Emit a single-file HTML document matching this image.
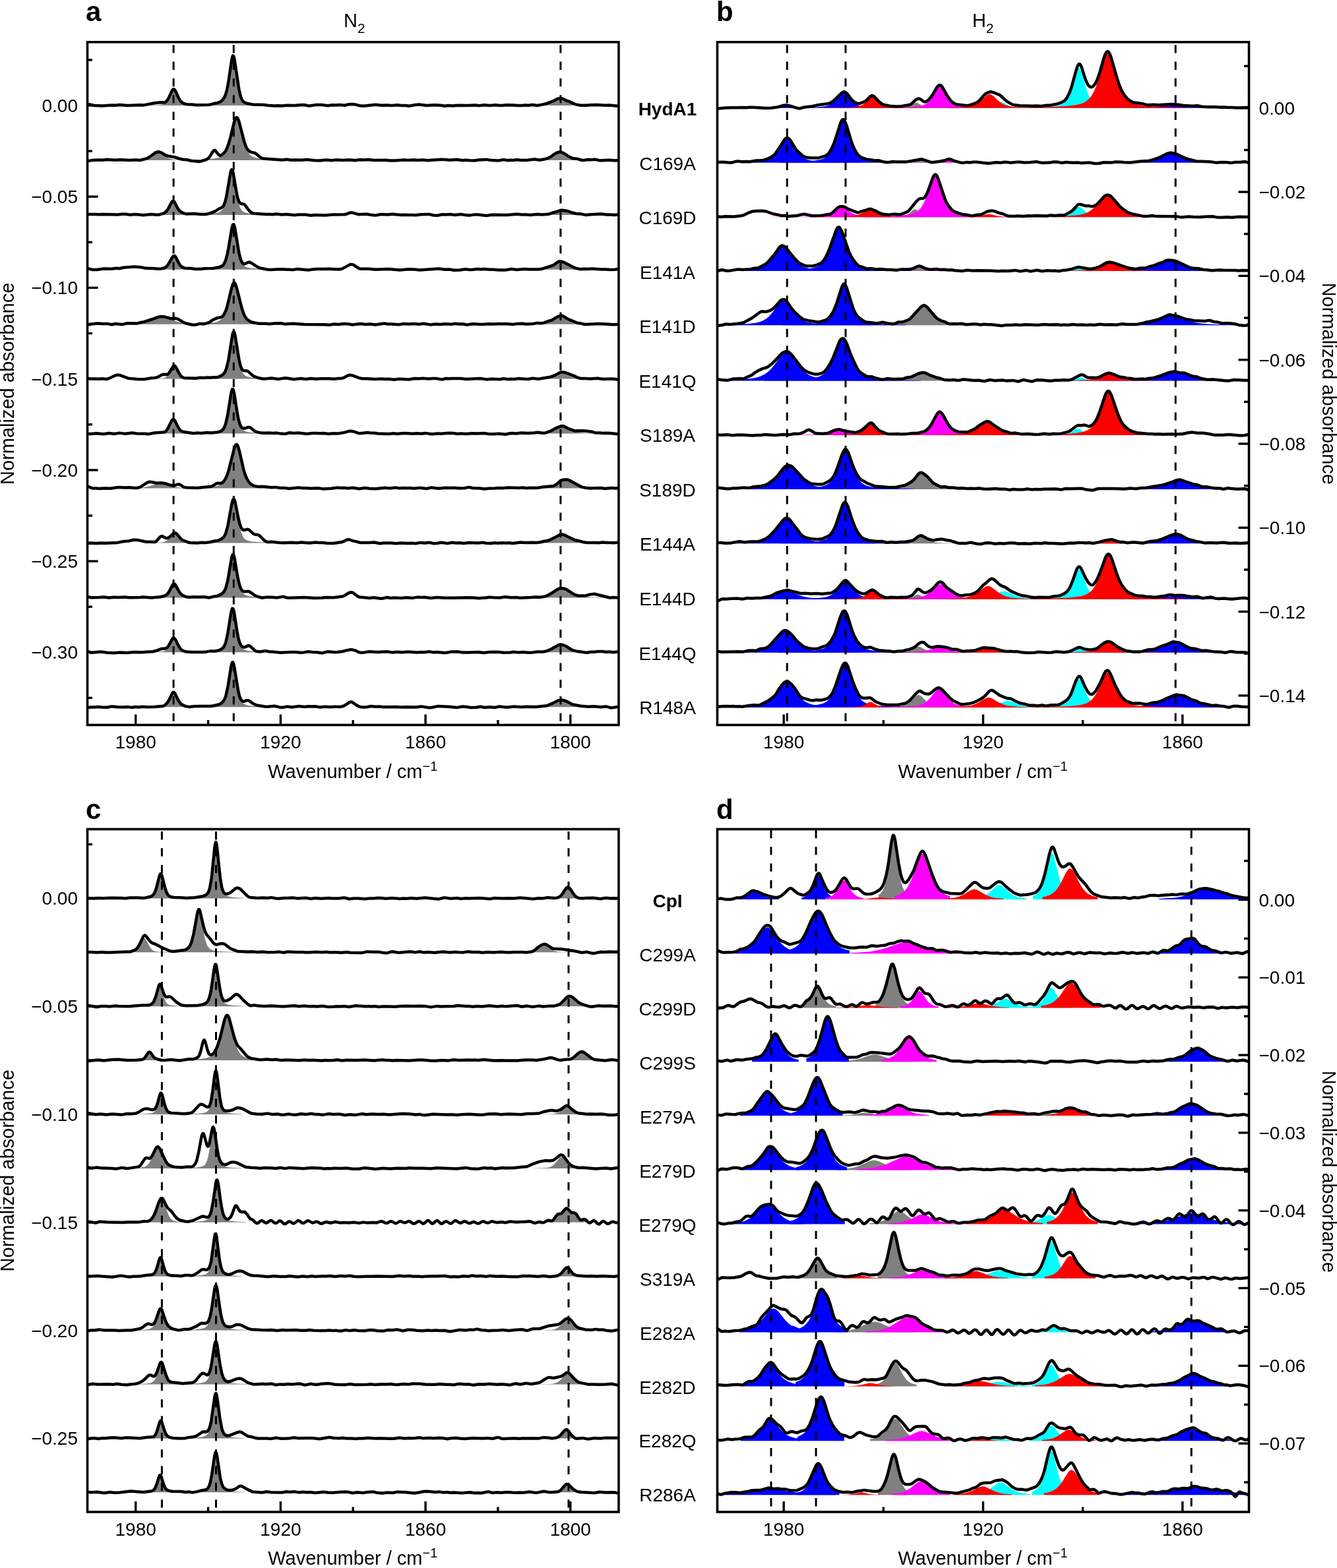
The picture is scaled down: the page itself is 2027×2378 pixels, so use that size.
<!DOCTYPE html>
<html><head><meta charset="utf-8"><title>Figure</title>
<style>html,body{margin:0;padding:0;background:#fff;}svg{display:block;}</style></head>
<body><svg width="2027" height="2378" viewBox="0 0 2027 2378" font-family='"Liberation Sans", Arial, Helvetica, sans-serif'>
<rect width="2027" height="2378" fill="#fff"/>
<rect x="132.5" y="63.8" width="805.5" height="1035.7" fill="none" stroke="#000" stroke-width="3.6" stroke-linejoin="miter"/>
<rect x="1087.5" y="63.8" width="806.0" height="1035.7" fill="none" stroke="#000" stroke-width="3.6" stroke-linejoin="miter"/>
<rect x="132.5" y="1257.5" width="805.5" height="1035.5" fill="none" stroke="#000" stroke-width="3.6" stroke-linejoin="miter"/>
<rect x="1087.5" y="1257.5" width="806.0" height="1035.5" fill="none" stroke="#000" stroke-width="3.6" stroke-linejoin="miter"/>
<line x1="205.7" y1="1099.5" x2="205.7" y2="1083.5" stroke="#000" stroke-width="3.4"/>
<text x="205.7" y="1135.0" font-size="28" text-anchor="middle">1980</text>
<line x1="425.4" y1="1099.5" x2="425.4" y2="1083.5" stroke="#000" stroke-width="3.4"/>
<text x="425.4" y="1135.0" font-size="28" text-anchor="middle">1920</text>
<line x1="645.1" y1="1099.5" x2="645.1" y2="1083.5" stroke="#000" stroke-width="3.4"/>
<text x="645.1" y="1135.0" font-size="28" text-anchor="middle">1860</text>
<line x1="864.8" y1="1099.5" x2="864.8" y2="1083.5" stroke="#000" stroke-width="3.4"/>
<text x="864.8" y="1135.0" font-size="28" text-anchor="middle">1800</text>
<line x1="315.6" y1="1099.5" x2="315.6" y2="1092.0" stroke="#000" stroke-width="3.4"/>
<line x1="535.2" y1="1099.5" x2="535.2" y2="1092.0" stroke="#000" stroke-width="3.4"/>
<line x1="754.9" y1="1099.5" x2="754.9" y2="1092.0" stroke="#000" stroke-width="3.4"/>
<text x="534.8" y="1179.5" font-size="29" text-anchor="middle">Wavenumber / cm<tspan font-size="20" dy="-11">−</tspan><tspan font-size="20">1</tspan></text>
<line x1="1188.2" y1="1099.5" x2="1188.2" y2="1083.5" stroke="#000" stroke-width="3.4"/>
<text x="1188.2" y="1135.0" font-size="28" text-anchor="middle">1980</text>
<line x1="1490.5" y1="1099.5" x2="1490.5" y2="1083.5" stroke="#000" stroke-width="3.4"/>
<text x="1490.5" y="1135.0" font-size="28" text-anchor="middle">1920</text>
<line x1="1792.8" y1="1099.5" x2="1792.8" y2="1083.5" stroke="#000" stroke-width="3.4"/>
<text x="1792.8" y="1135.0" font-size="28" text-anchor="middle">1860</text>
<line x1="1339.4" y1="1099.5" x2="1339.4" y2="1092.0" stroke="#000" stroke-width="3.4"/>
<line x1="1641.6" y1="1099.5" x2="1641.6" y2="1092.0" stroke="#000" stroke-width="3.4"/>
<text x="1490.0" y="1179.5" font-size="29" text-anchor="middle">Wavenumber / cm<tspan font-size="20" dy="-11">−</tspan><tspan font-size="20">1</tspan></text>
<line x1="205.7" y1="2293.0" x2="205.7" y2="2277.0" stroke="#000" stroke-width="3.4"/>
<text x="205.7" y="2328.5" font-size="28" text-anchor="middle">1980</text>
<line x1="425.4" y1="2293.0" x2="425.4" y2="2277.0" stroke="#000" stroke-width="3.4"/>
<text x="425.4" y="2328.5" font-size="28" text-anchor="middle">1920</text>
<line x1="645.1" y1="2293.0" x2="645.1" y2="2277.0" stroke="#000" stroke-width="3.4"/>
<text x="645.1" y="2328.5" font-size="28" text-anchor="middle">1860</text>
<line x1="864.8" y1="2293.0" x2="864.8" y2="2277.0" stroke="#000" stroke-width="3.4"/>
<text x="864.8" y="2328.5" font-size="28" text-anchor="middle">1800</text>
<line x1="315.6" y1="2293.0" x2="315.6" y2="2285.5" stroke="#000" stroke-width="3.4"/>
<line x1="535.2" y1="2293.0" x2="535.2" y2="2285.5" stroke="#000" stroke-width="3.4"/>
<line x1="754.9" y1="2293.0" x2="754.9" y2="2285.5" stroke="#000" stroke-width="3.4"/>
<text x="534.8" y="2373.0" font-size="29" text-anchor="middle">Wavenumber / cm<tspan font-size="20" dy="-11">−</tspan><tspan font-size="20">1</tspan></text>
<line x1="1188.2" y1="2293.0" x2="1188.2" y2="2277.0" stroke="#000" stroke-width="3.4"/>
<text x="1188.2" y="2328.5" font-size="28" text-anchor="middle">1980</text>
<line x1="1490.5" y1="2293.0" x2="1490.5" y2="2277.0" stroke="#000" stroke-width="3.4"/>
<text x="1490.5" y="2328.5" font-size="28" text-anchor="middle">1920</text>
<line x1="1792.8" y1="2293.0" x2="1792.8" y2="2277.0" stroke="#000" stroke-width="3.4"/>
<text x="1792.8" y="2328.5" font-size="28" text-anchor="middle">1860</text>
<line x1="1339.4" y1="2293.0" x2="1339.4" y2="2285.5" stroke="#000" stroke-width="3.4"/>
<line x1="1641.6" y1="2293.0" x2="1641.6" y2="2285.5" stroke="#000" stroke-width="3.4"/>
<text x="1490.0" y="2373.0" font-size="29" text-anchor="middle">Wavenumber / cm<tspan font-size="20" dy="-11">−</tspan><tspan font-size="20">1</tspan></text>
<line x1="132.5" y1="160.0" x2="148.5" y2="160.0" stroke="#000" stroke-width="3.4"/>
<text x="118.0" y="170.0" font-size="28" text-anchor="end">0.00</text>
<line x1="132.5" y1="298.2" x2="148.5" y2="298.2" stroke="#000" stroke-width="3.4"/>
<text x="118.0" y="308.2" font-size="28" text-anchor="end">−0.05</text>
<line x1="132.5" y1="436.4" x2="148.5" y2="436.4" stroke="#000" stroke-width="3.4"/>
<text x="118.0" y="446.4" font-size="28" text-anchor="end">−0.10</text>
<line x1="132.5" y1="574.6" x2="148.5" y2="574.6" stroke="#000" stroke-width="3.4"/>
<text x="118.0" y="584.6" font-size="28" text-anchor="end">−0.15</text>
<line x1="132.5" y1="712.9" x2="148.5" y2="712.9" stroke="#000" stroke-width="3.4"/>
<text x="118.0" y="722.9" font-size="28" text-anchor="end">−0.20</text>
<line x1="132.5" y1="851.1" x2="148.5" y2="851.1" stroke="#000" stroke-width="3.4"/>
<text x="118.0" y="861.1" font-size="28" text-anchor="end">−0.25</text>
<line x1="132.5" y1="989.3" x2="148.5" y2="989.3" stroke="#000" stroke-width="3.4"/>
<text x="118.0" y="999.3" font-size="28" text-anchor="end">−0.30</text>
<line x1="132.5" y1="1058.4" x2="140.0" y2="1058.4" stroke="#000" stroke-width="3.4"/>
<line x1="132.5" y1="920.2" x2="140.0" y2="920.2" stroke="#000" stroke-width="3.4"/>
<line x1="132.5" y1="782.0" x2="140.0" y2="782.0" stroke="#000" stroke-width="3.4"/>
<line x1="132.5" y1="643.8" x2="140.0" y2="643.8" stroke="#000" stroke-width="3.4"/>
<line x1="132.5" y1="505.5" x2="140.0" y2="505.5" stroke="#000" stroke-width="3.4"/>
<line x1="132.5" y1="367.3" x2="140.0" y2="367.3" stroke="#000" stroke-width="3.4"/>
<line x1="132.5" y1="229.1" x2="140.0" y2="229.1" stroke="#000" stroke-width="3.4"/>
<line x1="132.5" y1="90.9" x2="140.0" y2="90.9" stroke="#000" stroke-width="3.4"/>
<line x1="1893.5" y1="163.8" x2="1877.5" y2="163.8" stroke="#000" stroke-width="3.4"/>
<text x="1908.5" y="173.8" font-size="28" text-anchor="start">0.00</text>
<line x1="1893.5" y1="291.1" x2="1877.5" y2="291.1" stroke="#000" stroke-width="3.4"/>
<text x="1908.5" y="301.1" font-size="28" text-anchor="start">−0.02</text>
<line x1="1893.5" y1="418.4" x2="1877.5" y2="418.4" stroke="#000" stroke-width="3.4"/>
<text x="1908.5" y="428.4" font-size="28" text-anchor="start">−0.04</text>
<line x1="1893.5" y1="545.7" x2="1877.5" y2="545.7" stroke="#000" stroke-width="3.4"/>
<text x="1908.5" y="555.7" font-size="28" text-anchor="start">−0.06</text>
<line x1="1893.5" y1="673.0" x2="1877.5" y2="673.0" stroke="#000" stroke-width="3.4"/>
<text x="1908.5" y="683.0" font-size="28" text-anchor="start">−0.08</text>
<line x1="1893.5" y1="800.3" x2="1877.5" y2="800.3" stroke="#000" stroke-width="3.4"/>
<text x="1908.5" y="810.3" font-size="28" text-anchor="start">−0.10</text>
<line x1="1893.5" y1="927.6" x2="1877.5" y2="927.6" stroke="#000" stroke-width="3.4"/>
<text x="1908.5" y="937.6" font-size="28" text-anchor="start">−0.12</text>
<line x1="1893.5" y1="1054.9" x2="1877.5" y2="1054.9" stroke="#000" stroke-width="3.4"/>
<text x="1908.5" y="1064.9" font-size="28" text-anchor="start">−0.14</text>
<line x1="1893.5" y1="991.2" x2="1886.0" y2="991.2" stroke="#000" stroke-width="3.4"/>
<line x1="1893.5" y1="864.0" x2="1886.0" y2="864.0" stroke="#000" stroke-width="3.4"/>
<line x1="1893.5" y1="736.7" x2="1886.0" y2="736.7" stroke="#000" stroke-width="3.4"/>
<line x1="1893.5" y1="609.4" x2="1886.0" y2="609.4" stroke="#000" stroke-width="3.4"/>
<line x1="1893.5" y1="482.1" x2="1886.0" y2="482.1" stroke="#000" stroke-width="3.4"/>
<line x1="1893.5" y1="354.8" x2="1886.0" y2="354.8" stroke="#000" stroke-width="3.4"/>
<line x1="1893.5" y1="227.5" x2="1886.0" y2="227.5" stroke="#000" stroke-width="3.4"/>
<line x1="1893.5" y1="100.2" x2="1886.0" y2="100.2" stroke="#000" stroke-width="3.4"/>
<line x1="132.5" y1="1362.4" x2="148.5" y2="1362.4" stroke="#000" stroke-width="3.4"/>
<text x="118.0" y="1372.4" font-size="28" text-anchor="end">0.00</text>
<line x1="132.5" y1="1526.2" x2="148.5" y2="1526.2" stroke="#000" stroke-width="3.4"/>
<text x="118.0" y="1536.2" font-size="28" text-anchor="end">−0.05</text>
<line x1="132.5" y1="1690.0" x2="148.5" y2="1690.0" stroke="#000" stroke-width="3.4"/>
<text x="118.0" y="1700.0" font-size="28" text-anchor="end">−0.10</text>
<line x1="132.5" y1="1853.8" x2="148.5" y2="1853.8" stroke="#000" stroke-width="3.4"/>
<text x="118.0" y="1863.8" font-size="28" text-anchor="end">−0.15</text>
<line x1="132.5" y1="2017.6" x2="148.5" y2="2017.6" stroke="#000" stroke-width="3.4"/>
<text x="118.0" y="2027.6" font-size="28" text-anchor="end">−0.20</text>
<line x1="132.5" y1="2181.4" x2="148.5" y2="2181.4" stroke="#000" stroke-width="3.4"/>
<text x="118.0" y="2191.4" font-size="28" text-anchor="end">−0.25</text>
<line x1="132.5" y1="2263.3" x2="140.0" y2="2263.3" stroke="#000" stroke-width="3.4"/>
<line x1="132.5" y1="2099.5" x2="140.0" y2="2099.5" stroke="#000" stroke-width="3.4"/>
<line x1="132.5" y1="1935.7" x2="140.0" y2="1935.7" stroke="#000" stroke-width="3.4"/>
<line x1="132.5" y1="1771.9" x2="140.0" y2="1771.9" stroke="#000" stroke-width="3.4"/>
<line x1="132.5" y1="1608.1" x2="140.0" y2="1608.1" stroke="#000" stroke-width="3.4"/>
<line x1="132.5" y1="1444.3" x2="140.0" y2="1444.3" stroke="#000" stroke-width="3.4"/>
<line x1="132.5" y1="1280.5" x2="140.0" y2="1280.5" stroke="#000" stroke-width="3.4"/>
<line x1="1893.5" y1="1364.5" x2="1877.5" y2="1364.5" stroke="#000" stroke-width="3.4"/>
<text x="1908.5" y="1374.5" font-size="28" text-anchor="start">0.00</text>
<line x1="1893.5" y1="1482.3" x2="1877.5" y2="1482.3" stroke="#000" stroke-width="3.4"/>
<text x="1908.5" y="1492.3" font-size="28" text-anchor="start">−0.01</text>
<line x1="1893.5" y1="1600.1" x2="1877.5" y2="1600.1" stroke="#000" stroke-width="3.4"/>
<text x="1908.5" y="1610.1" font-size="28" text-anchor="start">−0.02</text>
<line x1="1893.5" y1="1717.9" x2="1877.5" y2="1717.9" stroke="#000" stroke-width="3.4"/>
<text x="1908.5" y="1727.9" font-size="28" text-anchor="start">−0.03</text>
<line x1="1893.5" y1="1835.7" x2="1877.5" y2="1835.7" stroke="#000" stroke-width="3.4"/>
<text x="1908.5" y="1845.7" font-size="28" text-anchor="start">−0.04</text>
<line x1="1893.5" y1="1953.5" x2="1877.5" y2="1953.5" stroke="#000" stroke-width="3.4"/>
<text x="1908.5" y="1963.5" font-size="28" text-anchor="start">−0.05</text>
<line x1="1893.5" y1="2071.3" x2="1877.5" y2="2071.3" stroke="#000" stroke-width="3.4"/>
<text x="1908.5" y="2081.3" font-size="28" text-anchor="start">−0.06</text>
<line x1="1893.5" y1="2189.1" x2="1877.5" y2="2189.1" stroke="#000" stroke-width="3.4"/>
<text x="1908.5" y="2199.1" font-size="28" text-anchor="start">−0.07</text>
<line x1="1893.5" y1="2248.0" x2="1886.0" y2="2248.0" stroke="#000" stroke-width="3.4"/>
<line x1="1893.5" y1="2130.2" x2="1886.0" y2="2130.2" stroke="#000" stroke-width="3.4"/>
<line x1="1893.5" y1="2012.4" x2="1886.0" y2="2012.4" stroke="#000" stroke-width="3.4"/>
<line x1="1893.5" y1="1894.6" x2="1886.0" y2="1894.6" stroke="#000" stroke-width="3.4"/>
<line x1="1893.5" y1="1776.8" x2="1886.0" y2="1776.8" stroke="#000" stroke-width="3.4"/>
<line x1="1893.5" y1="1659.0" x2="1886.0" y2="1659.0" stroke="#000" stroke-width="3.4"/>
<line x1="1893.5" y1="1541.2" x2="1886.0" y2="1541.2" stroke="#000" stroke-width="3.4"/>
<line x1="1893.5" y1="1423.4" x2="1886.0" y2="1423.4" stroke="#000" stroke-width="3.4"/>
<line x1="1893.5" y1="1305.6" x2="1886.0" y2="1305.6" stroke="#000" stroke-width="3.4"/>
<text x="130" y="31.5" font-size="42" font-weight="bold">a</text>
<text x="1086" y="31.5" font-size="42" font-weight="bold">b</text>
<text x="130" y="1242" font-size="42" font-weight="bold">c</text>
<text x="1086" y="1242" font-size="42" font-weight="bold">d</text>
<text x="521" y="40.8" font-size="29">N<tspan font-size="20.5" dy="8.8">2</tspan></text>
<text x="1474" y="40.8" font-size="29">H<tspan font-size="20.5" dy="8.8">2</tspan></text>
<text transform="translate(20.8,581.8) rotate(-90)" font-size="29" text-anchor="middle">Normalized absorbance</text>
<text transform="translate(20.8,1775.3) rotate(-90)" font-size="29" text-anchor="middle">Normalized absorbance</text>
<text transform="translate(2005.4,581.8) rotate(90)" font-size="29" text-anchor="middle">Normalized absorbance</text>
<text transform="translate(2005.4,1776.9) rotate(90)" font-size="29" text-anchor="middle">Normalized absorbance</text>
<text x="1012" y="175.0" font-size="28" text-anchor="middle" font-weight="bold">HydA1</text>
<text x="1012" y="257.6" font-size="28" text-anchor="middle">C169A</text>
<text x="1012" y="340.1" font-size="28" text-anchor="middle">C169D</text>
<text x="1012" y="422.6" font-size="28" text-anchor="middle">E141A</text>
<text x="1012" y="505.2" font-size="28" text-anchor="middle">E141D</text>
<text x="1012" y="587.8" font-size="28" text-anchor="middle">E141Q</text>
<text x="1012" y="670.3" font-size="28" text-anchor="middle">S189A</text>
<text x="1012" y="752.9" font-size="28" text-anchor="middle">S189D</text>
<text x="1012" y="835.4" font-size="28" text-anchor="middle">E144A</text>
<text x="1012" y="917.9" font-size="28" text-anchor="middle">E144D</text>
<text x="1012" y="1000.5" font-size="28" text-anchor="middle">E144Q</text>
<text x="1012" y="1083.0" font-size="28" text-anchor="middle">R148A</text>
<text x="1012" y="1376.4" font-size="28" text-anchor="middle" font-weight="bold">CpI</text>
<text x="1012" y="1458.3" font-size="28" text-anchor="middle">C299A</text>
<text x="1012" y="1540.2" font-size="28" text-anchor="middle">C299D</text>
<text x="1012" y="1622.1" font-size="28" text-anchor="middle">C299S</text>
<text x="1012" y="1704.0" font-size="28" text-anchor="middle">E279A</text>
<text x="1012" y="1785.9" font-size="28" text-anchor="middle">E279D</text>
<text x="1012" y="1867.8" font-size="28" text-anchor="middle">E279Q</text>
<text x="1012" y="1949.7" font-size="28" text-anchor="middle">S319A</text>
<text x="1012" y="2031.6" font-size="28" text-anchor="middle">E282A</text>
<text x="1012" y="2113.5" font-size="28" text-anchor="middle">E282D</text>
<text x="1012" y="2195.4" font-size="28" text-anchor="middle">E282Q</text>
<text x="1012" y="2277.3" font-size="28" text-anchor="middle">R286A</text>
<g><path d="M208.6 160l0-0.1l30.5-0.6l6-0.5l3.5-1.1l2.5-1.7l2.5-3.2l2-3.8l5-11.8l1.5-2.2l1-0.5l1 0.4l1.5 1.9l5 11.8l2.5 4.7l2.5 2.9l2.5 1.6l3.5 1l6 0.6l30.2 0.5l0 0.1z" fill="#808080"/><path d="M301 160l0-0.6l17.5-0.7l6-0.5l5-0.8l3.5-0.9l2.5-1.1l2-1.4l2-2.3l1.5-2.8l1-2.5l1.5-5.1l1-4.3l2-11.4l4.5-31.8l1.5-6.9l0.5-1l0.5-0.4l0.5 0.4l0.5 1l1.5 6.9l4.5 31.8l2 11.4l1 4.3l1.5 5.1l1 2.5l1.5 2.8l2 2.3l2 1.4l2.5 1.1l3.5 0.9l5 0.8l6 0.5l17.5 0.7l0 0.6z" fill="#808080"/><path d="M740.8 160l0-0.1l59-0.2l13-0.3l7.5-0.4l5.5-0.8l5-1.3l5-1.9l9-4.3l2.5-0.9l2.5-0.3l2.5 0.2l2.5 0.8l9.5 4.5l4.5 1.8l4.5 1.2l4.5 0.8l6.5 0.5l9 0.3l42.9 0.3l0 0.1z" fill="#808080"/><path d="M184.1 242.9l0-0.1l24-0.2l5.5-0.3l4-0.6l3.5-1l3.5-1.5l11-6.8l2-0.7l2-0.3l2 0.3l2 0.7l11 6.8l3.5 1.6l3.5 0.9l4 0.6l5 0.3l24.3 0.2l0 0.1z" fill="#808080"/><path d="M279.1 242.9l0-0.5l26-0.5l16.5-1.1l5.5-0.8l4-0.9l3.5-1.3l2.5-1.6l2.5-2.5l2-2.8l2-3.9l1.5-3.7l3.5-11.4l5-20.6l2-7.3l1-2.8l1-1.9l1-0.8l0.5 0l0.5 0.2l1 1.3l2 5.3l6.5 26.2l3.5 11.5l1.5 3.8l2 3.9l2 2.9l2.5 2.5l2.5 1.6l3.5 1.4l4 0.9l5.5 0.8l16.5 1.1l26.1 0.5l0 0.5z" fill="#808080"/><path d="M748.2 242.9l0-0.1l54.5-0.3l12-0.3l7-0.5l5-0.9l4.5-1.5l4.5-2.2l9-5.6l2.5-0.9l2-0.2l2 0.3l2.5 1l8.5 5.3l4 2.1l4.5 1.5l4.5 0.9l6.5 0.6l9.5 0.4l45 0.3l0 0.1z" fill="#808080"/><path d="M207.9 325.9l0-0.2l30.5-0.4l6-0.4l3.5-0.9l2.5-1.4l2.5-2.5l2-3.1l5-9.5l1.5-1.7l1-0.4l1 0.2l1.5 1.6l5 9.5l2.5 3.7l2.5 2.4l2.5 1.3l3.5 0.8l6 0.4l30.2 0.4l0 0.2z" fill="#808080"/><path d="M296.9 325.9l0-0.6l18.5-0.6l11-1.2l3.5-0.8l3-1.1l2-1.3l2-2l1.5-2.4l1-2.2l2.5-8l2.5-12.5l4.5-28.2l1.5-6.2l0.5-1l0.5-0.4l0.5 0.2l0.5 0.8l1.5 5.5l4.5 28.2l2.5 12.7l2.5 8.4l1.5 3.2l1.5 2.3l2 1.9l2 1.1l3 1.1l3.5 0.7l11 1.2l18.2 0.6l0 0.6z" fill="#808080"/><path d="M753 325.9l0-0.1l54.5-0.2l19-0.5l5-0.5l4.5-0.9l4.5-1.3l9-3.4l2.5-0.5l2-0.1l2 0.1l2.5 0.6l8.5 3.2l4 1.2l4 0.9l4.5 0.6l15 0.6l41.7 0.2l0 0.1z" fill="#808080"/><path d="M209.3 408.8l0-0.1l30.5-0.4l6-0.5l3.5-0.9l2.5-1.4l2.5-2.5l2-3.1l5-9.4l1.5-1.8l1-0.4l1 0.3l1.5 1.6l5 9.4l2.5 3.8l2.5 2.4l2.5 1.3l3.5 0.7l6 0.5l30.2 0.4l0 0.1z" fill="#808080"/><path d="M299.2 408.8l0-0.5l18.5-0.7l11-1.2l3.5-0.8l3-1.1l2-1.2l2-2.1l1.5-2.4l1-2.2l2.5-8l2.5-12.4l4.5-28.3l1.5-6.1l0.5-1.1l0.5-0.4l0.5 0.2l0.5 0.8l1.5 5.6l4.5 28.1l2.5 12.8l2.5 8.3l1.5 3.3l1.5 2.2l2 1.9l2 1.2l3 1l3.5 0.8l11 1.1l18.2 0.7l0 0.5z" fill="#808080"/><path d="M740.8 408.8l0-0.1l59-0.3l13-0.3l7.5-0.6l5.5-0.8l5-1.5l5-2.4l9-5.1l2.5-1l2.5-0.4l2.5 0.3l2.5 0.9l9.5 5.4l4.5 2.1l4.5 1.4l4.5 0.9l6.5 0.6l9 0.4l42.9 0.3l0 0.2z" fill="#808080"/><path d="M150.8 491.7l0-0.1l41-0.2l8.5-0.3l7-0.7l6-1l5.5-1.4l5-1.7l9.5-3.8l4-1.3l3.5-0.7l3-0.3l3.5 0.3l3.5 0.7l18.5 6.8l6 1.5l6 1l6.5 0.6l9 0.3l40.4 0.2l0 0.1z" fill="#808080"/><path d="M279.4 491.7l0-0.5l25-0.5l15.5-1.1l5-0.7l4-1l3-1.2l2.5-1.6l2-1.9l2-2.8l2-3.9l1.5-3.7l3.5-11.7l6-24.9l2-5.5l1-1.3l0.5-0.2l0.5 0.1l1 1.1l1 2.1l1 3l6.5 26.7l2 7l1.5 4.4l1.5 3.6l2 3.7l1.5 2l2 2.1l2.5 1.6l3 1.3l4 0.9l5 0.8l15.5 1.1l25.2 0.5l0 0.5z" fill="#808080"/><path d="M741.8 491.7l0-0.1l59-0.3l13-0.3l7.5-0.5l5.5-0.9l5-1.5l5-2.3l9-5.2l2.5-1l2.5-0.4l2.5 0.3l2.5 0.9l9.5 5.4l4.5 2.1l4.5 1.5l4.5 0.8l6.5 0.7l9 0.3l41.9 0.4l0 0.1z" fill="#808080"/><path d="M209.6 574.6l0-0.1l30.5-0.4l6-0.4l3.5-0.8l2.5-1.3l2.5-2.5l2-2.9l5-9l1.5-1.7l1-0.4l1 0.3l1.5 1.5l5 9l2.5 3.6l2.5 2.3l2.5 1.2l3.5 0.7l6 0.4l30.2 0.4l0 0.1z" fill="#808080"/><path d="M299.7 574.6l0-0.5l18.5-0.7l6-0.5l5-0.7l3.5-0.8l3-1.1l2-1.3l2-2.2l1.5-2.4l1-2.3l2.5-8.2l2.5-12.8l4.5-29.1l1.5-6.3l0.5-1.1l0.5-0.4l0.5 0.1l0.5 0.9l1.5 5.7l4.5 29l2.5 13.1l2.5 8.6l1.5 3.3l1.5 2.3l2 2l2 1.2l3 1.1l3.5 0.8l11 1.1l18.2 0.7l0 0.5z" fill="#808080"/><path d="M744.6 574.6l0 0l59-0.3l13-0.2l7.5-0.5l5.5-0.7l5-1.3l5-2l9-4.3l2.5-0.8l2.5-0.4l2.5 0.3l2.5 0.7l9.5 4.6l4.5 1.8l4 1.1l4.5 0.7l6 0.6l9 0.3l40.1 0.3l0 0.1z" fill="#808080"/><path d="M208.4 657.6l0-0.1l30.5-0.5l6-0.5l3.5-0.9l2.5-1.4l2.5-2.7l2-3.2l5-9.9l1.5-1.9l1-0.4l1 0.3l1.5 1.7l5 9.8l2.5 4l2.5 2.5l2.5 1.4l3.5 0.8l6 0.4l30.2 0.5l0 0.1z" fill="#808080"/><path d="M300.2 657.6l0-0.5l17.5-0.7l6-0.4l5-0.7l3.5-0.9l2.5-0.9l2-1.3l2-2l1.5-2.5l1-2.3l1.5-4.5l1-3.9l2-10.1l4.5-28.4l1.5-6.1l0.5-1l0.5-0.3l0.5 0.3l0.5 1l1.5 6.1l4.5 28.4l2 10.1l1 3.9l1.5 4.5l1 2.3l1.5 2.5l2 2l2 1.3l2.5 0.9l3.5 0.9l5 0.7l6 0.4l17.5 0.7l0 0.5z" fill="#808080"/><path d="M742 657.6l0-0.1l59-0.3l13-0.3l7.5-0.5l5.5-0.8l5-1.4l5-2.1l9-4.8l2.5-0.9l2.5-0.3l2.5 0.2l2.5 0.9l9.5 5l4.5 1.9l4.5 1.3l4.5 0.8l6.5 0.6l9 0.3l41.7 0.3l0 0.2z" fill="#808080"/><path d="M168.4 740.5l0-0.1l33-0.1l12.5-0.6l5-0.7l4.5-0.9l15-4.4l3-0.5l2.5-0.2l2.5 0.1l3 0.5l15 4.5l4.5 0.9l5 0.7l12.5 0.6l33.2 0.1l0 0.1z" fill="#808080"/><path d="M278.6 740.5l0-0.5l26-0.6l16.5-1.1l5.5-0.8l4-0.9l3.5-1.4l2.5-1.7l2.5-2.5l2-2.9l2-4l1.5-3.8l3.5-11.8l5-21.3l2-7.5l1-2.8l1-2l1-0.8l0.5-0.1l0.5 0.3l1 1.3l2 5.4l6.5 27.1l3.5 11.9l1.5 3.8l2 4.1l2 3l2.5 2.6l2.5 1.6l3.5 1.4l4 1l5.5 0.8l16.5 1.1l26.1 0.6l0 0.5z" fill="#808080"/><path d="M748.3 740.5l0-0.1l59-0.3l13-0.4l7.5-0.5l5.5-1l5-1.6l5-2.5l9-5.6l2.5-1.1l2.5-0.4l2.5 0.3l2.5 1l9.5 5.8l4.5 2.3l4 1.4l4.5 1l6 0.7l8.5 0.4l36.9 0.4l0 0.2z" fill="#808080"/><path d="M224.6 823.4l0-0.1l17.5-0.4l4-0.4l3-0.8l2.5-1.1l2.5-1.7l8-7.8l1.5-0.9l1.5-0.3l1.5 0.4l1.5 1l5.5 5.7l2.5 2.2l2 1.3l2.5 1.2l3 0.7l4 0.5l17.6 0.4l0 0.1z" fill="#808080"/><path d="M295.5 823.4l0-0.5l19.5-0.6l12-1.1l4-0.8l3-0.9l2.5-1.4l2-1.8l1.5-2.1l1.5-2.9l2.5-7.3l2.5-11l5.5-30l1.5-4.4l0.5-0.6l0.5 0l1 1.4l1.5 5.4l5 27.7l2.5 11.1l2.5 7.5l1.5 2.9l1.5 2.2l2 1.8l2.5 1.4l3 1l4 0.8l12 1.1l19.6 0.6l0 0.5z" fill="#808080"/><path d="M734.9 823.4l0-0.1l64-0.3l13.5-0.3l8.5-0.5l6-1l5-1.4l5-2.2l10.5-5.5l2.5-0.8l2.5-0.4l2.5 0.3l3 1l10 5.3l4.5 2l4.5 1.4l4.5 0.9l6.5 0.7l9 0.4l39.3 0.4l0 0.1z" fill="#808080"/><path d="M209.1 906.4l0-0.1l30.5-0.5l6-0.4l3.5-0.9l2.5-1.4l2.5-2.5l2-3.1l5-9.5l1.5-1.7l1-0.4l1 0.2l1.5 1.6l5 9.5l2.5 3.8l2.5 2.3l2.5 1.3l3.5 0.8l6 0.4l30.2 0.5l0 0.1z" fill="#808080"/><path d="M298.7 906.4l0-0.5l18.5-0.7l11-1.1l3.5-0.7l3-1.1l2-1.1l2-2l1.5-2.2l1-2.1l2.5-7.6l2.5-11.7l4.5-26.6l1.5-5.7l0.5-1l0.5-0.4l0.5 0.1l0.5 0.8l1.5 5.3l4.5 26.4l2.5 12.1l2.5 7.9l1.5 3l1.5 2.1l2 1.8l2 1.1l3 1l3.5 0.7l11 1.1l18.2 0.6l0 0.5z" fill="#808080"/><path d="M734.9 906.4l0-0.1l64-0.4l13.5-0.3l8.5-0.7l6-1l5-1.6l5-2.4l10.5-6.2l2.5-1l2.5-0.3l2.5 0.3l3 1.1l10 6l4.5 2.2l4.5 1.5l4.5 1l6.5 0.8l9 0.4l39.3 0.5l0 0.2z" fill="#808080"/><path d="M208.6 989.3l0-0.1l30.5-0.5l6-0.5l3.5-0.8l2.5-1.5l2.5-2.7l2-3.2l5-9.9l1.5-1.9l1-0.4l1 0.3l1.5 1.7l5 9.8l2.5 4l2.5 2.5l2.5 1.4l3.5 0.8l6 0.4l30.2 0.5l0 0.1z" fill="#808080"/><path d="M300.2 989.3l0-0.5l17.5-0.6l6-0.5l5-0.7l3.5-0.8l2.5-1l2-1.2l2-2.1l1.5-2.5l1-2.2l1.5-4.6l1-3.9l2-10.1l4.5-28.4l1.5-6.1l0.5-1l0.5-0.3l0.5 0.3l0.5 1l1.5 6.1l4.5 28.4l2 10.1l1 3.9l1.5 4.6l1 2.2l1.5 2.5l2 2.1l2 1.2l2.5 1l3.5 0.8l5 0.7l6 0.5l17.5 0.6l0 0.5z" fill="#808080"/><path d="M741.5 989.3l0-0.1l59-0.3l13-0.3l7.5-0.5l5.5-0.8l5-1.4l5-2.1l9-4.7l2.5-0.9l2.5-0.4l2.5 0.3l2.5 0.8l9.5 5l4.5 1.9l4.5 1.3l4.5 0.8l6.5 0.6l9 0.3l42.2 0.4l0 0.1z" fill="#808080"/><path d="M208.6 1072.2l0-0.1l30.5-0.4l6-0.5l3.5-0.9l2.5-1.5l2.5-2.7l2-3.2l5-9.9l1.5-1.8l1-0.5l1 0.3l1.5 1.7l5 9.9l2.5 3.9l2.5 2.6l2.5 1.3l3.5 0.8l6 0.5l30.2 0.4l0 0.1z" fill="#808080"/><path d="M300.2 1072.2l0-0.5l17.5-0.6l6-0.5l5-0.7l3.5-0.9l2.5-0.9l2-1.3l2-2.1l1.5-2.5l1-2.3l1.5-4.6l1-4l2-10.2l4.5-28.9l1.5-6.2l0.5-1l0.5-0.3l0.5 0.3l0.5 1l1.5 6.2l4.5 28.9l2 10.2l1 4l1.5 4.6l1 2.3l1.5 2.5l2 2.1l2 1.3l2.5 0.9l3.5 0.9l5 0.7l6 0.5l17.5 0.6l0 0.5z" fill="#808080"/><path d="M742 1072.2l0-0.1l59-0.2l13-0.3l7.5-0.5l5.5-0.8l5-1.3l5-2l9-4.6l2.5-0.8l2.5-0.4l2.5 0.3l2.5 0.8l9.5 4.7l4.5 1.9l4.5 1.3l4.5 0.7l6.5 0.6l9 0.3l41.7 0.3l0 0.1z" fill="#808080"/></g>
<line x1="263.1" y1="68.2" x2="263.1" y2="1096.5" stroke="#000" stroke-width="3" stroke-dasharray="12.4 12.93"/>
<line x1="354.3" y1="68.2" x2="354.3" y2="1096.5" stroke="#000" stroke-width="3" stroke-dasharray="12.4 12.93"/>
<line x1="849.9" y1="68.2" x2="849.9" y2="1096.5" stroke="#000" stroke-width="3" stroke-dasharray="12.4 12.93"/>
<g fill="none" stroke="#000" stroke-width="4.5" stroke-linejoin="round" stroke-linecap="round"><path d="M134.3 158.3l9 1.7l12 0.5l14-0.9l6 0.2l6-0.7l12 0.9l19-0.8l6 0.2l16-3.2l9-0.9l6 0.3l2-0.9l2-2l2-3.3l6-12.6l1-1.2l1-0.4l1 0.4l2 2.9l4 9l3 5.4l3 2.9l4 1.8l4 0.7l7 0.2l6 0.7l19-0.3l3-0.4l4-1.2l7-1.4l4-1.7l3-2.4l3-4.5l2-4.9l2-7.4l2-10.5l5-34l1-4.3l1-1.8l1 1.1l1 3.7l7 46.2l2 8.9l2 5.9l2 3.3l3 2.2l5 1.6l7 1.2l17 0.6l5 0.7l10 0.8l6-0.4l6 0.3l8-0.8l11 0.2l12-0.8l4 0.2l5 1.1l2 0.1l9-1.4l9 0l10 1.1l6-0.9l6 0.2l5-0.4l8 0.7l7-1.5l5-0.3l4 0.4l7 1.8l6 0.6l18-2l9 1l8-0.4l8 0.5l8-0.7l6 0.7l6 0l6 0.9l6-1.2l9-1l12 1.4l11-0.8l10 0.5l6 1l5-0.7l7 0.6l4-0.6l9-0.3l7 0.4l15-0.5l5 0.7l8-1l8 0.7l9-0.8l7 0.9l10-0.8l10 0.2l6 0.5l7-0.1l5-0.4l5 0.2l6-0.7l7 0.9l3-0.3l11-2.4l10-3.8l7-3.6l4-0.7l2 0.1l2 0.6l5 2.6l5 1.7l8 3.7l3 0.8l6 1.1l10 0.1l4-0.5l10-0.4l14 0.9l5-0.4l12.9 1.4"/><path d="M134.3 244.1l6-1.2l10-0.5l6 0.3l5-0.7l14 0.7l7-0.4l14 0.8l10-0.7l5 0.5l2-0.2l7-1.7l4-1.5l2-1.2l9-6.6l3-1.2l2-0.2l2 0.4l3 1.1l6 3.7l2 0.8l12 2.2l9 2.8l4 0.7l5 0.2l7 1.8l5 0.2l5 0.8l2 0l3-0.6l7-2.2l2-1l2-1.6l2-2.3l4-6.8l2-2.4l1-0.3l1 0.5l5 6.2l2 1.2l1 0l2-1l3-2.5l2-2.3l2-3.4l3-7.6l3-10.4l6-24.4l2-4.8l1-1.1l1 0l1 1.1l2 4.7l8 30.9l3 8.3l2 3.5l3 2.9l3 1.3l5 1.1l2 1.2l6 5.2l3 1.5l2 0.5l27 2.1l3 0l5-0.8l7 1l5-0.3l11 0.3l8-0.6l11 1.1l9 0.4l9-1.2l8 0.8l8-0.8l10 0.6l8-0.5l5 0.2l5 0.6l7-1l7 0.1l6-0.4l8 1l12 0.1l6-0.3l6 0.8l9-0.1l13-1l6 0.4l9-0.5l7 0.5l6-0.5l8 0.8l22-1.4l12 1l10-0.7l9 1.1l5-0.5l5 0.6l8 0.1l7-0.8l10-0.6l3 0.1l5 1l10 0.4l3-0.2l6-1.2l6 1.2l4-0.5l5 0.2l6-0.8l5 0.7l9 0l12-1.4l8 1.2l8-1.4l5-1.7l4-2l5-3.8l3-1.7l3-1.2l3-0.4l2 0.4l3 1.3l7 4.5l6 3l2 0.5l5 0.5l8 2.3l3 0.1l6-1.1l5 0.3l5-0.5l2 0.2l6 1.4l14-0.7l9 0.7l3.9-0.2"/><path d="M134.3 325.1l9-0.2l6 0.4l6-0.3l23 0.4l7-0.6l5 0l7 0.9l8-0.6l12 1.1l12-1.1l8 0.7l3-0.1l7-1.8l2-0.9l2-1.5l3-3.8l6-11.2l1-1.2l1-0.5l1 0.3l1 0.9l5 9.7l3 4.2l2 1.5l5 2.3l3 0.7l12-0.3l9 1l9-0.2l3-0.6l11-3.8l5-3.5l5-2.3l2-1.9l1-1.7l2-5.1l2-8.2l6-35.2l1-3.7l1-1.6l1 0.7l1 3.1l6 34.5l1 4.4l2 5.8l2 2.6l1 0.5l4 0.6l1 0.5l2 2.1l4 5.6l3 3.4l3 2l3 0.7l18 1.3l5-0.2l5 0.3l6-0.6l8 1l7-0.6l12 1.3l6-0.7l11 0l8 1.2l6-0.7l16 0.4l11-1l18-0.2l3-0.6l5-2l3-0.3l10 2.8l13-0.4l7 1.3l5 0.4l3-0.3l6-1.2l11 0.5l6-0.8l14 1.2l5-0.1l5 0.3l6-0.2l6 0.4l8-1l12-0.4l7 1.6l6 0.2l7-1.5l6 0.3l6-0.4l7 0.9l10-1l6 1.1l5 0.4l3-0.1l5-0.8l6 0l13 1.5l8-1.4l24 0.3l14-1.2l8 0.7l6-0.1l7 0.6l10-1l8 0.6l10-0.9l6-2.2l5-1.2l6-2.2l3-0.4l8 1.3l7 2.5l6 1.5l8 0.6l7 1.4l8-0.8l15-0.6l8 0.9l6-0.1l6 0.5l4.9-0.5"/><path d="M134.3 407.4l5 1.5l8 0l10-1.4l12 0.2l7-1l5 0.5l6-1.4l16-1.2l10 0.7l6 1.1l6 0.7l6-0.2l9 0.9l4-0.3l5-1.2l3-1.9l3-3.8l6-10.4l2-2.1l1-0.1l1 0.5l1 1.2l5 9.8l2 3.1l3 2.6l4 1.4l3 0.5l6-0.1l6 0.9l9 0.2l6-0.9l13-0.2l9-1.9l4-1.6l2-1.6l2-3l2-4.9l2-7.3l2-9.8l5-29.8l1-4.3l1-2.4l1-0.1l1 2.4l1 4.3l6 36.3l2 8.2l1 3l2 4l1 1.1l2 0.8l2-0.6l4-2l1-0.2l2 0.3l2 1l7 4.7l4 2.2l3 1l10 1.9l5 0.2l16-0.6l8 0.5l5 0l4 0.4l7-1.1l17 1.4l7-1l8-0.6l10 0.2l6-0.4l15 0.9l3-0.3l3-0.9l10-5.5l2-0.8l2-0.2l3 0.9l7 4.8l2 0.9l3 0.3l11-0.1l10 1l19-0.7l18 1.4l13-1.1l11 0.5l6 0.8l29-2l9 1.2l8-0.2l5 1.1l2 0.1l8-0.4l8-1.2l6 0.7l4 0.1l8-0.9l6 0.4l5-0.6l7 0.9l6 0l9 0.8l10-0.2l9-1.3l8 0.9l13-0.9l5 0.3l15 0.1l6-0.8l16-5.3l2-1.1l6-4.4l3-0.6l3 0.6l3 1.1l16 8.2l3 0.9l6 1.1l6-0.5l5 0.4l6-0.5l14 0.8l6 0l8 0.6l7-0.3l3.9-0.5"/><path d="M134.3 492.3l4-0.8l9-0.9l8 0.5l7-0.2l7 1.4l6-1.3l9 1.1l2-0.2l6-1.6l15 0.3l6-1.6l5-0.9l13-4.1l8-3.1l5-0.9l6 0.6l9 2.6l6-0.4l3 0.4l2 0.9l8 4.8l3 1.4l11 2.4l4-0.1l7-1.7l6 0.3l4-0.8l4-1.6l5-3.4l5-2.4l3-1l5-0.9l2-1.4l2-2.3l3-6.1l2-6.1l6-25.1l2-7.2l1-2.5l1-1.5l1-0.2l1 0.9l2 4.9l8 31.8l3 9.1l2 4.3l2 3l2 2.2l4 2.8l3 1.1l10 1.9l10 0l6 0.5l8-0.6l10-0.3l6 1.3l6-0.7l7-0.1l16 1.3l31 0.2l6 0.4l3-0.2l4-0.9l8 0.4l8-1.1l6 0.4l7 1.2l12-1.4l8 0.8l7-0.4l8 1l13-1.9l6 0.9l5-0.1l11 0.8l8-1.2l7 0.6l8-0.7l8 0.8l7-0.9l10 1.6l8-0.8l7 0.5l7-0.9l10 0.6l6-1l5 0.7l6-0.2l7 1.3l6-1.1l3-0.2l14 0.8l10-0.8l8 0.2l7-0.6l5 0.4l6-0.2l10 0.9l7-1.1l7-0.2l6 0.8l3 0l8-0.5l6-1.1l6 0.3l4-0.5l7-2.7l5-1.3l8-4.8l4-1.7l3-0.6l3 1l6 3.9l14 5.9l2 0.6l5 0.6l5 1.4l22-0.9l15 0.7l5 0.5l7.9-0.2"/><path d="M134.3 574l4 0.5l6-0.1l6 0.3l5-0.4l6 0.6l3-0.7l11-4.9l3-0.8l3 0.4l13 4.8l14 1.4l10 0.1l12-2l5-0.3l4-1.1l7-3.7l2-0.4l4 0.4l2-0.6l1-0.8l2-2.6l5-8.2l1-0.9l1-0.2l1 0.4l2 2.6l4 7.8l2 3.3l2 2.3l3 1.7l2 0.3l17 0.6l6-1l6 0.3l5-0.5l4 0.1l5-0.5l5 0.1l3-0.7l5-2.3l3-2.6l2-3.1l2-5l3-12.4l6-37.8l1-3.8l1-1.5l1 1.2l1 3.5l6 37.1l2 8.8l2 5.5l1 1.6l2 1.5l4 0l1 0.1l2 1l6 5.4l3 2.1l7 2.4l6 1.2l4-0.1l9-1l11 1.5l10-1.6l4 0.4l9 1.5l11-1.1l7 0.8l8-1l9 0.9l5-0.5l14-0.1l7 0.6l6-0.8l5-0.1l2-0.4l3-1.2l5-2.8l3-0.7l4 0.6l10 3.7l5 1.2l6-0.1l14 0.9l9-0.6l6 0.5l5-0.3l8 1.1l8-1.1l15 0.8l8-1.5l8 0.2l5-0.5l8 0.8l6-0.5l6 0l8 1.4l2-0.2l5-1.2l5 0.3l5-0.4l12 0.2l8 1l22-1.1l9 1.4l8-0.7l13 0.5l5-1l7 1l4-0.4l6 0.1l6-0.9l5 0.6l9 0.4l7-1.2l9 0.9l18-3l6-2.1l8-4.4l2-0.6l3-0.2l2 0.2l3 0.8l12 4.6l6 2.9l4 1.1l7 0l7 0.6l12-0.9l8 1.2l14-0.5l7.9 1"/><path d="M134.3 658l4 0.1l8-0.9l11 1.1l8-1.3l8 1l8-1.4l6 1l3 0.2l10-1.2l7 1l12 0.1l5 0.5l4-0.4l6-1.4l14-0.8l2-0.7l2-1.9l2-3.1l6-11.8l1-1.3l1-0.7l1 0l1 0.7l1 1.4l4 8.2l3 4.9l2 2l3 1.4l16 2.5l6-0.8l6 0.6l8-0.9l7 0.3l9-0.9l3-0.6l3-1.2l3-2.7l2-3.4l2-5.7l3-13.5l5-31.4l1-4.4l1-2.4l1 0.2l1 2.7l1 4.7l4 26l2 10.9l2 7.6l2 4.6l2 2.1l2 0.7l2-0.1l5-1.7l2 0.1l2 0.9l5 4.3l2 1.2l3 1l6 1.2l5 0.2l7-0.3l6 0.4l5-0.3l6 1l5 0.4l3-0.3l6-1.4l6 0.7l7-0.5l13 1.4l8-0.8l6-0.2l6 0.3l5-0.3l8 1.2l7-0.8l5 0.2l4-0.3l8-1.3l6-1.8l3-0.4l4 0.5l8 2.7l3 0.4l11-1.2l4 0.5l6 0.1l6 0.7l13 0.7l4-0.1l6-0.8l6 0.8l6-0.8l6-0.1l11 0.6l7-0.5l6 0.6l7-0.9l7 1.2l4 0.2l6-0.7l6 0.2l12-1l7 0.3l6 0.8l5-0.3l9 0.5l8-0.8l10 0.1l8-0.5l7 1l8 0.4l8-0.6l10 1l7-1.5l3-0.3l6 0.6l8-0.9l10 0.5l9-0.5l6-0.8l7 1l3 0l2-0.4l8-3l7-3.8l4-1.8l4-1.5l2-0.3l3 0.5l7 3.9l10 3.2l7-0.4l8 0.4l10 1.1l6 1.9l6-0.2l5 0.5l5-0.2l6 0.3l10.9 1.2"/><path d="M134.3 738l4 1.9l2 0.6l5 0l5 0.5l8-0.6l9 0.3l12-1.6l10 0.4l7-0.2l7 0.7l4 0l3-0.5l2-0.7l11-6.9l2-0.9l2-0.2l4 0.5l6 1.5l6-0.5l3 0.2l5 1l7 2.3l3 0.5l3 0l5-1.8l2-0.1l2 0.8l5 3.4l2 0.6l5 0.4l14 0.4l21-2.3l3-1.3l5-3.2l2-0.5l4 0.3l2-0.5l2-1.4l3-4.1l3-6.4l2-5.9l9-35.5l2-4.5l1-0.8l1 0.4l1 1.5l1 2.5l2 7.4l6 26.4l2 6.8l3 7.3l3 4.7l2 2.3l2 1.8l4 1.9l6 1.2l9-0.1l11 1.2l6-0.3l7 1.1l7 0l7 0.9l14-1.3l7 0.7l6 0l5 0.5l12-0.6l7 1.2l13-0.7l9-1.1l5 0.3l5-0.2l6 0.7l8-0.6l9 1.5l9-1.2l3 0.2l5 0.8l8 0.1l15-1.5l6 0.9l10-1l6 0.9l5-0.4l5 0.2l4-0.2l7 0.6l7-0.7l4-0.1l8 1.1l2-0.2l4-1l2-0.2l10 1.1l4-0.1l6-0.9l6 0.4l8-0.4l8 0.9l8-0.4l5-1.1l2-0.1l6 1.3l10 0.1l7 1l7-0.7l9-0.1l6-0.5l6 0.2l7-0.7l12 0.1l5 0.4l6-0.6l6 0.8l6-0.6l9 0.3l4-0.4l6-1.1l16-1.5l3-1.6l8-6.6l3-1.1l5-0.5l2 0.2l3 1.2l17 9.2l3 1.1l4 0.8l7 0.9l16-0.6l7 0.9l9-0.9l7 0.5l2.9-0.2"/><path d="M134.3 823.7l3-0.3l8 0.6l8-0.6l7 0.4l18-0.9l8-1.7l9-0.7l5-1.4l3-0.3l5 0.1l13 2.9l6-0.1l7 0.4l2-0.9l1-0.8l5-5.7l2-1.4l2 0l5 2.6l2 0.3l1-0.2l3-1.8l6-5.5l2-0.6l1 0.3l2 1.6l5 6.1l3 2.6l9 3.8l2 0.5l12 0.5l6-0.8l7 0.2l7-0.9l5-1.3l7-1.1l4-2l3-2.3l2-2.4l2-4.2l3-11l6-33l1-4.3l1-2.7l1-0.9l1 1l1 2.7l5 25.1l2 8.3l2 5.7l2 3.2l2 1.2l2-0.3l3-0.9l2 0.1l1 0.4l7 6.3l2 0.8l4 0.5l2 0.7l2 1.5l7 7l3 1.6l2 0.4l6-0.3l11 1.3l8 0.2l11-0.6l8 0.6l6-0.8l13 1.1l9-1.2l5 0.7l6 0l6 0.6l10 0.3l13-1.9l3-1.2l4-2.1l3-0.7l2 0.4l5 1.9l4 0.7l7 1.9l13-0.1l8-0.4l9 1.7l5-0.7l12-0.1l7 0.9l8-0.9l8 0.5l8-0.1l6 0.4l7-1.3l7 0.6l6-0.8l2 0.2l4 1.1l2 0.2l5-0.4l6-1.1l9 1.4l7-1.3l6 0.8l6-0.4l6 0.8l7-0.9l15 0.3l6-0.7l6 1.1l7 0.2l6-0.7l5 0.5l5-0.6l6 0.3l6-0.3l5 0.7l12-1.5l6 0.7l12-0.4l6 0.4l6-0.8l5-1.3l7-1.2l10-4.7l6-3.5l3-0.9l2-0.3l3 0.7l5 2.7l12 5.5l6 1.1l6 1.8l6 0.8l13-0.1l4 0.4l6-0.7l7 0.5l5-0.1l5 0.3l5.9-0.5"/><path d="M134.3 905.6l4 0.6l12-0.3l7-0.5l8 1.1l7-0.8l8 0.3l9-0.6l6 0.8l3 0l14-0.2l5-0.6l12 1.2l14-1.3l6-1.5l2-1l2-1.5l3-4l5-9.5l1-1.5l1-0.8l1 0l1 0.7l1 1.4l5 9.3l3 3.9l3 2.4l5 2l5 0.5l6-0.4l6 0.3l10-0.3l8 1.1l6-1.6l6-0.9l6-2.8l3-2.3l2-2.7l2-4.5l3-11.6l6-34.7l1-3.3l1-1.2l1 1.3l1 3.4l5 29.2l2 9.4l2 6.6l2 4l2 1.9l2 0.7l6-0.5l2 0.5l9 6.3l9 2.9l2 0l5-0.7l9-0.1l8 0.7l8-1.5l2 0.2l5 1.4l3 0.3l23-0.9l15 1.1l11-0.3l7-0.7l11 0.3l14-1.8l3-1.3l7-4.2l3-0.8l3 0.7l7 5.5l3 1.2l15 1.3l6-0.7l11 1.6l3-0.2l6-1.6l6 0.9l5-0.3l11 0.3l8-0.7l9 0.7l8-1.3l5 0.3l5-0.2l10 1.3l9-0.9l12 0.6l17 0l15-0.5l11 0.4l9 0.7l5-0.6l4 0l6-1l8 0.6l9 0.1l8-1.2l8 1l8-0.1l6 0.6l17-0.7l6-0.5l8 0.3l6-1.1l4-1.3l7-3.8l9-6l2-0.9l3-0.6l4 0.4l4 1.2l12 7.7l3 1.1l4 1.1l11-0.4l7-1.8l6-0.7l22 5.6l2 0.1l5-0.4l5.9 0.4"/><path d="M134.3 988.5l3 1l2 0.3l13-1.3l3 0.2l7 1.1l10 0.4l10-0.8l11 0.7l9-1.2l14 0.4l8-0.9l7-0.1l6-1.5l7-2.7l6-0.6l2-0.6l2-1.7l1-1.4l6-10.9l1-1l1-0.4l1 0.3l2 2.7l4 8.2l3 4.9l3 2.8l4 1.6l3 0.6l8 0.3l17 0l5-0.5l6-1l7 0.1l5-1.1l4-1.7l3-2.4l2-3.1l2-5.2l3-13.6l5-31.2l1-4.3l1-2.1l1 0.3l1 2.9l1 4.8l4 26l2 10.7l2 7.1l2 4.1l2 2.1l2 0.7l2-0.1l5-2.3l2 0.3l2 1.4l6 5.7l2 1.1l3 0.6l4 0.1l7-1.2l6 1.2l5 0.2l12 1.3l14-0.8l10-0.1l6 0.9l5-0.4l7-1.1l6 0.7l7 0.3l7 1l3-0.4l7-1.6l11 0.9l3-0.2l8-1l5-1.4l7-1.4l2 0.1l5 1.1l6 2.8l3 0.5l5-0.3l7-1.1l14 0.8l7-0.7l7-0.1l8 1.3l6-0.8l9 0.4l8-0.6l14 1l5-0.5l6 0.2l7-1l6 0.9l7-0.2l10 1l4-0.3l6-1.1l10-0.3l8 1.2l10 0l14-0.5l8 1l8-0.9l8-0.3l8 0.3l6 0.7l10-0.4l5-0.6l8 0.6l7-0.5l8 0.9l6-0.3l7-0.9l9-0.1l4-0.7l3-1l6-2.8l10-5.6l2-0.7l2-0.3l3 0.6l5 2l7 4.7l3 1.4l6 1.6l13 1.9l3 0.2l5-1l6-0.1l5-0.6l7 0l5 0.6l6-0.1l5 0.6l6.9-0.7"/><path d="M134.3 1072.9l4-0.4l5 0l6-0.6l5 0.6l8 0.3l6-1.2l3-0.2l7 0.8l9 0.3l7-0.4l5 0.8l6-0.8l5 0.3l6-0.7l6 0.5l11-0.1l13-1l2-0.7l2-1.2l3-3l3-4.7l5-10.3l1-1.1l1-0.3l1 0.6l1 1.2l5 10.5l3 4.5l3 2.3l5 2.2l6 1l7-0.8l9-0.4l16 0.1l5-0.7l6-1.5l4-1.5l3-2.2l3-4.4l2-5.1l3-13.1l5-31.3l1-4.4l1-2.3l1 0.1l1 2.7l1 4.6l6 36.7l2 7.9l2 4.7l1 1.3l2 1.2l2 0l4-1.5l2 0l2 1l5 3.6l5 2.4l2 0.6l11 1.7l5 0.2l9-0.9l2 0.2l6 1.4l5 0.5l7-1.3l7 1l11-1.5l9 0.9l5-0.8l5 0.4l5-0.3l8 1.2l7-0.7l8 0.5l8-0.5l8 0.1l4-0.9l4-2.2l5-3.5l2-0.8l1-0.1l2 0.7l6 4.2l4 2.2l3 0.7l5 0.3l4-0.2l5-1.1l2-0.1l6 0.6l6-0.1l6 0.7l19-0.2l7 0.5l10-0.4l13 0.2l8-1l12 1.9l4-0.3l9-1.9l17 0.6l12 1.4l9-1.6l6 0.5l5 0.9l3 0.1l7-0.2l6-1l7 1.2l7-0.7l8 0.6l7-1.4l8 0.9l6 0.1l8-0.9l11 0.7l7-0.5l16 0.1l16-1.6l9-3.9l6-3.3l4-1.2l3-0.3l3 0.4l4 1.3l9 4.8l13 2.7l12 1l7-0.6l12 1l7-0.6l2 0.2l5 1.4l2 0.2l8.9-1.4"/></g>
<g><path d="M1325.8 163.8l0-0.1l32.5-0.2l13.5-0.7l4-0.7l3-1l2.5-1.2l5.5-3.4l2.5-0.7l2.5 0.6l5.5 3.4l3 1.4l3 1l3.5 0.6l5 0.4l8.5 0.3l32.7 0.2l0 0.1z" fill="#808080"/><path d="M1127.2 163.8l0 0l32.5-0.2l13.5-0.3l7-1l8-2.6l2.5-0.4l2.5 0.3l8.5 2.8l6.5 0.8l13.5 0.4l32.7 0.2l0 0z" fill="#0000ff"/><path d="M1181.2 163.8l0-0.2l31-0.3l19.5-0.4l12.5-0.8l8-1.2l3-0.9l2.5-1l4.5-2.7l4.5-4.2l8-9.2l2-1.5l2-0.6l2 0.5l2 1.5l8 9.3l4.5 4.1l4.5 2.8l2.5 1l3 0.9l8 1.2l12.5 0.8l19.5 0.4l31 0.3l0 0.2z" fill="#0000ff"/><path d="M1527.6 163.8l0 0l131.5-0.2l53.5-0.3l26-0.8l33-2.3l10.5-0.4l9.5 0.3l26 2l17 0.8l22 0.5l35.1 0.2l0 0.2z" fill="#0000ff"/><path d="M1331.4 163.8l0-0.3l29.5-0.4l19-0.7l12-1.1l4-0.7l3.5-1.1l2.5-1.1l2.5-1.5l2.5-2l2-2.1l4-5.6l8-14l2-2.2l1-0.6l1-0.1l1.5 0.6l2 2.2l8 14l4 5.6l2 2.2l2.5 2l2.5 1.5l3 1.3l3.5 1l4 0.7l12 1l18.5 0.7l29.6 0.4l0 0.3z" fill="#ff00ff"/><path d="M1432.2 163.8l0-0.1l43.5-0.3l11-0.2l7-0.5l5-0.8l4-1.1l3.5-1.4l7.5-3.9l2-0.6l1.5-0.1l1.5 0.2l2 0.7l7 3.6l3.5 1.5l4 1.1l5 0.8l7 0.4l11 0.3l43.6 0.3l0 0.1z" fill="#00ffff"/><path d="M1551.2 163.8l0-0.6l26.5-0.7l17-1.2l6-0.8l5-1.1l4-1.4l3-1.7l2.5-2.2l2.5-3l2-3.2l2-4.2l3.5-9.8l6-21.5l1.5-4.7l1-2.4l1-1.7l1-0.8l0.5 0l0.5 0.2l1 1.2l2 4.6l7 24.8l3.5 9.9l2 4.2l2 3.3l2.5 3l2.5 2.2l3 1.7l4 1.5l5 1.1l6 0.8l17 1.2l26.6 0.7l0 0.6z" fill="#00ffff"/><path d="M1245.7 163.8l0-0.2l39.5-0.5l10-0.6l6-0.9l4.5-1.5l3.5-2.1l3.5-3.2l6-6.8l2-1.4l1.5-0.3l1.5 0.5l1.5 1.1l6 6.8l3.5 3.2l3.5 2.1l4.5 1.6l6 0.9l10 0.6l39.6 0.5l0 0.2z" fill="#ff0000"/><path d="M1390.1 163.8l0-0.2l35-0.2l22-0.5l14-0.6l9-1.1l6-1.6l3-1.3l2.5-1.3l5-3.7l9-8.5l2.5-1.5l2-0.5l2 0.3l2.5 1.4l2.5 2.1l7 6.7l5 3.7l2.5 1.4l3 1.2l6 1.6l9 1.1l14 0.6l22 0.5l34.9 0.2l0 0.2z" fill="#ff0000"/><path d="M1560.7 163.8l0-0.8l37.5-0.9l13.5-0.8l10.5-0.9l8.5-1.2l7-1.5l5-1.8l4.5-2.6l3.5-3l3-3.5l3-4.7l2.5-5l2.5-6.2l3-8.7l7.5-26.3l2.5-7.7l1.5-3.6l1-1.7l1-1.1l1-0.5l1 0.2l1.5 1.5l1 1.8l1.5 3.5l2.5 7.8l7.5 26.3l3 8.7l2.5 6.1l2.5 5l3 4.7l3 3.5l3.5 3l4.5 2.5l5 1.8l7 1.5l8.5 1.2l10.5 0.9l13.5 0.8l37.4 0.9l0 0.8z" fill="#ff0000"/><path d="M1310.2 246.7l0 0l43.5-0.2l18-0.3l9-0.8l11-2.4l3.5-0.3l3.5 0.4l10.5 2.3l9 0.8l18 0.3l43.6 0.2l0 0z" fill="#808080"/><path d="M1089.3 246.7l0-0.4l31.5-0.5l20.5-0.8l13-1.2l4.5-0.9l4-1.1l3-1.2l3-1.7l2.5-1.9l2.5-2.3l2.5-2.9l2.5-3.4l9.5-14.8l2.5-2.6l1.5-0.7l1-0.1l2 0.8l2.5 2.4l2 2.9l7.5 12l2.5 3.4l2.5 2.9l2.5 2.3l3 2.2l3 1.7l3.5 1.3l4.5 1.1l5 0.8l14.5 1.2l23 0.7l36.3 0.4l0 0.4z" fill="#0000ff"/><path d="M1180.7 246.7l0-0.7l31-0.7l11-0.5l8.5-0.8l7-0.9l5.5-1.2l4.5-1.5l3.5-1.9l3-2.5l2.5-2.8l2.5-3.9l2-3.9l2-4.7l2.5-7l6-20.2l2-6l2-4.2l1-1.2l1-0.4l1 0.4l1 1.1l2 4.2l2 6l6 20.2l2.5 7l2 4.7l2 4l2.5 3.8l2.5 2.9l3 2.4l3.5 2l4.5 1.5l5.5 1.2l7 0.9l8.5 0.8l11 0.5l31 0.7l0 0.7z" fill="#0000ff"/><path d="M1622.7 246.7l0-0.2l79-0.4l19.5-0.5l12.5-0.8l8.5-1.2l7-1.7l7-2.7l13-6.2l3-0.9l3-0.4l3 0.3l3.5 1.1l12.5 6l6.5 2.5l6 1.7l7 1.1l9.5 0.9l14 0.5l54.5 0.6l0 0.3z" fill="#0000ff"/><path d="M1370.6 246.7l0-0.1l35.5-0.1l14-0.4l7-1.1l8.5-2.8l3-0.5l2.5 0.4l9 3l7 1l14.5 0.4l34.6 0.1l0 0.1z" fill="#ff00ff"/><path d="M1319.2 329.3l0-0.1l35.5-0.4l8.5-0.4l5.5-0.6l3.5-0.9l3.5-1.6l3-2.1l5.5-4.8l1.5-0.8l1.5-0.3l1 0.2l1.5 0.8l6 5.1l3 2.1l3 1.3l4 1l5.5 0.6l9 0.4l34.6 0.4l0 0.1z" fill="#808080"/><path d="M1170 329.3l0-0.2l54.5-0.4l14-0.5l8.5-0.8l6-1.3l5-1.9l5-2.8l8.5-6.1l2.5-1.2l2-0.3l2 0.3l2.5 1.2l8.5 6.1l5 2.8l5 1.9l6 1.3l8.5 0.8l14 0.5l54.5 0.4l0 0.2z" fill="#ff00ff"/><path d="M1312 329.3l0-0.6l33.5-0.7l21-1.2l8-1l6-1.1l4.5-1.4l4-1.9l3-2.1l3-2.9l2.5-3.4l2.5-4.2l2.5-5.3l2.5-6.4l8.5-24.9l1.5-3.1l1-1.5l1-1l1-0.3l1 0.3l1 1l1 1.5l1.5 3.1l8.5 24.9l2.5 6.4l2.5 5.3l2.5 4.2l2.5 3.4l3 2.9l3 2.1l4 1.9l4.5 1.4l6 1.1l8 1l21 1.2l33.5 0.7l0 0.6z" fill="#ff00ff"/><path d="M1551.2 329.3l0-0.2l43.5-0.4l11-0.5l7-0.8l5-1.3l4-1.9l3.5-2.5l7.5-6.7l2-1l1.5-0.2l1.5 0.3l2 1.2l7 6.3l3.5 2.5l4 1.9l5 1.4l7 0.8l11 0.5l43.6 0.4l0 0.2z" fill="#00ffff"/><path d="M1212.6 329.3l0-0.1l54.5-0.3l14-0.4l8.5-0.6l6-0.9l5-1.3l5-2l8.5-4.4l2.5-0.8l2-0.2l2 0.2l2.5 0.8l8.5 4.4l5 2l5 1.3l6 0.9l8.5 0.6l14 0.4l54.5 0.3l0 0.1z" fill="#ff0000"/><path d="M1414.2 329.3l0 0l43.5-0.2l18-0.4l9-0.9l11-2.6l3.5-0.4l3.5 0.4l10.5 2.6l9 0.9l18 0.4l43.6 0.2l0 0z" fill="#ff0000"/><path d="M1535.2 329.3l0-0.3l46-0.4l29-0.7l18.5-1.1l6.5-0.8l5-0.9l4-1.2l4-1.5l3.5-1.9l3.5-2.4l3-2.5l3.5-3.4l9-10.6l2.5-2.6l3-2.3l1.5-0.6l1.5-0.3l1.5 0.2l1.5 0.5l3 2.2l3 3.1l9 10.6l3.5 3.4l3 2.5l3.5 2.3l3.5 1.8l4 1.6l4 1.1l5.5 1l6.5 0.8l18.5 1l29 0.7l45.4 0.4l0 0.3z" fill="#ff0000"/><path d="M1315.4 411l0-0.1l39.5-0.1l16-0.6l4.5-0.5l3.5-0.7l3.5-1.1l6-2.3l2-0.5l1.5-0.1l3 0.5l9.5 3.5l3.5 0.7l4.5 0.5l16 0.6l39.6 0.1l0 0.1z" fill="#808080"/><path d="M1089.3 411l0-0.7l26-0.6l18-0.9l11.5-1.4l4.5-1.1l3.5-1.1l3-1.3l3-1.6l3-2.1l2.5-2.2l5.5-6.1l8.5-11.7l2.5-3l3-2.5l1.5-0.6l1-0.1l1 0.1l1.5 0.6l3 2.5l2.5 3l9 12.3l3 3.5l3 2.9l3 2.4l3.5 2.1l3.5 1.6l4 1.3l5 1.1l6 0.9l17.5 1.2l27 0.7l43.2 0.4l0 0.4z" fill="#0000ff"/><path d="M1161.6 411l0-0.7l35-0.7l12-0.5l10-0.8l8-0.9l6-1.2l5-1.5l4-1.8l3-2.1l3-2.9l3-3.9l2.5-4.3l2.5-5.3l2.5-6.3l9-26.3l1.5-3.2l1-1.6l1-1l1-0.5l1 0.2l1 0.7l1 1.4l1.5 2.9l2.5 6.6l7 20.9l2.5 6.3l2.5 5.2l2.5 4.3l3 3.9l3 2.9l3 2.1l4 1.9l5 1.4l6 1.2l8 0.9l10 0.8l12 0.5l34.9 0.7l0 0.7z" fill="#0000ff"/><path d="M1587.4 411l0-0.2l96.5-0.5l24-0.5l15-0.8l10.5-1.3l9-1.9l8.5-2.9l15.5-6.5l4-1.1l3.5-0.3l4 0.4l4 1.1l14.5 6.2l7.5 2.6l7 1.8l7.5 1.2l10 1l13.5 0.6l49.8 0.7l0 0.4z" fill="#0000ff"/><path d="M1358.9 411l0 0l46-0.2l7-0.5l10.5-1.3l2.5 0.2l8.5 1.2l6.5 0.4l46.2 0.2l0 0z" fill="#ff00ff"/><path d="M1568.2 411l0 0l35.5-0.2l14-0.3l7-0.8l8.5-2.3l3-0.4l2.5 0.3l9 2.4l7 0.8l14.5 0.3l34.6 0.2l0 0z" fill="#00ffff"/><path d="M1556.3 411l0-0.1l66-0.4l16-0.4l10.5-0.7l7-1l6-1.6l6-2.4l10.5-5.3l2.5-0.8l2.5-0.3l2.5 0.2l3 1l10.5 5.3l6 2.3l6 1.6l7 1l10.5 0.7l16 0.4l65.9 0.4l0 0.1z" fill="#ff0000"/><path d="M1282.1 493.2l0-0.3l37.5-0.3l24-0.6l15.5-1l5-0.7l4.5-0.9l3.5-1.1l3-1.3l3-1.7l2.5-1.8l2.5-2.2l3-3.2l7.5-9.6l2.5-2.8l2.5-1.9l2-0.6l1 0.1l1.5 0.5l2.5 2l2.5 2.8l7.5 9.5l3 3.2l2.5 2.2l2.5 1.8l3 1.8l3 1.2l3.5 1.1l4.5 0.9l5 0.7l15.5 1l24 0.6l37.4 0.3l0 0.3z" fill="#808080"/><path d="M1089.3 493.2l0-0.7l26.5-0.6l18-0.9l11.5-1.3l4.5-1l4-1.2l3-1.3l3-1.7l3-2.1l2.5-2.1l2.5-2.5l3-3.5l8.5-11.7l2.5-3.1l3-2.5l1.5-0.7l1-0.1l1 0.1l1.5 0.6l1.5 1l1.5 1.4l3 3.7l8.5 11.6l3 3.5l3 2.9l3 2.4l3.5 2.2l3.5 1.6l4 1.3l5 1.1l6 0.9l17.5 1.2l27 0.7l43.3 0.4l0 0.4z" fill="#0000ff"/><path d="M1186.5 493.2l0-0.6l29.5-0.7l10.5-0.5l8.5-0.7l6.5-0.9l5.5-1.1l4-1.4l3.5-1.9l2.5-1.9l2.5-2.8l2.5-3.7l2-3.8l2-4.7l2-5.4l8-25.6l2-4.1l1-1l1-0.2l0.5 0.2l1 1l2 3.9l2 5.9l6 19.7l2 5.5l2 4.7l2 3.8l2.5 3.7l2.5 2.8l3 2.3l3.5 1.8l4 1.3l5.5 1.1l6.5 0.8l18.5 1.2l29.6 0.7l0 0.6z" fill="#0000ff"/><path d="M1581 493.2l0-0.1l100.5-0.5l25-0.5l16-0.8l11-1.1l9.5-1.9l9-2.7l16-6.1l4-0.9l4-0.4l4 0.3l4 1l15.5 5.9l7.5 2.4l7 1.6l7.5 1.2l10 0.9l13 0.6l47.2 0.7l0 0.4z" fill="#0000ff"/><path d="M1271.3 577.6l0-0.1l66-0.4l16-0.4l10.5-0.6l7-0.9l6-1.5l6-2.2l10.5-4.8l2.5-0.8l2.5-0.3l2.5 0.2l3 0.9l10.5 4.9l6 2.2l6 1.4l7 0.9l10.5 0.6l16 0.4l65.9 0.4l0 0.1z" fill="#808080"/><path d="M1089.3 577.6l0-1l26-0.8l18-1.2l6-0.7l5.5-0.9l5-1.3l4-1.4l3.5-1.7l3-1.7l3-2.2l3-2.6l3-3l3.5-4.2l9.5-12.8l3-3.6l2-1.9l1.5-1.1l1.5-0.6l1.5-0.3l1.5 0.2l2 0.8l1.5 1.1l2 1.9l3 3.6l10 13.5l4 4.5l3.5 3.3l3.5 2.8l4 2.4l4.5 2l4.5 1.5l6 1.3l7 0.9l9 0.8l12 0.6l32.5 0.9l50.8 0.5l0 0.4z" fill="#0000ff"/><path d="M1158.8 577.6l0-0.6l37.5-0.7l13.5-0.6l10.5-0.7l8.5-0.9l7-1.3l5-1.4l4.5-1.9l3.5-2.3l3-2.8l3-3.7l2.5-3.8l2.5-4.8l3-6.8l7.5-20.3l2.5-6.1l1.5-2.7l1-1.3l1-0.9l1-0.4l1 0.2l1.5 1.1l1 1.4l1.5 2.8l2.5 6l7.5 20.4l3 6.7l2.5 4.8l2.5 3.8l3 3.7l3 2.7l3.5 2.3l4.5 2l5 1.3l7 1.3l8.5 0.9l10.5 0.7l13.5 0.6l37.4 0.7l0 0.6z" fill="#0000ff"/><path d="M1578.5 577.6l0-0.1l105.5-0.5l26-0.4l16.5-0.8l11.5-1.1l9.5-1.7l9-2.4l17-5.7l4.5-1l4-0.3l4 0.3l4.5 1l16 5.4l7.5 2.1l6.5 1.4l7 1.1l9.5 0.9l12.5 0.6l42.2 0.7l0 0.5z" fill="#0000ff"/><path d="M1574.4 577.6l0 0l32.5-0.2l13.5-0.4l4-0.5l3-0.6l8-2.9l2.5-0.4l2.5 0.4l8.5 3l6.5 1l13.5 0.4l32.7 0.2l0 0z" fill="#00ffff"/><path d="M1546 577.6l0-0.1l70-0.3l17.5-0.4l11-0.6l7.5-0.8l6.5-1.3l6-1.9l11.5-4.6l3-0.8l2.5-0.2l2.5 0.2l3 0.7l12 4.7l6 1.9l6.5 1.3l7.5 0.8l11 0.6l17.5 0.4l69.9 0.3l0 0.1z" fill="#ff0000"/><path d="M1153.3 659.9l0-0.1l61.5-0.2l25-0.6l6.5-0.5l5.5-0.9l5.5-1.2l10-2.9l4.5-0.6l2.5 0.1l2.5 0.5l10 2.9l5.5 1.2l5.5 0.9l6.5 0.5l25 0.6l61.4 0.2l0 0.1z" fill="#ff00ff"/><path d="M1331.4 659.9l0-0.3l29.5-0.4l19-0.7l12-1.1l4-0.8l3.5-1l2.5-1.1l2.5-1.6l2.5-2l2-2.1l4-5.7l8-14.3l2-2.2l1-0.6l1-0.1l1.5 0.6l2 2.3l8 14.2l4 5.7l2 2.1l2.5 2.1l2.5 1.5l3 1.3l3.5 1l4 0.7l12 1.1l18.5 0.7l29.6 0.4l0 0.3z" fill="#ff00ff"/><path d="M1566 659.9l0-0.1l35.5-0.3l8.5-0.3l5.5-0.6l3.5-0.7l3.5-1.3l3-1.8l5.5-4l1.5-0.7l1.5-0.2l1 0.2l1.5 0.6l6 4.3l3 1.7l3 1.1l4 0.9l5.5 0.5l9 0.3l34.6 0.3l0 0.1z" fill="#00ffff"/><path d="M1239.2 659.9l0-0.2l41.5-0.5l10.5-0.6l6.5-0.9l4.5-1.5l4-2.3l3.5-3l6.5-7.2l2-1.4l1.5-0.4l1.5 0.3l2 1.4l6.5 7.2l4 3.4l3.5 2l4.5 1.4l6.5 1l10.5 0.6l41.7 0.5l0 0.2z" fill="#ff0000"/><path d="M1369.6 659.9l0-0.2l40.5-0.2l25.5-0.4l16-0.7l10.5-1l7-1.6l6-2.4l6-3.6l10.5-8.1l2.5-1.3l2.5-0.5l2.5 0.4l3 1.4l10.5 8.1l6 3.7l6 2.4l7 1.5l10.5 1l16 0.7l25.5 0.4l40.4 0.2l0 0.2z" fill="#ff0000"/><path d="M1570.3 659.9l0-0.7l35-0.7l12-0.6l10-0.7l8-1l6-1.1l5-1.5l4-2l3-2.1l3-2.9l3-4l2.5-4.3l2.5-5.4l2.5-6.4l9-26.7l1.5-3.3l1-1.6l1-1l1-0.5l1 0.2l1 0.8l1 1.3l1.5 3l2.5 6.7l7 21.2l2.5 6.4l2.5 5.3l2.5 4.3l3 4l3 3l3 2.1l4 1.9l5 1.5l6 1.1l8 1l10 0.7l12 0.6l34.9 0.7l0 0.7z" fill="#ff0000"/><path d="M1282.9 742l0-0.2l36-0.3l23-0.5l14.5-0.7l9.5-1.3l3.5-0.8l3-1.1l3-1.4l2.5-1.5l5-4l7.5-7.9l2.5-2.4l2.5-1.5l2-0.4l2 0.4l2.5 1.6l2.5 2.3l7.5 7.9l5 4l2.5 1.5l3 1.4l3 1.1l3.5 0.8l9.5 1.3l14.5 0.7l23 0.5l36 0.3l0 0.2z" fill="#808080"/><path d="M1089.3 742l0-0.7l28.5-0.6l19-1l12.5-1.3l5-1.1l4-1.1l3.5-1.4l3-1.5l3-1.8l3-2.3l6-5.7l9-10.7l3-3.3l2-1.7l1.5-1l1.5-0.6l1.5-0.2l1.5 0.2l1.5 0.5l1.5 0.9l2 1.7l3 3.2l9.5 11.3l3.5 3.5l3.5 3l3.5 2.3l4 2.1l4 1.6l4.5 1.2l5.5 1.1l7 0.8l19.5 1.1l30.5 0.7l48.2 0.4l0 0.4z" fill="#0000ff"/><path d="M1180.2 742l0-0.6l32-0.6l20.5-1.2l7.5-0.9l5.5-1l4.5-1.3l4-1.8l3-2.1l2.5-2.4l2.5-3.2l2.5-4.2l2-4l2.5-6.1l8.5-24.2l1.5-3l1-1.4l1-0.8l1-0.2l1 0.5l1 1.1l2 3.8l8.5 24.2l2.5 6l2 4.1l2.5 4.2l2.5 3.2l2.5 2.4l3 2.1l4 1.8l4.5 1.3l5.5 1l7.5 0.9l20.5 1.2l32.1 0.6l0 0.6z" fill="#0000ff"/><path d="M1598.2 742l0-0.1l98.5-0.5l24.5-0.4l15.5-0.7l10.5-1.1l9-1.7l9-2.5l16-5.8l4-0.9l4-0.3l4 0.4l4 0.9l14.5 5.3l7 2.2l6.5 1.5l6.5 1l9 0.9l11.5 0.6l39.5 0.7l0 0.5z" fill="#0000ff"/><path d="M1311.4 824.2l0-0.1l43.5-0.3l11-0.4l7-0.6l5-0.9l4-1.3l3.5-1.8l7.5-4.7l2-0.8l1.5-0.1l1.5 0.2l2 0.9l7 4.5l3.5 1.7l4 1.4l5 0.9l7 0.6l11 0.4l43.6 0.3l0 0.1z" fill="#808080"/><path d="M1089.3 824.2l0-0.7l28.5-0.5l19-0.9l12.5-1.4l4.5-1l4-1.2l3.5-1.4l3-1.7l3-2.2l2.5-2.2l2.5-2.5l3-3.6l8.5-12l2.5-3.2l3-2.7l1.5-0.6l1-0.2l1 0.1l1.5 0.5l1.5 1l1.5 1.5l3 3.7l9 12.6l3 3.5l3 3l3 2.3l3.5 2.2l3.5 1.6l4 1.3l5 1.1l6 0.8l17.5 1.3l27 0.7l42.9 0.4l0 0.4z" fill="#0000ff"/><path d="M1183.5 824.2l0-0.6l31-0.7l19.5-1.2l7-0.9l5.5-1.2l4.5-1.4l3.5-1.8l3-2.4l2.5-2.7l2.5-3.7l2-3.7l2-4.5l2.5-6.7l6-19.2l2-5.8l2-4l1-1.1l1-0.4l1 0.4l1 1l2 4l2 5.8l6 19.2l2.5 6.7l2 4.5l2 3.8l2.5 3.6l2.5 2.8l3 2.3l3.5 1.9l4.5 1.4l5.5 1.2l7 0.9l19.5 1.2l31 0.7l0 0.6z" fill="#0000ff"/><path d="M1629.4 824.2l0-0.1l79-0.5l19.5-0.4l12.5-0.8l8.5-1.1l7-1.6l7-2.5l13-5.8l3-0.9l3-0.3l3 0.3l3.5 1l12 5.4l6.5 2.4l6 1.6l7 1.1l9 0.8l13 0.6l49.8 0.5l0 0.3z" fill="#0000ff"/><path d="M1565.3 824.2l0 0l61.5-0.2l25-0.3l12-0.8l15.5-2.4l4.5-0.3l5 0.3l15.5 2.4l12 0.8l25 0.3l61.4 0.2l0 0z" fill="#ff0000"/><path d="M1328.1 908.7l0-0.1l32.5-0.2l13.5-0.6l4-0.6l3-0.9l2.5-1l5.5-3l2.5-0.6l2.5 0.5l5.5 3l3 1.3l3 0.8l3.5 0.5l13.5 0.6l32.7 0.2l0 0.1z" fill="#808080"/><path d="M1089.3 908.7l0-0.3l46-0.5l12-0.5l8.5-0.8l6.5-1l5.5-1.4l6-2.1l12-5.2l3-0.9l3-0.3l3 0.3l3 0.8l13 5.5l6.5 2.2l7 1.5l8.5 1.1l12 0.7l19 0.4l76.6 0.4l0 0.1z" fill="#0000ff"/><path d="M1171.8 908.7l0-0.3l35-0.2l22-0.5l14-0.9l9-1.3l3-0.8l3-1.1l3-1.5l2.5-1.7l5-4.5l9-10.2l2.5-1.9l2-0.6l2 0.4l2.5 1.6l2.5 2.6l7 8.1l5 4.5l2.5 1.7l3 1.5l3 1.1l3 0.8l9 1.3l14 0.9l22 0.5l34.9 0.2l0 0.3z" fill="#0000ff"/><path d="M1532.3 908.7l0 0l131.5-0.2l53.5-0.4l26-0.9l33-2.6l10.5-0.4l9.5 0.3l25.5 2.2l16.5 0.9l21 0.6l32.4 0.3l0 0.2z" fill="#0000ff"/><path d="M1307.3 908.7l0-0.2l37.5-0.3l24-0.4l15.5-0.8l9.5-1.2l6.5-1.8l5.5-2.8l5.5-4.1l7.5-7.3l2.5-2.2l2.5-1.4l2-0.5l2.5 0.5l2.5 1.5l10 9.4l5.5 4.2l5.5 2.7l6.5 1.8l9.5 1.2l15.5 0.8l24 0.4l37.4 0.3l0 0.2z" fill="#ff00ff"/><path d="M1386.3 908.7l0-0.1l70-0.4l17.5-0.4l11-0.6l7.5-0.9l6.5-1.5l6-2l11.5-5l3-0.8l2.5-0.3l2.5 0.2l3 0.8l12 5.1l6 2.1l6.5 1.4l7.5 0.9l11 0.6l17.5 0.4l69.9 0.4l0 0.1z" fill="#00ffff"/><path d="M1551.2 908.7l0-0.5l26.5-0.4l17-0.9l6-0.6l5-0.8l4-1.1l3-1.3l2.5-1.5l2.5-2.2l2-2.5l2-3l3.5-7.2l6-15.9l1.5-3.5l1-1.8l1-1.2l1-0.6l0.5 0l1.5 1l2 3.5l7 18.2l3.5 7.3l2 3.1l2 2.5l2.5 2.2l2.5 1.6l3 1.3l4 1l5 0.9l6 0.6l17 0.9l26.6 0.4l0 0.5z" fill="#00ffff"/><path d="M1245.7 908.7l0-0.1l39.5-0.4l10-0.4l6-0.6l4.5-1l3.5-1.5l3.5-2.2l6-4.6l2-1l1.5-0.2l1.5 0.3l1.5 0.8l6 4.6l3.5 2.2l3.5 1.5l4.5 1.1l6 0.6l10 0.4l39.6 0.4l0 0.1z" fill="#ff0000"/><path d="M1370.8 908.7l0-0.2l40.5-0.2l25.5-0.4l16-0.7l10.5-1l7-1.6l6-2.4l6-3.6l10.5-8.1l2.5-1.3l2.5-0.5l2.5 0.4l3 1.4l10.5 8.1l6 3.7l6 2.4l7 1.5l10.5 1l16 0.7l25.5 0.4l40.4 0.2l0 0.2z" fill="#ff0000"/><path d="M1566 908.7l0-0.7l36-0.7l12.5-0.5l10.5-0.8l8-0.9l6.5-1.2l5-1.4l4.5-2l3.5-2.4l3-2.9l3-3.9l2.5-4.2l2.5-5.1l2.5-6.1l7.5-21.9l2.5-6.4l1.5-2.9l1-1.4l1-0.8l1-0.3l1 0.3l1 0.9l1 1.4l1.5 2.9l2.5 6.5l7.5 21.8l2.5 6.1l2.5 5.1l2.5 4.2l3 3.8l3 2.9l3.5 2.4l4.5 2l5 1.4l6.5 1.2l8 0.9l10.5 0.8l12.5 0.5l36 0.7l0 0.7z" fill="#ff0000"/><path d="M1316.5 989.7l0-0.1l39.5-0.3l10-0.3l6-0.4l4.5-0.8l3.5-1.1l3.5-1.6l6-3.5l2-0.7l1.5-0.2l1.5 0.2l1.5 0.6l6 3.5l3.5 1.7l3.5 1.1l4.5 0.8l6 0.4l10 0.3l39.6 0.3l0 0.1z" fill="#808080"/><path d="M1089.3 989.7l0-0.6l28-0.5l19-0.8l12-1.2l4.5-0.9l4-1.1l3.5-1.3l3-1.5l3-1.9l2.5-2l5.5-5.5l8.5-10.6l2.5-2.7l3-2.3l2.5-0.6l2.5 0.6l3 2.3l2.5 2.7l9 11.2l3 3.1l3 2.7l3 2.1l3.5 2l3.5 1.4l4 1.2l5 1l6 0.7l17.5 1.1l27 0.7l43.2 0.4l0 0.3z" fill="#0000ff"/><path d="M1178 989.7l0-0.6l32-0.7l11.5-0.6l9-0.7l7.5-0.9l5.5-1.1l4.5-1.4l4-1.9l3-2.2l2.5-2.6l2.5-3.4l2.5-4.5l2-4.3l2.5-6.5l8.5-25.8l1.5-3.3l1-1.4l1-0.9l1-0.2l1 0.5l1 1.2l2 4l8.5 25.9l2.5 6.4l2 4.4l2.5 4.4l2.5 3.5l2.5 2.5l3 2.3l4 1.9l4.5 1.4l5.5 1.1l7.5 0.9l9 0.7l11.5 0.6l32.1 0.7l0 0.6z" fill="#0000ff"/><path d="M1611.4 989.7l0-0.2l88-0.4l22-0.6l13.5-0.8l9.5-1.2l8-1.9l7.5-2.7l14-6.3l3.5-1l3.5-0.4l3.5 0.3l3.5 1l13.5 6.1l7 2.6l6 1.6l7 1.3l9.5 0.9l13 0.7l47.8 0.6l0 0.4z" fill="#0000ff"/><path d="M1297.5 989.7l0-0.1l66-0.2l16-0.3l10.5-0.4l7-0.6l6-1l6-1.5l10.5-3.2l5-0.7l2.5 0.1l3 0.6l10.5 3.3l6 1.4l6 1l7 0.6l10.5 0.4l16 0.3l65.9 0.2l0 0.1z" fill="#ff00ff"/><path d="M1572.4 989.7l0-0.1l32.5-0.2l13.5-0.6l4-0.6l3-0.9l2.5-1l5.5-3l2.5-0.6l2.5 0.5l5.5 3l3 1.3l3 0.8l3.5 0.5l13.5 0.6l32.7 0.2l0 0.1z" fill="#00ffff"/><path d="M1363.3 989.7l0-0.1l70-0.2l28.5-0.6l7.5-0.5l6.5-0.9l6-1.1l11.5-3l5.5-0.6l5.5 0.6l12 3l6 1.2l6.5 0.8l7.5 0.5l28.5 0.6l69.9 0.2l0 0.1z" fill="#ff0000"/><path d="M1574.5 989.7l0-0.2l54.5-0.5l14-0.5l8.5-0.9l6-1.4l5-2l5-3.2l8.5-6.7l2.5-1.3l2-0.3l2 0.3l2.5 1.3l8.5 6.7l5 3.2l5 2l6 1.4l8.5 0.9l14 0.5l54.5 0.5l0 0.2z" fill="#ff0000"/><path d="M1299.5 1073l0-0.2l29.5-0.2l19-0.4l12-0.6l7.5-1l5-1.5l4.5-2.3l4-3.2l8-8l2-1.2l2-0.4l1.5 0.4l2 1.2l8 8l4 3.1l4.5 2.4l5.5 1.6l7.5 0.9l12 0.6l48.1 0.6l0 0.2z" fill="#808080"/><path d="M1089.3 1073l0-0.7l29-0.5l19.5-1l7-0.6l5.5-0.8l4.5-1l4-1.2l3.5-1.5l3-1.8l3-2.2l2.5-2.2l2.5-2.6l3-3.7l8.5-12.4l2.5-3.2l3-2.7l1.5-0.7l1-0.2l1 0.1l1.5 0.5l1.5 1.1l1.5 1.4l3 3.9l9 12.9l3 3.6l3 3l3 2.5l3.5 2.2l3.5 1.6l4 1.4l5 1.1l6 0.9l17.5 1.2l27 0.8l42.9 0.4l0 0.4z" fill="#0000ff"/><path d="M1175 1073l0-0.7l33.5-0.7l11.5-0.5l9.5-0.8l8-1l6-1.2l4.5-1.4l4-2l3-2.2l3-3.2l2.5-3.5l2.5-4.5l2.5-5.6l2.5-6.7l8.5-26.2l1.5-3.4l1-1.6l1-1l1-0.3l1 0.3l1 1l1 1.6l1.5 3.4l8.5 26.2l2.5 6.7l2.5 5.6l2.5 4.5l2.5 3.5l3 3.2l3 2.2l4 2l4.5 1.4l6 1.2l8 1l9.5 0.8l11.5 0.5l33.5 0.7l0 0.7z" fill="#0000ff"/><path d="M1574.7 1073l0-0.2l109.5-0.5l27.5-0.6l17-0.9l12-1.5l10-2.2l9.5-3.1l18-7.5l4.5-1.1l4-0.4l4 0.4l4 1l4.5 1.6l12 5.2l6 2.3l7.5 2.2l8 1.6l9.5 1.2l11.5 0.8l15.5 0.6l22.5 0.4l0 0.7z" fill="#0000ff"/><path d="M1313.4 1073l0-0.3l35-0.3l22-0.5l14-0.9l5-0.7l4-0.8l3-0.9l3-1.2l3-1.7l2.5-1.8l2.5-2.3l2.5-2.6l9-11.3l2.5-2.1l2-0.6l2 0.4l2.5 1.8l2.5 2.8l7 9l2.5 2.7l2.5 2.2l2.5 1.8l3 1.7l3 1.2l3 0.9l4 0.8l5 0.7l14 0.9l22 0.5l34.9 0.3l0 0.3z" fill="#ff00ff"/><path d="M1392.3 1073l0-0.1l70-0.3l17.5-0.3l11-0.5l7.5-0.8l6.5-1.2l6-1.7l11.5-4.2l3-0.7l2.5-0.2l2.5 0.2l3 0.6l12 4.3l6 1.7l6.5 1.2l7.5 0.8l11 0.5l17.5 0.3l69.9 0.3l0 0.1z" fill="#00ffff"/><path d="M1551.2 1073l0-0.4l26.5-0.5l17-0.8l6-0.6l5-0.8l4-1l3-1.2l2.5-1.5l2.5-2.1l2-2.3l2-3l3.5-6.8l7.5-18.6l1-1.7l1-1.1l1-0.6l0.5 0l1.5 1l2 3.3l7 17.4l3.5 7l2 2.9l2 2.4l2.5 2.1l2.5 1.5l3 1.3l4 1l5 0.8l6 0.6l17 0.8l26.6 0.5l0 0.4z" fill="#00ffff"/><path d="M1252 1073l0-0.1l35.5-0.3l8.5-0.2l5.5-0.5l3.5-0.6l3.5-1.1l3-1.5l5.5-3.4l1.5-0.6l1.5-0.2l2.5 0.7l6 3.7l3 1.4l3 0.9l4 0.8l5.5 0.4l9 0.3l34.6 0.2l0 0.1z" fill="#ff0000"/><path d="M1371.8 1073l0-0.2l66-0.4l16-0.5l10.5-0.8l7-1.2l6-1.7l6-2.8l10.5-6.1l2.5-0.9l2.5-0.4l2.5 0.3l3 1.1l10.5 6l6 2.8l6 1.8l7 1.1l10.5 0.8l16 0.5l65.9 0.4l0 0.2z" fill="#ff0000"/><path d="M1564.5 1073l0-0.5l36-0.6l23-1l8-0.8l6.5-0.9l5-1.1l4.5-1.6l3.5-2l3-2.3l3-3.1l2.5-3.3l2.5-4.1l2.5-4.8l7.5-17.5l2.5-5.1l1.5-2.3l1-1.1l1-0.7l1-0.2l1 0.2l1 0.7l1 1.1l1.5 2.4l2.5 5.1l7.5 17.4l2.5 4.9l2.5 4.1l2.5 3.3l3 3.1l3 2.3l3.5 1.9l4.5 1.6l5 1.1l6.5 0.9l8 0.8l23 1l36 0.6l0 0.5z" fill="#ff0000"/></g>
<line x1="1193.3" y1="68.2" x2="1193.3" y2="1096.5" stroke="#000" stroke-width="3" stroke-dasharray="12.4 12.93"/>
<line x1="1282.0" y1="68.2" x2="1282.0" y2="1096.5" stroke="#000" stroke-width="3" stroke-dasharray="12.4 12.93"/>
<line x1="1782.2" y1="68.2" x2="1782.2" y2="1096.5" stroke="#000" stroke-width="3" stroke-dasharray="12.4 12.93"/>
<g fill="none" stroke="#000" stroke-width="4.5" stroke-linejoin="round" stroke-linecap="round"><path d="M1089.3 164.5l12-1l10-0.3l6 0.1l7-0.4l7 0.4l5-0.5l4 0l13 0.6l7 0.7l9-0.4l9-1.1l9-2.6l4-0.5l6 1l12 3.6l2 0.3l2-0.2l7-1.8l11-1.1l7-1.7l15-2l4-0.9l3-1.4l3-2.2l4-3.5l8-8.1l2-1.5l2-0.7l2 0.3l2 1.4l2 2.2l5 6.9l3 3.1l4 2.6l3 1.2l2 0.1l2-0.4l6-2.3l3-2.1l6-6l2-1.1l1-0.1l1 0.1l2 1.2l8 8.4l3 2.3l3 1.6l12 2.4l9 0.4l7-0.5l10-1.7l3-1l2-1.3l6-5.5l2-1.3l2-0.6l2 0.2l1 0.5l4 3l2 1l1 0.2l2-0.5l3-2.2l4-4.4l3-4.3l6-10.5l2-2.5l2-1.1l2 0.5l2 1.9l8 14.3l5 6.8l2 1.9l3 2.3l2 1l3 0.9l11 1.2l5 0.1l3-0.5l9-3.1l3-1.7l3-2.5l7-8l2-1.9l4-2.2l4-0.7l3 0.6l10 4l3 2.2l5 5l3 2.5l7 4.1l3 1.3l10 1.2l19 0.6l7-0.2l6 0.4l8-1.3l7-0.3l10-1.9l6-2.2l3-1.6l2-1.4l3-3.5l4-7.8l3-8.1l7-25.5l2-6.3l2-3.6l1-0.6l1 0.4l2 3.3l6 18.7l2 5.2l2 3.8l2 2.5l2 1.2l2 0l2-1.1l3-3.7l3-6l4-11.3l6-21.1l2-5.8l2-3.8l1-0.9l1-0.3l1 0.5l1 1.1l1 1.8l2 5l10 34.6l3 8.9l3 7.1l4 6.7l4 5l4 3.5l4 2.4l3 0.9l13 1.8l5 1.4l3 0.5l8-0.4l8 0.4l20-1.1l10 0.6l8 1.3l9 0.5l5 0.2l7-0.5l7 1.6l10 0.5l7-0.3l11 0.7l5-0.1l6 0.5l7-0.2l7 0.6l16.4-0.6"/><path d="M1089.3 246.1l7-0.3l11 0.9l3-0.4l5-1.4l3-0.3l7 0.6l6-0.2l6 0.3l8-1.7l6 0l6-0.7l7-2.3l5-2.4l5-3.9l3-3.9l12-18.5l2-2.1l2-0.8l2 0.6l3 3l7 11.9l3 4l7 6.5l4 2.6l3 1.1l7 0.7l10 0.2l3-0.5l9-2.8l3-1.7l2-2.1l3-4.4l2-3.8l3-6.9l2-5.6l8-25.2l2-4.1l1-1l1-0.2l1 0.4l1 1.2l3 6.8l7 23.5l3 8.3l4 7.9l3 4.5l2 2.3l2 1.6l2 1l9 3.2l6 0.4l5 1.2l6-0.3l6 1.9l6 1l3-0.1l5-0.9l7 0.4l14 0l23-4.1l3 0.3l11 4l3 0.5l12-1.5l7-1.5l5-2l2-0.1l2 0.4l5 2.2l11 3l3 0.1l5-0.8l5 0.4l6-0.8l4 0l18 2l3-0.1l9-1.3l7 0.5l6-1.1l9 1.1l10-1.1l4 0.1l6 0.6l9-0.2l10-0.9l6 1.3l4 0.3l10-0.3l5-0.8l4-0.2l3 0.2l6 1.1l7-0.9l10 0.8l7-0.2l6 0.7l13-0.7l6 1.2l3 0.1l5-0.2l7-1.5l9 0.4l4-0.2l5-0.9l8 0.3l5 0.5l10 0.1l16-1.9l11-0.6l2-0.4l6-1.7l9-3.2l11-5.6l3-0.9l3-0.3l3 0.5l5 1.3l15 6.8l15 4.1l8 0.2l16 0.9l7 1.1l7-0.6l9 0.2l6 0.8l6-1.1l8 0l6-0.7l3 0.3l2.4 0.8"/><path d="M1089.3 328.4l4 0.6l6-0.7l14 0.2l10-1.2l5-1.2l7-3.5l5-1.9l3-0.5l11-0.4l7 0.7l11 4l7 1.2l5 1.4l6-0.1l6 1.1l12-1.1l9-2.1l2-0.1l12 2.4l12-0.2l5-0.6l6-1.3l3-0.1l2-0.5l2-1.3l9-8.4l3-1.5l3-0.3l4 0.8l6 3.3l13 5.1l3-0.2l4-1.6l5-1.2l6-2.1l2-0.2l2 0.4l7 2.9l6 3.3l3 1l10 1.2l8-0.9l7 0.4l3-0.2l4-1.1l7-3.1l3-2.9l9-11.3l4-4.1l2-1.1l1-0.3l4-0.1l2-1.1l1-1l2-3.2l2-4.3l8-22.1l2-3.6l1-0.9l1-0.2l1 0.6l1 1.3l2 4.4l10 29.8l2 5.1l3 5.3l4 5l3 3.1l2 1.4l7 2.8l7 1.8l7 0.9l5 1.2l3 0l6-1.5l6-0.4l9-4.4l4-1.1l4-0.3l3 0.5l7 2.8l6 1.3l6 2.8l3 0.8l8 0.1l5-0.4l10 0.4l6-0.7l5 0.3l7-0.6l15 0.7l2-0.1l5-1.1l8 0.5l7-0.6l5 0.2l3-0.9l9-5l4-3.6l5-5.9l2-1.1l3 0l7 2.2l5-0.1l5 1l2-0.2l2-0.7l3-1.9l3-2.7l9-10l2-1.3l3-0.7l3 0.8l2 1.3l8 8.8l6 7.1l5 4.1l5 3.5l3 1.5l4 1.4l18 3.8l6 0.1l8-0.9l6 1l27 0.2l5 0.3l5 0.8l12-0.9l7 0.6l9 0.2l11-0.8l9-0.3l6 1.2l9 0.3l6-0.4l8 0.5l5-0.6l7-0.4l7 0.3l5.4-0.2"/><path d="M1089.3 410.5l5-1.2l2 0.2l4 1.1l2 0.2l5-0.4l12-2l7 0.5l6-0.5l5-0.1l7-1.5l4-0.2l2-0.5l10-5.3l3-2.4l11-12.7l7-10.3l2-1.9l2-0.9l1-0.1l2 0.6l3 2.4l11 13.7l8 8.5l3 2.1l5 2.3l5 1.4l9-0.2l5-1l6-2.7l2-1.2l3-2.9l3-4.4l3-6l3-7.2l10-28l2-3.8l1-1.2l1-0.5l1 0.2l1 0.9l3 5.4l11 31.3l3 6.4l3 4.7l5 6.7l3 2.9l2 1l4 1l6 2.2l2 0.4l5-0.2l8 1.2l6-0.4l10 1l6-0.1l9 0.8l6-1.2l12-0.2l4-0.5l3-0.7l6-3l3-0.8l3 0.6l7 3.3l6 1.3l3 0.1l7-0.8l6 1.1l6-0.2l6 0.8l5-0.4l6 1l10 0.9l8-1.4l8 0.7l7-0.2l20 0.2l12 0.9l7-0.5l9 0.3l10-1.2l7 1.5l3-0.3l6-1.1l2 0.2l4 1.1l2 0.1l9-1.6l7 1.4l3-0.1l6-0.8l6 0.4l5-0.1l6 0.6l7-1.3l5-0.4l8-1.6l9-2.8l2 0.1l14 2.6l4 0l6-1.2l5-1.4l3-1.4l8-4.8l3-1l4-0.4l4 0.8l24 8.2l10 1.4l2-0.2l6-1.4l6 0.1l2-0.4l4-1.3l9-2.3l5-2.5l6-1.6l6-3.1l2-0.5l3-0.2l6 0.4l5 1.1l21 9.9l5 0.7l8 0.6l7 1.7l5 0.2l8 1.1l11-0.9l6 0.4l18 0.2l6 0.4l5-0.3l8.4 0.1"/><path d="M1089.3 493.7l6-0.7l5-1.5l6 0.4l3-0.1l7-0.7l11-1.9l13-6.9l10-7.6l3-1.8l2-0.6l4 0.4l3-0.2l4-1.1l3-1.4l3-2.2l3-2.8l8-9l2-1.3l2-0.7l2 0.3l2 1.3l2 2.1l7 10.2l4 4.9l8 7.4l4 3.1l2 1.1l9 2.2l13 1.8l2-0.3l9-2.4l3-1.7l3-2.9l3-3.8l3-5l3-6.9l3-8.2l7-22l2-3.9l1-0.8l1 0l1 1l2 4l10 31.7l3 6.9l3 4.8l3 2.9l7 5l2 1.1l2 0.6l16 1.7l2 0l5-1.2l2-0.2l8 1.7l8 0.8l2-0.4l6-2.5l6-0.2l3-0.8l6-2.4l3-1.9l16-17.9l3-1.8l2-0.3l2 0.8l2 1.6l13 15.2l3 2.7l6 3.2l5 1.3l5 2.7l3 0.7l5-0.4l6 0.3l6-0.4l8 1.4l10-0.8l5 0.1l6 0.9l6-0.6l5 0.5l6-0.1l15 1.9l8-1.1l7 0.1l7-0.5l6 0.3l9-0.7l18 0.8l10-0.9l7 0.4l13-0.2l5 0.6l5-0.5l5 0.7l9-1l6 0.7l8-0.3l6 0.5l6-0.5l6 0.5l8-1.3l8 0.9l11-0.4l6 0.5l9-1.5l8 0.9l13 0l10-1.9l6-1.7l7-1.3l10-2.5l5-1.9l10-4.8l3-0.8l12 2.3l14 5.1l6 0.5l5 1.1l17 0.7l5-0.9l2 0l6 1.9l5 0.5l6 1.5l13 0.3l8 1l6 1.7l7 0.8l4-0.2l2-0.5l0.4-0.4"/><path d="M1089.3 575.5l6 0.8l7 0.4l2-0.2l7-1.9l5 0l5-0.6l5 0.5l2-0.4l5-2.6l4-1.4l2-1l6-4.5l5-2.8l5-2.4l6-1.7l3-1.5l7-5.3l14-14.9l3-1.9l4-1.1l3 0.7l3 2.3l3 3.4l13 16.9l4 4l3 2.3l4 2l10 3l4 0l6-1.3l3-1.5l2-1.7l3-3.5l3-4.3l3-5.3l4-8.1l9-23.2l2-3.4l1-1.1l2-1l2 0.6l1 1l2 3.2l2 4.5l5 13.7l3 7.3l7 14.7l3 4.7l3 2.6l6 3.7l3 1.5l2 0.3l5 0.2l4 1.5l10 2.7l4 0l6-1.3l8 0.9l16-0.6l6-2l6-0.6l10-4.8l5-1.5l3-0.4l4 0.6l6 3.1l6 2l4 1.7l6 1.3l6 2.1l8 0.7l7-0.5l6 0.8l2-0.2l5-1.1l3-0.1l14 1.6l8-0.4l7 1.4l2-0.1l6-1.7l2-0.2l7 1.1l11-0.7l7 1.1l9-0.7l8 1.6l2-0.3l5-1.9l2-0.2l9 2l3 0.4l2-0.4l4-1.6l2-0.2l8 0.2l12 1.3l8-1.1l6 0.1l6-0.5l8 0.2l3-0.6l3-1.1l9-4.9l3-1.3l2-0.2l2 0.4l5 3l2 0.8l13 0.3l4-1l10-4.9l4-1.2l3 0.3l4 1.2l10 4.2l6 0.7l5 1.2l5 0.4l5 1l8 0.3l5-0.5l5 0.3l6-1.2l5-0.5l3-0.6l9-2.8l12-4.5l9-1.9l2 0.2l6 1.6l6 0.2l2 0.4l10 4.2l3 0.7l5 0.6l6 2.5l10 2l9-0.4l20 2.2l4-0.2l8-1.4l20.4 0.9"/><path d="M1089.3 659.6l5 0.2l8-0.5l8 1l6-0.5l7-0.2l18 0.9l6-0.6l6 0l6-0.8l14 0.9l6-0.2l6-0.7l12 0.1l7-1.4l6 0.1l3-0.5l5-1.7l5-3.1l3-0.9l3 1.1l6 3.8l3 0.7l10 0.4l6-0.8l3-0.8l5-2.4l4-1.5l5-0.9l3 0.3l8 2.4l14 2.1l5-1.3l4-1.8l6-4.6l6-5.8l2-1.2l1-0.2l1 0.2l2 1.3l5 6.1l4 3.6l3 1.7l10 3.9l9 0.2l6-0.2l7 0.6l9-0.6l8-1l7-0.1l10-2.5l2-1.2l3-2.5l3-3.2l3-4.3l7-13.2l2-3.1l2-2l1-0.3l1 0.1l1 0.5l2 2.1l2 3.1l7 12.8l4 5.4l2 1.8l2 1.3l5 2.3l3 0.9l11 0.5l4-0.6l10-4.7l6-4.7l8-4.9l3-1.3l2-0.1l2 0.4l2 1.1l6 4.6l11 7l3 1.3l5 1.3l6 2.2l2 0.1l5-0.5l9 1.8l10-0.3l11 0.9l6-0.3l8-0.9l8 0.7l6-0.8l5 0.3l4-0.2l3-0.4l11-2.8l4-2.6l7-5.5l3-1.4l5 0.1l5-0.6l5 1.6l2 0.3l2-0.5l3-1.9l2-1.9l2-2.6l3-5.4l4-10.1l8-24.1l2-4.3l1-1.5l1-0.9l1-0.2l1 0.3l1 1l3 5.7l9 26.6l3 7.4l3 5.9l3 4.4l4 4l5 3.8l4 1.9l7 2l3 0.5l14 1.4l6 0l5 0.5l6-0.3l6 0.5l12-0.5l7 0.6l5-0.5l5 0l9-2l7-0.7l7 1.2l9 0l10 1.5l5 1.1l4 0.4l11-0.1l9-0.8l16 1.6l7-0.3l3-0.4l2.4-0.8"/><path d="M1089.3 739.7l13 1.5l4 0l5-0.8l5 0.1l11-0.9l8 0.5l2-0.3l5-1.6l11-1l7-1.6l4-1.9l10-7.4l5-5.1l6-8.2l3-3.5l2-1.8l2-1.3l3-0.8l3 0.5l3 1.9l10 10.5l7 7.9l9 6.1l4 1.3l9 0.7l5 0.1l3-0.6l7-3.4l3-1.9l3-2.9l2-2.8l2-3.5l3-6.8l8-22.6l2-4.8l2-3.2l1-0.7l1-0.1l1 0.6l2 3l2 4.8l5 14.6l3 7.5l4 8l3 4.6l2 2.2l2 1.5l9 4.9l10 3.9l3 0.7l13 0.8l7 0.9l11-0.5l7-1.8l5-0.8l3-1.3l8-4.6l4-3.7l5-6.6l2-2.2l1-0.7l2-0.4l3 1l4 2.9l4 3.6l6 6.9l2 1.7l10 5.2l2 0.4l5-0.5l6 1.5l7 0.1l6 1l7-0.2l8 0.7l5-0.2l7 0.2l6-0.5l7 1l7 0.3l11-0.9l6 0.8l8 0l7 1.2l6-0.8l6 0.5l9-0.2l6-0.8l7 0.8l6-0.5l7 0.3l6-0.5l17-0.1l8 1l2-0.2l4-1.2l2-0.3l6 0.4l16-0.5l3 0.3l6 1.5l8 0.8l3-0.3l5-1.6l3-0.4l22-0.1l17 0.6l8-1.1l9 0.8l8-1.3l7 0l10-2.1l15-2.1l17-5.6l6-2.3l3-0.5l2 0.4l7 2.6l5 1.4l6 2.3l7 1.2l7 2.7l7 0.2l6 1.3l6 0.9l8 0.1l5 1.2l2 0l4-1.3l2-0.1l5 0.8l8 0.6l11-0.5l2 0.3l3.4 1.1"/><path d="M1089.3 823.1l4-0.2l6 0.8l9-0.3l12-2.1l3 0.1l4 0.9l2 0l11-1l6 0.3l4-0.6l3-0.8l9-4l4-2.8l9-9.7l12-15l3-2.6l2-0.6l1 0.1l2 0.9l3 2.8l15 19.9l2 2.3l3 2.3l3 1.3l7 1.9l10 1.1l8-0.8l10-4.4l3-2.8l3-3.9l3-5.5l2-4.9l10-29.8l2-3.5l1-0.8l1 0l1 0.6l1 1.3l2 4.2l7 21.6l4 10.1l5 9.2l3 4.1l2 2.1l3 2l9 2.9l10 1.3l9-0.1l7 1.8l2 0l5-0.8l7 0.8l7-0.7l6-0.1l10-1.7l3-0.9l2-1.1l5-4.2l2-1.2l3-0.7l2 0.5l8 4.4l6 2l3 0.3l6-1.2l7-0.6l7 1.7l6 0.8l11 3.5l3 0.5l9 0l7-1.5l10 2.1l4 0.4l3-0.2l6-1.5l3-0.2l5 0.2l5 1.2l2 0.2l6-0.9l7 0.5l8-0.9l7 0.1l6 0.9l11-0.2l7 0.5l8-1.1l9 0.6l6-1.1l6 0.9l6-0.1l15 0.7l11-1.1l6 0.1l6-0.6l7 0l5 0.4l5-0.4l6 0.9l8-1.6l10-2.8l9-1.4l2 0.1l9 3.1l2 0.5l6 0.2l6 1.1l9-0.9l8 0.7l6 0.8l12-2.8l10-1l6-2l15-6.2l5-1.3l4-0.5l2 0.3l3 1l9 5l5 2.2l5 1l6 1.8l6 0.8l6 1.3l10-0.5l8 0.6l5-0.6l7-0.2l6 1.1l6 0l5-0.4l7 0.7l9-0.5l2-0.4l0.4-0.4"/><path d="M1089.3 910.9l4-2l3-0.7l5 0.3l5-0.5l11-0.5l8 1l8-1.5l7 0.5l5-0.4l7-0.1l3-0.3l13-2.8l9-4.7l10-3.1l6-1.2l2 0.2l5 1.5l5 1l8 2.4l8-0.3l9 0.9l7-0.6l10 0.8l7-1l5-0.3l3-1.1l5-3.6l4-4l7-8.6l2-1.6l1-0.3l1 0l2 1.2l11 11.8l4 3.4l4 2.3l4 1.2l4 0.2l3-1.2l6-4.1l2-0.5l1 0.1l3 1.7l7 5.6l7 3.5l3 1l2 0.1l6-0.8l9 0.4l6-0.5l5 0.3l6-0.9l4-1.4l2-1.3l2-2l5-6.4l1-0.6l1-0.2l2 0.9l4 3.3l2 1.1l2 0.4l2-0.2l3-1.2l5-3l3-2.8l6-6.9l2-1.6l2-0.7l2 0.2l1 0.6l2 1.8l4 4.9l2 1.9l5 3.2l8 5.6l3 1.5l2 0.7l3 0.4l2 0l5-1l5-0.3l3-0.6l3-1l5-2.5l3-2.3l7-7.9l5-3.9l5-4.7l2-1.1l1-0.2l2 0.2l2 1.2l9 8.1l3 1.6l5 1.7l8 5.8l10 4.4l6 2l3 0.8l5 0.5l6 1.3l6 0.9l7-0.5l15 0.3l6-1.5l8-0.8l3-0.6l6-2.8l4-2.7l3-3.7l2-3.7l3-7.1l7-19.5l2-3.3l1-0.8l1-0.1l1 0.5l1 1.1l2 3.7l5 10.9l3 5.2l2 2.9l2 2.1l2 1.2l2 0.1l1-0.5l3-3.2l3-5.2l4-9.1l9-24.4l2-3.3l1-0.9l1-0.3l1 0.2l1 0.8l2 3.2l2 4.9l6 18.5l3 8.2l3 6.7l3 5.2l5 6.5l3 2.9l2 1.2l9 4l5 0.8l6 0.3l6 1l7 0.3l5 0.7l2 0l14-1.9l9-1.8l7 1l7-0.2l7 0.3l12 2.1l7-0.5l3 0.6l4 1.5l2 0.4l12-1.7l2 0.3l5 1.6l5 0.7l8-0.7l10 1l4 0.1l15-1.8l3 0.2l4.4 0.8"/><path d="M1089.3 988l5 0.8l25-0.6l7 0.4l8-1.8l6-0.2l6 0.3l6-2.8l5-0.5l3-0.7l4-2l3-2.5l18-19.8l3-2.2l2-0.4l3 0.7l4 2.9l3 3l8 9.5l8 6.9l3 2l7 2.1l4 0.7l8 0.1l3-0.5l5-2.3l5-1.4l2-0.9l3-2.5l3-3.6l4-6.7l3-6.7l8-24.3l2-4.9l2-3l1-0.6l1-0.1l1 0.6l1 1.2l2 4l8 25.3l3 7.4l4 7.1l4 5.2l3 2.5l5 2.3l3 0.2l5-0.7l2 0.7l5 2.2l8 2.2l14 1l7 0.8l7-1l5 0l2-0.3l5-1.5l5-0.9l5-2l3-1.7l6-5.2l3-1.5l2-0.4l2 0.3l1 0.5l5 4.6l2 1.3l2 0.8l4 0.4l6-1.4l2-0.2l6 0.6l8 1.3l7 2.6l6 0.1l2 0.3l7 2.3l2 0.4l17-1.4l3-0.7l9-3.1l3-0.4l14 1l13 3.6l4 0.9l4 0.3l5-0.2l5 0.4l5-0.1l6 1.2l8 0.8l12-0.4l6-1l14 1l6-0.2l7-1.2l12 0.9l6-0.7l3-0.7l9-4.4l3-1.3l2-0.4l2 0.3l6 2.3l4 0.8l6 0.3l5-0.9l3-0.9l2-1.1l7-5.6l4-2.6l3-1.2l2-0.2l2 0.3l3 1.2l9 6.5l7 3.6l5 2.1l3 0.7l9 1.2l9 0.1l4-0.7l9-2.6l6-0.2l5-0.9l8-3.6l11-3.7l6-2.9l3-0.8l9 1.4l6 3.4l10 4.9l8 1.1l10 2.8l7-0.2l13 2l8 0.2l7 0.9l2-0.1l5-1.4l2-0.1l9 1.2l6-0.1l6 0.3l4.4 0.8"/><path d="M1089.3 1071.8l5-0.6l8-0.2l4 0.2l5-0.3l4 0.5l5-0.1l5 0.5l9-1.6l9-0.9l6 0.4l3-0.6l12-6.1l9-6.6l3-3.5l5-8.4l4-5.7l4-4.1l3-1.5l2 0.2l1 0.4l2 1.5l3 2.9l4 4.7l8 12.1l2 2l2 1.3l12 3.6l3 0.5l6-0.8l8 0.2l7-1.7l3-1.4l2-1.6l3-3.4l2-3.2l4-9.3l7-21l3-8.1l2-4.1l1-1.4l1-0.8l1-0.4l1 0.4l1 0.9l2 3.7l8 24.1l3 7.8l5 10.5l3 3.9l2 1.3l3 0.8l3 0l5-0.6l2 0.1l2 0.9l5 4.1l3 1.7l8 2.9l8 1l16 0.1l11-2.3l3-1.4l4-3.1l11-12l3-2.2l2 0l5 3.2l2 0.7l4 0.6l2-0.1l3-1.4l8-6.7l3-1.2l1 0l2 0.7l3 2.1l12 12.8l4 3.5l10 4.9l3 1l4 0.1l9-1.3l6-1.6l3-1.3l7-3.5l4-2.5l3-2.6l6-6.7l2-1.3l2-0.6l1 0.2l2 0.9l9 6.5l8 3.4l4 1.3l4 0.3l2 0.5l6 3.3l7 3l7 1.5l7 2l7 0.1l6 0.7l5-0.9l2-0.1l4 1l2 0.1l5-1l13-0.6l3-1l8-4.7l3-2.5l2-2.4l2-3.2l2-4.2l6-16.3l2-4.6l2-3.2l1-0.9l1-0.3l1 0.3l2 2.5l6 13.9l4 7l3 3l1 0.4l2 0.1l2-0.8l1-0.8l3-3.7l6-10.5l7-15.6l2-3.3l2-1.5l1 0l1 0.5l1 1l2 3.2l8 18.9l6 11.4l3 4.6l3 3.5l3 2.6l3 1.5l7 2.5l3 0.4l9-0.2l7 1.3l5 0l7-2.2l7-0.8l3-0.8l4-1.4l7-3.4l12-4.9l2-0.6l2-0.2l11 1.7l11 5.5l7 2l6 3.5l10 1.7l7 1.8l2 0.2l6-0.4l6 1.1l5 0.4l7 1.7l2-0.3l5-1.4l3-0.3l4 0.1l6 0.8l9.4 0.2"/></g>
<g><path d="M197.6 1362.4l0-0.3l15-0.3l9.5-0.6l5.5-1l2-0.8l1.5-0.9l1.5-1.5l1-1.5l2-4.2l2-6.5l4-15.9l1-2.6l0.5-0.7l0.5-0.2l0.5 0.2l0.5 0.7l1 2.6l4 15.9l2 6.5l2 4.2l1 1.5l1.5 1.5l1.5 0.9l2 0.8l5.5 1l9.5 0.6l15 0.3l0 0.3z" fill="#808080"/><path d="M285.2 1362.4l0-0.7l14-0.8l4.5-0.5l4-0.9l3-1.1l2-1.2l1.5-1.4l1.5-2.3l1-2.3l1-3.2l2-10l2-16l3.5-35.6l1-6.9l0.5-1.9l0.5-0.7l0.5 0.7l0.5 1.9l1 6.9l3.5 35.6l2 16l2 10l1 3.2l1 2.3l1.5 2.3l1.5 1.4l2 1.2l3 1.1l4 0.9l4.5 0.5l14 0.8l0 0.7z" fill="#808080"/><path d="M824.9 1362.4l0-0.2l15.5-0.4l3.5-0.5l3-1l2.5-1.6l2-2l7-9.4l1.5-1.2l1-0.2l1 0.2l1.5 1.2l7 9.4l2 2l2.5 1.6l3 1l3.5 0.5l15.5 0.4l0 0.2z" fill="#808080"/><path d="M162.6 1444.3l0-0.1l31-0.5l6-0.5l4-1l2.5-1.4l2.5-2.6l2.5-4l5-9.8l1.5-1.7l1-0.4l1 0.4l1.5 1.7l5 9.8l2.5 4l2.5 2.6l2.5 1.4l4 1l6 0.5l31 0.5l0 0.1z" fill="#808080"/><path d="M245.4 1444.3l0-0.5l18.5-0.6l11.5-1l4-0.9l3-1l2-1.1l2-1.9l1.5-2.1l1.5-3.1l2.5-7.8l2.5-11.7l4.5-25.5l1.5-5.2l0.5-0.8l0.5-0.3l0.5 0.3l0.5 0.8l1.5 5.2l4.5 25.5l2.5 11.7l2.5 7.8l1.5 3.1l1.5 2.1l2 1.9l2 1.1l3 1l4 0.9l11.5 1l18.5 0.6l0 0.5z" fill="#808080"/><path d="M776.4 1444.3l0-0.1l20.5-0.4l5-0.3l3.5-0.7l3-0.9l2.5-1.3l3-1.9l6.5-5l2-1l2-0.4l2 0.4l2 1l6.5 5l3 1.9l2.5 1.3l3 0.9l3.5 0.7l5 0.3l20.5 0.4l0 0.1z" fill="#808080"/><path d="M198.4 1526.2l0-0.2l14.5-0.3l9-0.6l5.5-0.9l3-1.4l1.5-1.3l1-1.3l2-4l2-6l3.5-12.7l1-2.4l0.5-0.7l0.5-0.2l0.5 0.2l0.5 0.7l1 2.4l3.5 12.7l2 6l2 4l1 1.3l1.5 1.3l3 1.4l5.5 0.9l9 0.6l14.5 0.3l0 0.2z" fill="#808080"/><path d="M282.8 1526.2l0-0.5l14.5-0.6l9-1.1l3-0.7l2.5-1.1l1.5-1l1.5-1.7l1.5-2.7l1-2.7l2-7.9l2-12l3.5-25.5l1-4.8l0.5-1.3l0.5-0.4l0.5 0.4l0.5 1.3l1 4.8l3.5 25.5l2 12l2 7.9l1 2.7l1.5 2.7l1.5 1.7l1.5 1l2.5 1.1l3 0.7l9 1.1l14.5 0.6l0 0.5z" fill="#808080"/><path d="M811.5 1526.2l0-0.2l23-0.4l5-0.4l4-0.9l3.5-1.3l3-1.7l10.5-8.8l2-1l2-0.3l2 0.5l2 1.1l7.5 6.5l3 2.2l3 1.7l3 1.1l4 0.8l5 0.5l23.1 0.4l0 0.2z" fill="#808080"/><path d="M182.3 1608.1l0-0.1l24-0.2l5-0.3l3-0.5l2-0.7l2-1.4l2-2.1l4-5.5l1-0.9l1-0.3l1 0.3l1 0.9l4 5.5l2 2.1l2 1.4l2 0.7l3 0.5l5 0.3l24 0.2l0 0.1z" fill="#808080"/><path d="M260.1 1608.1l0-0.5l27.5-0.6l17-1.1l6-0.9l4.5-1l3.5-1.4l2.5-1.6l2.5-2.4l2-2.7l2-3.7l2-4.9l3.5-11.3l5.5-22.7l2-7.3l1-2.8l1-1.9l1-1.1l0.5-0.1l0.5 0.1l1 1.1l1 1.9l1 2.8l2 7.3l5.5 22.7l3.5 11.3l2 4.9l2 3.7l2 2.7l2.5 2.4l2.5 1.6l3.5 1.4l4.5 1l6 0.9l17 1.1l27.5 0.6l0 0.5z" fill="#808080"/><path d="M833.8 1608.1l0-0.2l20.5-0.3l5-0.5l3.5-0.7l3-1l2.5-1.4l3-2.2l6.5-5.6l2-1.2l2-0.4l2 0.4l2 1.2l6.5 5.6l3 2.2l2.5 1.4l3 1l3.5 0.7l5 0.5l20.5 0.3l0 0.2z" fill="#808080"/><path d="M204.1 1690l0-0.2l13-0.3l8-0.5l5-0.8l1.5-0.5l1.5-0.9l2-2.1l2-3.9l2-6.3l3-11.7l1-2.8l0.5-0.7l0.5-0.3l0.5 0.3l0.5 0.7l1 2.8l3 11.7l2 6.3l2 3.9l2 2.1l1.5 0.9l1.5 0.5l5 0.8l8 0.5l13 0.3l0 0.2z" fill="#808080"/><path d="M287.2 1690l0-0.5l13-0.6l8-1l3-0.8l2-0.9l1.5-1.1l1.5-1.8l1-1.8l1-2.6l2-8.2l2-13.2l3-24.6l1-5.8l0.5-1.6l0.5-0.5l0.5 0.5l0.5 1.6l1 5.8l3 24.6l2 13.2l2 8.2l1 2.6l1 1.8l1.5 1.8l1.5 1.1l2 0.9l3 0.8l8 1l13 0.6l0 0.5z" fill="#808080"/><path d="M816.5 1690l0-0.1l18.5-0.4l4-0.3l3.5-0.6l2.5-0.9l2.5-1.3l2.5-1.8l6-5.2l2-1.1l1.5-0.3l1.5 0.2l1.5 0.7l9 7.2l2.5 1.4l3 1.1l3 0.6l4.5 0.3l18.4 0.4l0 0.1z" fill="#808080"/><path d="M196.2 1771.9l0-0.4l12-0.4l6.5-0.5l4-0.8l2-0.9l1.5-0.9l2.5-2.3l2.5-3.6l2.5-4.9l6-13.9l2-3l1.5-0.9l1.5 0.5l1.5 1.8l2 3.9l4.5 10.7l2.5 5.1l2.5 3.8l3 2.9l3 1.5l4.5 1l6.5 0.6l11.9 0.3l0 0.4z" fill="#808080"/><path d="M279.3 1771.9l0-0.5l14.5-0.5l9-1l3-0.7l2.5-1l1.5-1l1.5-1.6l1.5-2.6l1-2.4l2-7.5l2-11.2l3.5-23.9l1-4.5l0.5-1.2l0.5-0.4l0.5 0.4l0.5 1.2l1 4.5l3.5 23.9l2 11.2l2 7.5l1 2.4l1.5 2.6l1.5 1.6l1.5 1l2.5 1l3 0.7l9 1l14.5 0.5l0 0.5z" fill="#808080"/><path d="M808.4 1771.9l0-0.2l18.5-0.5l4-0.4l3.5-1l2.5-1.3l2.5-1.9l2.5-2.6l6-7.5l2-1.6l1.5-0.5l1.5 0.3l1.5 1l2 2.1l4.5 5.7l2.5 2.7l2.5 2.1l3 1.5l3 0.9l4.5 0.5l18.4 0.5l0 0.2z" fill="#808080"/><path d="M206.4 1853.8l0-0.4l10.5-0.4l6-0.6l3.5-1l3-1.8l2.5-3l2.5-4.6l2-5.1l4.5-13.2l1.5-3.5l1.5-2l1-0.4l0.5 0.2l1 0.9l1.5 2.8l5.5 15.8l2.5 6l2 3.4l2 2.4l1.5 1.2l1.5 0.8l3.5 1l6 0.7l10.8 0.4l0 0.4z" fill="#808080"/><path d="M284.9 1853.8l0-0.5l14.5-0.6l9-1.1l3-0.8l2.5-1l1.5-1.1l1.5-1.7l1.5-2.8l1-2.7l2-8l2-12.2l3.5-25.9l1-4.8l0.5-1.3l0.5-0.5l0.5 0.5l0.5 1.3l1 4.8l3.5 25.9l2 12.2l2 8l1 2.7l1.5 2.8l1.5 1.7l1.5 1.1l2.5 1l3 0.8l9 1.1l14.5 0.6l0 0.5z" fill="#808080"/><path d="M787.7 1853.8l0-0.2l31.5-0.4l7-0.6l5-1l4.5-1.6l4.5-2.6l4-3.2l7-6.2l3-2.3l3-1.5l2.5-0.4l2.5 0.4l3 1.5l3 2.3l7 6.2l4 3.2l4.5 2.6l4.5 1.6l5 1l7 0.6l31.5 0.4l0 0.2z" fill="#808080"/><path d="M203.4 1935.7l0-0.2l13-0.3l8-0.4l5-0.7l3-1.3l2-1.9l2-3.5l2-5.7l3-10.6l1-2.5l0.5-0.7l0.5-0.2l0.5 0.2l0.5 0.7l1 2.5l3 10.6l2 5.7l2 3.5l2 1.9l3 1.3l5 0.7l8 0.4l13 0.3l0 0.2z" fill="#808080"/><path d="M286.8 1935.7l0-0.5l13-0.6l8-1l3-0.8l2-0.9l1.5-1.1l1.5-1.8l1-1.8l1-2.6l2-8.2l2-13.2l3-24.6l1-5.8l0.5-1.6l0.5-0.5l0.5 0.5l0.5 1.6l1 5.8l3 24.6l2 13.2l2 8.2l1 2.6l1 1.8l1.5 1.8l1.5 1.1l2 0.9l3 0.8l8 1l13 0.6l0 0.5z" fill="#808080"/><path d="M826.1 1935.7l0-0.2l14.5-0.3l3.5-0.4l2.5-0.8l2-1l1.5-1.1l2-2l5-5.9l1.5-1.1l1-0.2l1 0.2l1.5 0.9l6.5 7.4l2 1.7l2.5 1.2l2.5 0.7l3.5 0.4l14.2 0.3l0 0.2z" fill="#808080"/><path d="M191.6 2017.6l0-0.2l17.5-0.3l10.5-0.6l6-0.8l2-0.6l2-1l2.5-2.2l2.5-4l2.5-6.3l4-12.4l1.5-3l1-0.6l1 0.6l1.5 3l4 12.4l2.5 6.3l2.5 4l2.5 2.2l2 1l2 0.6l6 0.8l10.5 0.6l17.5 0.3l0 0.2z" fill="#808080"/><path d="M279.2 2017.6l0-0.5l15.5-0.6l10-1.2l3.5-0.8l2.5-1.1l2-1.4l1.5-1.7l1.5-2.6l1-2.5l2-7.4l2-10.9l4.5-31.4l1-4.3l0.5-1.2l0.5-0.4l0.5 0.4l0.5 1.2l1 4.3l4.5 31.4l2 10.9l2 7.4l1 2.5l1.5 2.6l1.5 1.7l2 1.4l2.5 1.1l3.5 0.8l10 1.2l15.5 0.6l0 0.5z" fill="#808080"/><path d="M812.9 2017.6l0-0.2l20.5-0.5l5-0.5l3.5-0.9l3-1.5l2.5-1.7l3-2.9l6.5-7.3l2-1.5l2-0.5l2 0.5l2 1.5l6.5 7.3l3 2.9l2.5 1.7l3 1.5l3.5 0.9l5 0.5l20.5 0.5l0 0.2z" fill="#808080"/><path d="M196.5 2099.5l0-0.3l15.5-0.2l10-0.6l6-0.9l2-0.7l1.5-0.8l2.5-2.4l2-3.5l2-5.3l4.5-15l1-2.1l1-0.7l1 0.7l1 2.1l4.5 15l2 5.3l2 3.5l2.5 2.4l1.5 0.8l2 0.7l6 0.9l10 0.6l15.5 0.2l0 0.3z" fill="#808080"/><path d="M279.2 2099.5l0-0.5l15.5-0.5l10-1.1l3.5-0.8l2.5-0.9l2-1.3l1.5-1.6l1.5-2.4l1-2.3l2-6.8l2-10l4.5-28.9l1-4l0.5-1l0.5-0.4l0.5 0.4l0.5 1l1 4l4.5 28.9l2 10l2 6.8l1 2.3l1.5 2.4l1.5 1.6l2 1.3l2.5 0.9l3.5 0.8l10 1.1l15.5 0.5l0 0.5z" fill="#808080"/><path d="M812.9 2099.5l0-0.2l20.5-0.4l5-0.5l3.5-0.9l3-1.2l2.5-1.7l3-2.6l6.5-6.7l2-1.3l2-0.5l2 0.5l2 1.3l6.5 6.7l3 2.6l2.5 1.7l3 1.2l3.5 0.9l5 0.5l20.5 0.4l0 0.2z" fill="#808080"/><path d="M203.6 2181.4l0-0.2l13-0.3l8-0.4l5-0.7l3-1.2l2-1.9l2-3.5l2-5.5l3-10.5l1-2.4l0.5-0.7l0.5-0.2l0.5 0.2l0.5 0.7l1 2.4l3 10.5l2 5.5l2 3.5l2 1.9l3 1.2l5 0.7l8 0.4l13 0.3l0 0.2z" fill="#808080"/><path d="M283.2 2181.4l0-0.5l14.5-0.6l9-1.2l3-0.8l2.5-1.1l1.5-1.2l1.5-1.8l1.5-2.8l1-2.8l2-8.5l2-12.7l3.5-27.1l1-5l0.5-1.4l0.5-0.5l0.5 0.5l0.5 1.4l1 5l3.5 27.1l2 12.7l2 8.5l1 2.8l1.5 2.8l1.5 1.8l1.5 1.2l2.5 1.1l3 0.8l9 1.2l14.5 0.6l0 0.5z" fill="#808080"/><path d="M824.9 2181.4l0-0.2l14.5-0.4l3.5-0.4l2.5-0.8l2-1.1l1.5-1.2l2-2.2l5-6.3l1.5-1.1l1-0.3l1 0.2l1.5 1l6.5 8l2 1.7l2.5 1.4l2.5 0.7l3.5 0.5l14.2 0.3l0 0.2z" fill="#808080"/><path d="M202.9 2263.3l0-0.2l13-0.2l8-0.5l5-0.7l3-1.1l2-1.8l2-3.4l2-5.3l3-10.1l1-2.3l0.5-0.7l0.5-0.2l0.5 0.2l0.5 0.7l1 2.3l3 10.1l2 5.3l2 3.4l2 1.8l3 1.1l5 0.7l8 0.5l13 0.2l0 0.2z" fill="#808080"/><path d="M283.2 2263.3l0-0.5l14.5-0.5l9-1l3-0.7l2.5-1l1.5-1l1.5-1.6l1.5-2.6l1-2.4l2-7.5l2-11.2l3.5-23.9l1-4.5l0.5-1.2l0.5-0.4l0.5 0.4l0.5 1.2l1 4.5l3.5 23.9l2 11.2l2 7.5l1 2.4l1.5 2.6l1.5 1.6l1.5 1l2.5 1l3 0.7l9 1l14.5 0.5l0 0.5z" fill="#808080"/><path d="M826.1 2263.3l0-0.2l14.5-0.3l3.5-0.4l2.5-0.8l2-1l1.5-1.1l2-2l5-5.9l1.5-1.1l1-0.2l1 0.2l1.5 0.9l6.5 7.4l2 1.7l2.5 1.2l2.5 0.7l3.5 0.4l14.2 0.3l0 0.2z" fill="#808080"/></g>
<line x1="245.4" y1="1261.0" x2="245.4" y2="2290.0" stroke="#000" stroke-width="3" stroke-dasharray="12.4 12.93"/>
<line x1="327.5" y1="1261.0" x2="327.5" y2="2290.0" stroke="#000" stroke-width="3" stroke-dasharray="12.4 12.93"/>
<line x1="862.0" y1="1261.0" x2="862.0" y2="2290.0" stroke="#000" stroke-width="3" stroke-dasharray="12.4 12.93"/>
<g fill="none" stroke="#000" stroke-width="4.5" stroke-linejoin="round" stroke-linecap="round"><path d="M134.3 1362.3l7 0.3l8-0.7l7 0.3l12-0.4l16 0.3l5 0.5l8-1.1l12 0l8 0.4l4-0.5l7-1.7l2-0.9l2-1.7l2-3.1l1-2.2l2-6l4-15.8l1-3.1l1-1.7l1 0.2l1 2l5 19.7l2 5.8l2 3.7l1 1.2l2 1.6l2 0.8l4 0.8l10 0.2l10 0.8l6-0.6l6-0.1l12-2.1l3-1l3-1.7l2-2.4l2-4.7l1-3.8l2-11.4l1-8l4-40.2l1-6.6l1-2.2l1 2.9l1 7.1l3 30.3l2 17l2 11.2l1 3.6l2 4.3l1 1.1l2 0.9l2 0.1l2-0.4l4-2.2l7-5.8l2-0.7l2 0.1l2 0.9l2 1.5l10 10l2 1.3l2 0.6l11 1l9-0.6l6 0.6l6-0.9l7 1.4l4 0.2l8-0.7l6 0.1l7-0.6l8 0.9l12-0.6l8 1.1l7-0.8l8 0.7l12-0.8l6 0.4l9 0.2l8-1l2 0.1l5 1.3l2 0.2l6-0.8l7 0l10 0.8l7-0.7l6 0l7-0.7l5 0.2l6 0.7l10-0.6l12 1l6-0.5l5 0.1l6-0.8l8 0.9l13-1.3l20 1.9l3-0.4l5-1.4l2-0.2l9 1.4l9-0.8l7 0.9l6-0.6l6 0.1l16-0.4l16 1.2l6-1.2l12 0.6l10-0.4l8 0.4l9-1l20 1.6l8-1l7 0.2l7-1.1l10 0.8l2-0.1l3-0.6l3-1.4l2-1.6l3-3.8l5-7.5l2-1.6l1-0.1l1 0.4l2 2l5 7.5l3 3.7l2 1.7l3 1.2l5 0.6l6-0.6l11-0.1l10 1.3l2-0.1l7-1.3l7 0.8l5-0.3l5.9 0.4"/><path d="M134.3 1444.1l4-0.2l9 0.5l7-0.4l6 0.6l7-0.1l23-1.1l6 0.2l2-0.4l6-2.4l2-1.4l2-2l3-4.6l6-12.7l1-1.1l1-0.5l1 0.2l1 0.8l5 6.7l2 2.2l2 1.5l7 2.8l10 5.2l8 3.4l5 1.5l3 0.1l15-1.8l3-0.8l3-1.9l2-1.9l2-2.9l2-4.6l3-11.5l6-33.2l1-3.4l1-1.7l1 0.4l1 2.3l5 22.1l3 9.8l2 3.6l4 4.6l6 7.9l2 1.8l2 0.8l2-0.1l6-1.4l2 0l2 0.4l2 0.9l6 4.8l4 2.3l7 2.8l3 0.7l5 0.1l7 0.6l9-0.4l8 0.9l8-0.7l7 0.8l13-0.2l5-0.4l7 1.1l5-1.2l2-0.1l11 0.6l9-0.1l8 0.7l15-0.9l8 0.5l6-0.5l7 0.8l6-0.3l11 0.5l7-0.6l6 0.6l16 0.3l2-0.1l6-1.3l4-0.2l6 0.4l9 0l8 1.3l3 0.2l3-0.4l5-1.5l2-0.2l7 1.3l3 0.3l16-1.5l3 0.2l5 0.9l7-1.1l7 1.3l6-0.6l10 0.8l6-0.8l7-0.4l10 0.8l8-0.6l5 0.5l7 0.1l7-1.1l7 0.8l9-0.1l6 0.8l8-0.9l8 0.6l12-0.8l12 0.9l9-0.7l12 0.1l5 0.5l8-1l3-1l2-1.2l5-4.3l3-2.2l4-2.2l3-0.8l2 0.3l2 0.9l7 4.7l3 1.1l13 0.6l11 1.9l6 0.6l13 2.9l7-1l8 1.8l3 0.3l10-2.1l7 0.3l5-0.7l13.9 0.4"/><path d="M134.3 1525l12 2.2l7-1.2l7 0.1l6 0.5l8-1.2l6 0.6l16 0.2l7-0.8l14-0.8l7-0.1l2-0.3l2-0.7l2-1.2l2-2.1l1-1.6l3-7.6l4-14.5l1-2.7l1-1.2l1 0.4l1 2l4 12.1l2 3.6l1 0.9l1 0.4l5-0.5l2 0.7l2 1.6l6 5.8l6 3.9l4 1.3l5 0.5l16-0.2l9-1.6l3-1.2l3-1.9l2-2.6l2-4.6l2-7.9l1-5.5l4-28.2l1-5.8l1-3.2l1 0l1 3.3l4 27.1l2 11.6l2 7.6l2 4.2l1 1.1l1 0.6l2 0l2-0.6l5-2.7l7-6.3l2-0.7l1 0.1l3 1.8l8 8.4l5 4.5l3 2.1l2 0.5l5-0.8l5 0.9l10 0.6l11-0.4l18 0.9l16-1.1l8 0.9l8-0.7l7 0.7l5-0.1l7 0.3l8-0.6l3 0.2l6 1.1l9-0.3l4-0.5l5 0.2l6-0.6l8 1.1l10-1.8l14 1.1l6-0.2l4 0.3l5-0.4l6 1l7-0.8l18 0.5l7-0.7l11-0.2l9 0.3l10-0.4l8 0.2l9 1.5l9-1.5l7 0.7l5-0.4l14-0.3l6-0.8l12 1l6 0l4 0.7l7-0.9l8 0.5l10-1.1l13 1.1l6-0.6l8 0.4l14-1.1l3 0.2l6 1.4l8-1.1l7 1.3l4-0.3l6-1l7 0.8l9-0.7l7 0l3-0.6l4-1.2l3-1.5l2-1.6l8-8.3l2-1.3l2-0.6l2 0.4l3 1.5l8 7.1l3 1.9l5 2.2l10 2.9l3 0.2l10-1.6l6 0.5l12-0.3l8 0.8l2.9 0"/><path d="M134.3 1608.9l9-1l6-0.3l8 1l13-1.5l9-0.4l14 1.3l13-0.3l9-0.8l2-0.8l2-1.7l5-7.3l1-1.1l1-0.5l1 0.2l1 0.9l4 5.5l3 3l3 1.2l6 1.4l3 0.2l5-0.2l7-0.8l13 1.6l14-2.2l7-0.1l3-0.9l3-1.4l2-2l1-1.8l2-5.8l3-12.4l1-3.2l1-1.5l1 0.7l1 2.4l3 11.4l2 5.4l1 1.6l1 0.8l2 0.3l2-1l2-2l2-3l3-6.3l4-12.2l7-28.4l2-5.2l1-1.4l1-0.6l1 0.4l1 1.4l1 2.4l8 29.9l3 8.3l2 3.6l6 6.5l6 7.3l4 3.6l2 1.1l3 1l11 1.8l3 0.2l9-0.6l8 0.6l6-0.4l8 1.2l9-0.6l18 0.9l9-0.9l5 0.5l6-0.2l14 0.9l6-0.6l5 0.3l8-0.4l5-0.7l7 1.3l7-0.8l16 0.2l11-0.5l15 1.2l12-1.3l6 0.6l5 0l5 0.6l6-0.5l19 0.5l15-0.9l5 0l14 1.1l6 0.1l9-0.7l10 0.5l8-1.4l9 0.9l13-0.5l6 0.2l4-0.3l6 0.4l8-1l15 1.5l13-0.1l5 0.3l18-0.2l12-0.8l11-0.1l6 0.5l10-1.4l10-2.3l2-0.2l2 0.3l9 3l3 0.5l6-0.8l8-0.5l3-0.8l4-2.6l7-6.4l3-1.5l2-0.3l3 1l11 8.4l3 1.7l2 0.8l16 1.5l11-1.3l7.9 1.2"/><path d="M134.3 1688.4l11 1.9l7-0.7l9 1l9-1.1l14 1.1l9-1.6l6 0.3l7-0.9l3-1.2l8-4.9l3-0.9l3 0l6 1.5l3 0l2-0.9l1-1l2-3.4l2-5.9l3-11l1-2.4l1-0.6l1 1.4l1 3l3 11.8l2 6.3l2 4l1 1.2l2 1.6l3 1l7 0.3l10 0.8l5-0.1l8-1.1l2-0.8l2-1.6l8-8.8l2-1.5l1-0.4l1-0.1l2 0.4l5 3.1l2 0.9l1 0l1-0.4l1-1.1l1-2l1-3.1l1-4.4l2-12.7l3-24.1l1-5.5l1-1.9l1 2.4l1 6l4 32.3l2 10.8l1 3.4l2 3.9l2 1.5l2 0.5l4 0l4-0.7l3-1l5-2.5l3-0.5l3 0.4l4 1.4l10 5.5l4 1.5l7 0.7l8 0.3l8-1.2l7 1.3l2 0.1l6-0.5l7 1.2l4-0.2l7-0.9l6 1l4 0.1l8-1.5l7 0.9l8-1.2l7 1.1l5 0.1l5 0.6l2-0.1l8-1.3l7 0.6l10-0.2l8 1.5l7-1l9 0.7l10-1.6l6 1l9-0.8l8 0.6l9-0.3l9 0.8l20-1.6l11 0.5l9 1.1l6-0.7l5 1.2l3 0.2l12-1.6l21 0.7l8-0.1l7 0.8l7-0.9l12-0.5l16 1.1l6-0.3l6-0.9l12-0.3l8 0.9l12-0.6l19 0.7l9-1.3l8 0.1l10-0.6l7-2.5l10-2l3 0l5 0.7l3-0.2l4-1.5l3-1.9l4-3.2l2-1l1-0.1l1 0.2l2 1.1l5 4.5l5 3.6l3 1.6l2 0.5l7 0.6l5 0.9l6-0.4l7 0.3l9-0.3l5 0.5l6 1.1l9 0l4.9-0.8"/><path d="M134.3 1770.6l5 0.9l8-0.9l4 0.6l19 0.7l5 0.8l10-1.8l6 1.1l2 0.1l16-2.5l2-0.9l2-1.8l5-7.8l2-2.5l1-0.6l1-0.1l4 1l2-0.8l2-2.6l6-12.1l2-2l1-0.2l1 0.4l2 2.4l7 15.2l3 5.6l2 2.5l2 1.7l6 2.4l4 0.7l9 0.3l9-0.9l5 0.2l2-0.3l2-1.1l2-2.2l2-3.8l1-2.8l3-12.6l4-21.8l1-3.8l1-2.1l1-0.1l1 1.8l4 14.6l1 2.3l1 0.8l1-0.9l1-2.7l4-20.8l1-3.9l1-1.2l1 1.9l1 4.7l4 27.3l2 10.2l2 6.5l1 2.1l2 2.6l2 1.4l3 0.7l2-0.5l6-3l3-0.5l3 0.1l3 0.6l3 1.2l10 5.1l2 0.5l7 0.7l6 0.2l8 0.8l9-0.6l10 0.3l4 0.5l8-1l7 1.2l7-1.2l21 1.3l7-0.8l6-0.3l6 0.5l6 0l6 0.9l5-0.4l5 0.2l5-0.5l11 0.2l8-0.5l9 1.3l10-0.1l7-1.3l3-0.2l15 1.7l11-1.2l11 0.7l11-0.7l13 0.2l5-0.6l8 0.5l12-0.1l13 0.5l9-0.9l30 1.1l14-1.5l7 1.4l9 0.5l4-0.3l7-1.4l6 0.7l5-0.6l6 1.3l11-1.5l6 0.5l5-0.3l7 0l10-1.2l8-0.4l3-0.9l6-2.8l11-4l9-1.8l7 0.4l5-0.8l3-1.6l7-5.7l2-1l1 0l1 0.2l2 1.5l7 9.9l3 3.1l4 2.5l5 1.7l4 0.7l6-0.3l20 1.7l15-0.9l8 1.1l9.9-1.5"/><path d="M134.3 1853l5 0.4l5 1.2l2-0.3l3-1.2l2-0.3l11 0.8l23 0.4l8-0.5l16 0.1l9-1.4l6 0.1l2-0.9l2-1.4l2-2.1l2-2.7l3-6.1l5-14.3l2-4.9l1-1.6l1-1l1-0.2l1 0.5l1 1.2l5 10.1l2 3.2l6 5.4l5 7l2 2.3l2 1.7l3 1.8l9 2.2l4 0.2l5-1.1l4-1.3l12-5.5l2-0.2l5 1.6l2-0.2l2-1.7l1-1.7l2-5.7l3-15.7l4-27.8l1-3.6l1-0.3l1 3.1l1 5.8l3 22.3l2 12.1l2 8.2l1 2.7l2 3.5l2 1.5l2 0.2l2-0.7l2-1.8l2-3.5l5-13.3l1-1.2l1 0l1 1.1l3 5.5l2 2.5l2 0.7l3-0.5l2 0.5l3 3.1l5 7.2l2 0.6l2 1.1l4 3.9l2 1.1l2-0.5l3-2.5l2-1.1l2 0.5l3 2.3l2 0.9l2-0.6l3-2.4l2-0.9l2 0.5l3 2.6l2 1.1l2-0.3l4-3.1l1-0.3l1 0.2l1 0.6l3 2.8l2 1.2l2-0.4l3-2.4l2-1l2 0.5l3 2.1l2 0.5l2-1l3-2.6l2-0.8l2 0.7l3 2.4l2 0.9l2-0.5l4-2.9l2-0.4l1 0.3l5 2.8l2-0.1l3-1.3l2-0.3l2 0.8l3 1.8l2 0.4l2-0.5l4-1.8l2-0.2l6 1.5l7-1.7l7 1.4l7-0.4l6 0.6l8-0.9l8 1.2l7-1.3l5 0.8l9-0.5l6 0.5l5-1.9l2-0.2l2 0.5l3 1.5l2 0.6l2-0.2l4-2.1l2-0.3l2 0.7l3 2l2 0.3l2-0.8l3-2l2-0.4l4 1.7l2 0.6l2-0.5l3-1.5l2-0.3l2 0.8l3 2.2l2 0.7l2-0.4l4-2.8l2-0.5l2 0.9l3 2.3l1 0.4l1-0.1l1-0.4l3-2.9l2-1.3l1 0l1 0.5l3 3l2 1.2l1-0.1l1-0.5l3-2.9l2-1.1l1 0.1l1 0.6l3 3.1l2 1l2-0.8l3-2.3l2-0.7l2 0.7l3 2.2l2 0.6l2-0.8l3-2.7l2-1l2 0.5l3 2.2l2 0.9l2-0.2l3-1.7l2-0.5l2 0.4l3 1.8l2 0.7l2-0.3l3-1.4l2-0.4l2 0.6l3 1.5l2 0.3l2-0.7l3-1.9l2-0.6l2 0.4l3 1.5l2 0.4l2-0.4l3-1.4l2-0.5l6 1.6l2 0l6-0.7l6 1l7-1.7l10 1l6-0.5l6 0.1l7-0.9l3 0.5l4 1.9l2 0.3l5-1.6l2 0l4 1l2-0.2l6-3.4l2 0l3 1l2-0.3l2-1.8l4-5.8l2-2l1-0.6l4-0.8l1-0.5l2-1.9l4-4.8l1-0.6l1-0.2l2 1.2l3 3.5l2 1.6l1 0.4l4 0.3l1 0.5l2 2.2l3 5.1l2 2.5l1 0.6l1 0.1l4-1.5l1 0l2 1.1l3 3.3l2 1.3l1 0l1-0.3l3-2.4l2-0.8l2 1l3 3.3l2 1.1l1-0.1l1-0.5l3-2.8l2-1l2 0.6l3 2.4l2 0.9l2-0.4l3-1.9l2-0.8l2 0.1l4 1.4l1.9-0.3"/><path d="M134.3 1935.4l5 0.2l8-0.7l6 0.7l17 1.1l13-2.1l8 1.3l5 0.5l6-0.7l6 0l6-0.5l8-1.2l8-0.8l2-0.8l1-0.7l2-2.6l1-2l2-5.6l3-10.8l1-2.6l1-1l1 0.8l1 2.5l3 11.1l2 6l2 3.6l2 1.7l3 1.2l3 0.6l8 0.1l6 0.6l7-1.3l4 0l5 0.5l2-0.3l2-0.8l5-2.9l5-3.9l2-1.2l2-0.3l4 0.7l2-0.3l2-1.5l1-1.6l2-6.1l1-4.7l5-36.3l1-4l1 0.1l1 4.2l4 31.3l1 6.5l2 9.2l2 5l2 2.5l3 1.8l2 0.8l2 0.3l4-0.7l8-3.9l3-0.7l3-0.2l4 0.7l8 4.5l4 1.4l3 0.4l7 0.2l16 1.6l9-1l9 0.8l9-0.1l6-0.8l12 1.4l8-1l7 0.6l6-0.9l6 0.8l10-0.6l7 0l5-0.4l8 0.8l8-1l7 0.7l7-0.9l7 1.3l7 0.2l12-0.5l8 0.1l8-0.3l23 0.6l10-1.3l7 0.6l8-0.3l6 0.7l8 0l6 0.5l5-0.6l8-0.3l7 0.2l14-0.5l9 1.3l6-0.3l5 0.4l9-1.2l7 0.6l4-1.2l2-0.2l6 1l6-0.4l9 0.8l6-1l9 0.9l8-0.4l13 0.9l12 0l8-1.2l5 0.2l4-0.3l13 0.9l9-0.9l9 1.3l10-1l4-1.5l4-3.1l6-7.3l2-1l1 0l2 1.3l5 6.4l2 2l3 1.7l3 0.8l13 1l9-0.3l7 0.4l8-0.5l19 0.7l4.9-0.6"/><path d="M134.3 2018.2l4-0.8l6-0.2l6-0.6l8 0.8l15 0l7 0.7l12-0.7l7 0.1l13-2.5l4-2l5-4l2-1.1l2-0.3l5 1.3l2-0.7l1-0.9l1-1.3l2-3.9l5-14.6l1-2.1l1-1l1 0.3l1 1.6l5 15.2l2 4.9l3 4.6l3 2.6l4 1.9l6 1.4l3 0.3l3-0.2l5-1.1l7 0l3-0.9l9-3.9l6-4.1l2-0.3l5 0.2l2-0.5l2-1.8l1-1.6l2-5.5l1-4.2l2-11.2l4-27.3l1-4.2l1-1.3l1 1.8l1 4.5l4 28.4l2 11.8l2 7.8l1 2.6l2 3.3l1 0.9l2 1.1l5 1l3-0.5l7-3.1l4-0.1l4 1.1l10 5l5 1.3l14 0.9l11 0.2l6-0.3l8 0.9l8-1l6 0.7l14-0.5l7 0.7l8-0.1l6-0.8l6 0.9l11 0.3l7-0.1l5-0.5l6 0.5l5-0.3l6 0.9l2-0.1l7-1.4l6 1l7-0.8l6 0.7l9 0.3l9-1.2l5 0.1l6 1.1l8 0.3l2-0.2l5-1.3l8 0.1l6-0.7l2 0.1l6 1.4l2 0.2l7-1.4l3-0.1l5 0.2l5 0.9l10 0.4l7-0.7l6 0.4l6-0.3l7 0.5l7-0.4l7 1.5l2 0.1l12-2.2l4-0.1l7 0.5l6-0.9l5 0.3l6-1.3l7 1.6l5 0.3l5 0.8l7-0.6l9-0.2l6-0.6l9 1.1l9-1.1l11-0.7l7 1.7l2-0.3l7-2.3l11-0.3l14-4.3l14-1.9l3-1.6l8-6.7l3-1.1l2 0.2l2 1.2l2 2l6 7.5l3 2.6l3 1.3l9 2.2l10 0.5l6-1l5 0.9l6-0.2l5 1.1l7 0.9l2-0.1l7.9-1.6"/><path d="M134.3 2099.9l6-1.2l7 0.8l7 0.1l11-0.4l6 0.6l6-1.1l7 1.1l8 0.4l7-1l5-0.3l3-0.6l5-1.7l3-1.6l4-3.2l5-5l2-1.4l2 0l4 1.9l1 0l1-0.4l1-0.9l2-3.4l5-14l1-2l1-0.8l1 0.6l1 1.8l5 16.1l2 5.4l2 3.6l2 1.9l2 0.8l4 0.6l14 1.7l13-1.2l3-0.7l3-2.1l7-8.7l3-2.6l1-0.3l2 0.2l4 2.2l1 0.2l1-0.4l1-1l2-4.6l1-3.7l2-10.4l4-25.6l1-4l1-1.4l1 1.6l1 4.4l4 27.6l3 15.1l2 5.9l2 3.6l2 1.9l3 1.1l2-0.1l2-0.5l9-3.5l5-0.7l2 0.2l2 0.7l8 5.3l8 2.4l3 0.4l12-0.8l6 0.4l6-0.8l2 0.3l5 1.5l2 0.1l5-0.9l6 0.3l6-0.6l6 0.3l11-0.8l3 0.3l5 1.4l2 0.1l8-1.6l8 1.1l8-1.1l10-0.7l4 0.3l6 1.3l9 0.3l8 0l6-0.9l7 0.8l20-0.2l5-0.4l6 0.8l11-0.9l7 0.2l6-0.4l6 0.8l4 0.2l10-1l7 0.4l6-0.9l10 0l11 1.3l14-0.1l6-0.7l10 0.7l6 0l6 0.5l6-1.3l2-0.2l9 0.7l5-0.2l6 1.2l2 0.1l8-1.3l9 0.3l6-0.7l12 1l8-0.6l12 1.2l8-2.1l8 1.2l7-1.5l2-0.1l7 1.1l11-1.8l3-1.1l8-5.2l3-1.5l3-0.5l4 0.8l3 0.1l10-2.3l3-1.4l5-4.1l2-0.5l1 0.2l2 1.3l6 6.6l5 4.7l2 1.5l3 1.1l12 2.5l6 0l10 0.4l11-0.2l9-0.8l8.9 1.8"/><path d="M134.3 2181.9l8-0.8l7 0.9l6-1l5 0.3l6-0.9l7-0.2l11 1.1l7-1l21 0.9l11-1.5l8-0.4l2-0.8l1-0.8l2-3l2-5.2l3-10.5l1-2.8l1-1.5l1 0.2l1 1.9l4 12.8l2 4.8l2 2.9l3 2.1l3 1l3 0.5l10 0.5l8-0.1l6-1.4l6-0.6l4-0.9l3-1.6l7-4.8l2-0.5l4-0.1l2-0.7l2-2.3l1-2.1l2-6.8l1-4.9l5-35.3l1-4.7l1-1.6l1 2.1l1 5.1l4 30.4l3 15.9l1 3.3l2 4.2l2 2.1l3 1.2l2 0l2-0.4l12-4.8l3-0.6l2 0.4l2 0.9l7 4.6l2 0.9l6 1l6 1.8l3 0.4l13-0.1l6 0.5l9-1.3l7 1.1l11-0.1l8-1.3l8 0.9l8-0.3l13 0.1l10 1.2l15-2.4l7 1.2l8 0.2l6-0.4l5 0.6l8 0l6 0.5l5-0.5l6 0.2l7-0.8l12 0.8l8-0.4l11 0.6l9 0l8-1.3l8 1.1l6-0.7l4 0.4l6-0.2l6-0.8l7 0.9l9-0.5l6 0.6l7-0.6l7 0.3l7 1.2l5-0.9l8-0.5l6 0.8l7 0.4l13-1.1l14 0.7l8-0.6l7 0.8l2-0.3l6-1.6l2 0.3l4 1.5l3 0.3l16-0.8l8 0.6l6-0.6l5 0.3l6-0.2l11 0.2l2-0.1l6-1.3l8 0.5l6 0.8l6-0.9l3-1.3l4-3.3l6-6.8l2-1.1l1 0.1l2 1.5l5 6.8l3 3l3 1.8l2 0.5l9-0.8l7 1.3l3 0.1l7-1.2l10 0.3l6-0.7l19.9 0.1"/><path d="M134.3 2263.1l5 0.2l8-0.6l11 1.5l8-1.1l7 0.6l8-0.1l17-2l19 1.5l12-1.6l3-1.3l2-2.1l1-1.7l2-4.7l4-12.7l1-1.8l1-0.1l1 1.7l4 13l2 4.7l2 2.5l3 1.6l5 1.2l14 0.2l7 0.9l5-0.3l6 0.8l7-1.3l7-1.9l5-0.6l2-0.9l2-1.9l2-3.8l1-3l1-3.9l2-10.8l4-27.6l1-4.2l1-1.2l1 2.1l1 5l4 27.8l1 5.6l2 7.8l2 4.3l2 2.3l3 2l3 0.7l5-0.1l3-0.5l3-1.4l5-3.5l2-0.7l1 0l2 0.6l6 3.6l10 4.7l13 0.9l3-0.3l5-1l7 1l16 0.3l7-1.3l5 0.6l7-0.5l7 1.1l5-0.6l6 0.4l6-0.2l8 0.9l12-1.1l7 0.8l8 0.1l12-1l7-0.1l3 0.2l7 1.4l7-0.9l10 0.6l5-0.9l9-0.6l6 1.3l8 0.8l8-0.9l8 0.4l7-1.4l5 0.5l6-0.2l15 1.5l8-1.1l6-1.3l4-0.2l5 0.1l8 1l7-0.5l6 1.2l5-0.5l5 0.7l6-0.2l12 0.7l12-1l7 1l6-0.4l5 0.3l9-1.8l2 0.1l4 1.2l2 0.3l6-0.8l6 0.5l11-0.7l6 0.6l7 0.2l5-0.3l5 0.2l9-1.1l7 1l3 0.2l3-0.3l9-1.7l7 1.1l5 0.3l10-0.9l2-1l2-1.6l6-7l2-1.6l1-0.3l1 0.1l2 1.1l6 5.7l3 2.3l3 1.6l2 0.6l5 0.7l19 1.1l2 0l6-1.3l10 0.9l11-0.4l4 0.4l2.9 0.8"/></g>
<g><path d="M1332 1364.1l0-6.8l2-1.4l1.5-1.4l2.5-3.4l2.5-5.4l2-6.5l2-8.9l1.5-8.4l6-40.9l1.5-6.1l0.5-0.9l0.5-0.4l0.5 0.3l0.5 0.8l1.5 5.9l6 40.8l2 11l2 8.4l2 6l2.5 5l2.5 3.2l3 2.3l0 6.8z" fill="#808080"/><path d="M1107 1364.1l0-0.9l10-0.8l7-1.5l6-2.4l10-5.5l2-0.7l2-0.2l2 0.2l2 0.7l10 5.5l6 2.4l7 1.5l10 0.8l0 0.9z" fill="#0000ff"/><path d="M1215.2 1364.1l0-2.7l3.5-0.9l3-1.4l2.5-1.7l2.5-2.6l2.5-3.6l2-3.9l7-16.5l1.5-2.1l1-0.6l0.5 0l1.5 1.1l1.5 2.5l6.5 15.6l2 3.8l2 3.1l2.5 2.8l2.5 1.8l3 1.5l4.1 1.1l0 2.7z" fill="#0000ff"/><path d="M1757.1 1364.1l0-1.2l19.5-1.1l7.5-0.9l7-1.2l6-1.5l6-1.8l19.5-7.4l4.5-1.1l4-0.3l4 0.3l4.5 1.1l18.5 7l10 3l11 2l12.6 1.2l0 1.9z" fill="#0000ff"/><path d="M1250.8 1364.1l0-2.2l4.5-0.9l3.5-1.2l3-1.6l2.5-2.1l2.5-2.7l2-2.8l7.5-12.8l2-2.2l1.5-0.5l1.5 0.5l2 2.2l7.5 12.8l2 2.8l2.5 2.8l2.5 2l3 1.6l3.5 1.2l4.5 0.9l0 2.2z" fill="#ff00ff"/><path d="M1356.6 1364.1l0-5.2l6-1.9l5-2.7l4-3.4l4-5l3.5-6.1l3.5-7.9l3-8l6-17.7l2-5.1l1.5-3l1-1.5l1.5-1.3l1-0.2l1 0.4l1 0.8l1 1.4l1.5 2.9l2.5 6.4l5.5 16.2l3 8.2l3.5 8l3.5 6.2l4 5.1l4 3.5l2.5 1.5l2.5 1.2l6.3 2l0 5.2z" fill="#ff00ff"/><path d="M1474.4 1364.1l0-1.7l6-0.6l4.5-0.8l4-1.1l4-1.6l3.5-2l3-2.2l11-10.1l2.5-1.4l2-0.5l2 0.3l2.5 1.3l2.5 2l9 8.4l3 2.2l3.5 2l4 1.6l4 1.1l4.5 0.8l5.9 0.6l0 1.7z" fill="#00ffff"/><path d="M1566 1364.1l0-5.3l4.5-2.1l3.5-2.9l3-4l2.5-5l2.5-6.6l2-6.7l7.5-30.9l1-3.1l1-2.1l1-1.2l0.5-0.1l0.5 0.2l1 1.1l1 2.2l1 3.1l7.5 30.9l2 6.7l2.5 6.6l2.5 4.9l3 4l3.5 2.9l4.5 2.1l0 5.3z" fill="#00ffff"/><path d="M1296.5 1364.1l0-0.2l17-0.6l16-2l4-0.2l4 0.2l16 2l17 0.6l0 0.2z" fill="#ff0000"/><path d="M1432.8 1364.1l0-1.2l12-1l4.5-0.9l4-1.1l3.5-1.3l3.5-1.7l12-7.1l2.5-0.9l2.5-0.3l2.5 0.4l2.5 0.9l12 7.1l3.5 1.6l3.5 1.3l4 1.1l4.5 0.9l11.8 1l0 1.2z" fill="#ff0000"/><path d="M1580.5 1364.1l0-3.5l6-1.3l5-1.9l4-2.3l4-3.4l3.5-4.2l3.5-5.3l3-5.5l6-12.1l2-3.4l2.5-3.1l1.5-0.9l1-0.1l1 0.2l1 0.6l2.5 2.9l2.5 4.4l8.5 16.6l3.5 5.4l3.5 4.3l4 3.5l4 2.3l5 1.9l6.3 1.4l0 3.5z" fill="#ff0000"/><path d="M1115.1 1446.3l0-3l7-1.1l5.5-1.5l5-2.1l4.5-2.9l4-3.5l4-4.5l3.5-4.8l6.5-9.6l3-3.9l1.5-1.4l1.5-1.1l1.5-0.5l1-0.1l1 0.2l1.5 0.7l3 2.7l2.5 3.2l6.5 9.7l3.5 4.7l4 4.6l4 3.5l4.5 2.9l5 2.2l5.5 1.5l7.1 1.1l0 3z" fill="#0000ff"/><path d="M1191.6 1446.3l0-4.7l7-1.8l5.5-2.3l2.5-1.5l2.5-1.9l4.5-4.5l4-5.6l4-7.1l3.5-7.4l6.5-15.2l3-6.1l1.5-2.3l1.5-1.6l1.5-0.9l1-0.1l1 0.3l1.5 1.1l1.5 1.8l1.5 2.4l2.5 5.1l6.5 15.2l3.5 7.5l4 7.2l4 5.6l4.5 4.5l2.5 1.9l2.5 1.5l5.5 2.4l7.1 1.8l0 4.7z" fill="#0000ff"/><path d="M1748.3 1446.3l0-1.8l8-0.6l6.5-0.9l6-1.4l5-1.6l4.5-2.1l4.5-2.6l12-8.8l3-1.9l3-1.3l3-0.5l3 0.5l3.5 1.5l14.5 10.5l4.5 2.6l4.5 2l5 1.7l6 1.4l6.5 0.9l8 0.6l0 1.8z" fill="#0000ff"/><path d="M1290.1 1446.3l0-1.3l12-0.5l10-0.7l8.5-0.9l7.5-1.3l7-1.5l6.5-1.9l22.5-8l5-1.1l4.5-0.3l4.5 0.4l5 1.1l22 7.9l6.5 1.8l7 1.6l7.5 1.3l8.5 0.9l10 0.7l12.1 0.5l0 1.3z" fill="#ff00ff"/><path d="M1209.8 1528.4l0-2.3l4.5-0.9l3.5-1.2l3-1.7l2.5-2.2l2.5-2.8l2-2.9l7.5-13.2l2-2.3l1.5-0.5l1.5 0.6l2 2.2l7.5 13.3l2 2.8l2.5 2.9l2.5 2.1l3 1.7l3.5 1.2l4.5 0.9l0 2.3z" fill="#808080"/><path d="M1327.1 1528.4l0-4.9l3.5-1.7l3-2.4l2.5-3.2l2.5-4.6l2.5-6.8l2-6.9l7-30.1l1.5-3.8l1-1.1l0.5 0l0.5 0.4l1 1.6l1.5 4.6l6.5 28.3l2 7l2 5.5l2.5 5.1l2.5 3.4l3 2.7l4.1 2l0 4.9z" fill="#808080"/><path d="M1365 1528.4l0-1.9l4.5-0.8l3.5-1.1l3-1.4l2.5-1.8l2.5-2.4l2-2.5l7.5-11.2l2-1.9l1.5-0.5l1.5 0.5l2 1.9l7.5 11.3l2 2.4l2.5 2.4l2.5 1.8l3 1.5l3.5 1l4.5 0.8l0 1.9z" fill="#ff00ff"/><path d="M1483.5 1528.4l0-1l10.5-0.9l4-0.7l4-1l6.5-2.6l11-6.3l2.5-0.9l2-0.3l2 0.2l2.5 0.8l11.5 6.5l6.5 2.6l4 1l4 0.7l10.4 0.9l0 1z" fill="#00ffff"/><path d="M1564.8 1528.4l0-2.3l4.5-1l3.5-1.3l3-1.8l2.5-2.1l2.5-3l2-3l7.5-13.6l2-2.3l1.5-0.6l1.5 0.6l2 2.3l7.5 13.7l2 3l2.5 2.9l2.5 2.2l3 1.7l3.5 1.3l4.5 1l0 2.3z" fill="#00ffff"/><path d="M1268.9 1528.4l0-0.3l12-0.3l9-0.5l7.5-0.7l12.5-1.9l5.5-0.3l5 0.3l12.5 1.9l7.5 0.7l9 0.5l12.1 0.3l0 0.3z" fill="#ff0000"/><path d="M1437.7 1528.4l0-0.5l12-0.5l9-0.8l7.5-1.4l12.5-3.2l3-0.5l2.5-0.1l5 0.6l12.5 3.2l7.5 1.3l9 0.9l12.1 0.5l0 0.5z" fill="#ff0000"/><path d="M1578.4 1528.4l0-2.9l6.5-1l5.5-1.5l4.5-2l4-2.7l4-3.6l3.5-4l3.5-4.9l6-9l2.5-3.3l2.5-2.2l1.5-0.7l1-0.2l1 0.1l1.5 0.7l2.5 2.1l2.5 3.2l9.5 14l3.5 4.1l4 3.6l4 2.7l4.5 2l5.5 1.6l6.7 1l0 2.9z" fill="#ff0000"/><path d="M1270.5 1610.3l0-0.8l14.5-0.8l11-1.4l9-2.1l15-5.1l3-0.6l3-0.2l3 0.2l3.5 0.8l14.5 4.8l9 2.2l11 1.4l14.5 0.8l0 0.8z" fill="#808080"/><path d="M1140.1 1610.3l0-3.1l5-1.1l4-1.5l3.5-2l3.5-3l3-3.7l3-4.7l7.5-15.1l2-3.5l2-2.5l1-0.6l1-0.2l1 0.3l1 0.7l2 2.5l9.5 18.7l2.5 3.9l3 3.8l3.5 3.2l3.5 2.1l4 1.5l5.3 1.2l0 3.1z" fill="#0000ff"/><path d="M1222.5 1610.3l0-5l4.5-1.8l4-2.7l3.5-3.9l3-5l2.5-5.7l2.5-7.1l8.5-30.1l2-4.4l1-1.1l0.5-0.2l1 0.3l1 1.1l2 4.6l8.5 30.1l2.5 7.1l2.5 5.6l3 4.9l3.5 3.9l4 2.6l4.4 1.8l0 5z" fill="#0000ff"/><path d="M1762.2 1610.3l0-1.5l7.5-0.6l6-0.8l5.5-1.1l4.5-1.4l4.5-1.9l4-2.1l14-9.4l3-1.3l3-0.4l2.5 0.4l3 1.2l3 1.8l11 7.6l4 2.1l4.5 1.9l4.5 1.4l5.5 1.2l6 0.8l7.6 0.6l0 1.5z" fill="#0000ff"/><path d="M1336.1 1610.3l0-2.7l6-1l5-1.5l4-1.8l4-2.6l3.5-3.3l3.5-4.1l3-4.3l6-9.3l2-2.7l2.5-2.4l1.5-0.7l1-0.1l2 0.7l2.5 2.2l2.5 3.4l8.5 12.9l3.5 4.2l3.5 3.3l4 2.7l4 1.8l5 1.5l6.3 1.1l0 2.7z" fill="#ff00ff"/><path d="M1273.6 1692l0-0.3l10-0.4l7-0.5l6-0.9l10-2.1l4-0.4l4 0.3l10 2.1l6 1l7 0.5l10 0.4l0 0.3z" fill="#808080"/><path d="M1121.5 1692l0-2.7l6-1l5-1.4l4-1.8l4-2.6l3.5-3.2l3.5-4.1l3-4.2l6-9.2l2-2.7l2.5-2.3l1.5-0.7l1-0.1l2 0.6l2.5 2.3l2.5 3.3l8.5 12.7l3.5 4.2l3.5 3.2l4 2.7l4 1.8l5 1.5l6.3 1l0 2.7z" fill="#0000ff"/><path d="M1200.2 1692l0-4.2l5.5-1.6l4.5-2.1l4-3l3.5-4l3.5-5.4l3-6l3-7.2l5-13.2l2.5-5.6l2-3l1-0.9l1-0.3l1 0.2l1 0.7l1 1.2l1.5 2.6l2 4.4l5.5 14.4l3 7.1l3 6l3 4.7l3.5 4l4 3.1l4.5 2.2l5.7 1.7l0 4.2z" fill="#0000ff"/><path d="M1750.5 1692l0-1.4l8-0.5l6.5-0.6l6-1.1l5-1.2l4.5-1.6l4.5-2l12-6.7l3-1.5l3-1l3-0.4l3 0.4l3.5 1.2l14.5 8l4.5 2l4.5 1.5l5 1.3l6 1l6.5 0.7l8 0.5l0 1.4z" fill="#0000ff"/><path d="M1312.8 1692l0-1.1l12.5-0.9l5-0.8l4.5-1.1l4-1.3l4-1.6l12.5-6.4l3-1l2.5-0.3l2.5 0.2l3 1l13 6.6l4 1.6l4 1.3l4.5 1l4.5 0.7l12.7 1l0 1.1z" fill="#ff00ff"/><path d="M1564.2 1692l0-0.3l8-0.2l5.5-0.4l5-0.7l7.5-1.6l3.5-0.3l3.5 0.3l8 1.6l4.5 0.6l6 0.5l7.7 0.2l0 0.3z" fill="#00ffff"/><path d="M1464.8 1692l0-0.5l15.5-0.5l11.5-0.9l9.5-1.3l16-3.2l6.5-0.6l7 0.6l16 3.2l9.5 1.3l11.5 0.9l15.4 0.5l0 0.5z" fill="#ff0000"/><path d="M1582.8 1692l0-0.9l10.5-0.8l8-1.5l6.5-2.3l11-5.5l2.5-0.8l2-0.2l2 0.2l2.5 0.7l11.5 5.7l6.5 2.2l8 1.5l10.4 0.8l0 0.9z" fill="#ff0000"/><path d="M1269.5 1774.6l0-1.1l14.5-1l6-0.9l5-1l4.5-1.3l4.5-1.7l15-6.8l3-0.9l3-0.3l3 0.3l3.5 1l14.5 6.7l4.5 1.6l4.5 1.3l5 1.1l6 0.9l14.5 1l0 1.1z" fill="#808080"/><path d="M1122.9 1774.6l0-2.6l6.5-0.9l5.5-1.4l4.5-1.8l4-2.3l4-3.2l3.5-3.7l3.5-4.3l6-8.1l2.5-2.9l2.5-2l1.5-0.7l1-0.1l1 0.1l1.5 0.6l2.5 1.9l2.5 2.9l9.5 12.5l3.5 3.6l4 3.3l4 2.4l4.5 1.8l5.5 1.4l6.7 0.9l0 2.6z" fill="#0000ff"/><path d="M1207 1774.6l0-4.4l5.5-1.6l4.5-2.3l4-3.1l3.5-4.1l3.5-5.7l3-6.3l3-7.5l5-13.7l2.5-5.9l2-3.2l1-0.8l1-0.4l1 0.2l1 0.7l1 1.3l1.5 2.7l2 4.6l5.5 15.1l3 7.4l3 6.2l3 4.9l3.5 4.2l4 3.3l4.5 2.2l5.7 1.8l0 4.4z" fill="#0000ff"/><path d="M1750.3 1774.6l0-1.3l15.5-1.1l6-0.9l5.5-1.2l5-1.5l4.5-1.8l16-7.8l3.5-1l3-0.4l3.5 0.4l3.5 1l16 7.8l4.5 1.8l5 1.5l5.5 1.2l6 0.9l15.4 1.1l0 1.3z" fill="#0000ff"/><path d="M1299.3 1774.6l0-1.5l11-0.6l8.5-0.8l7.5-1.1l7-1.5l6-1.8l6-2.3l19.5-9.1l4.5-1.4l4-0.4l4 0.4l4.5 1.3l4 1.7l15.5 7.5l6 2.3l6 1.8l7 1.5l7.5 1.1l9 0.8l10.7 0.6l0 1.5z" fill="#ff00ff"/><path d="M1318.7 1856.6l0-1.5l6.5-0.6l5.5-0.8l4.5-1.1l4-1.4l3.5-1.7l3.5-2.2l12-9.1l2.5-1.2l2.5-0.4l2.5 0.5l2.5 1.2l12 9.1l3.5 2.2l3.5 1.6l4 1.4l4.5 1.1l5.5 0.8l6.3 0.6l0 1.5z" fill="#808080"/><path d="M1108.7 1856.6l0-1.4l8-0.7l6-0.9l5-1.4l5-2.1l4-2.3l4.5-3.4l4-3.5l8-7.8l3-2.5l3.5-2.2l2-0.6l1.5-0.2l1.5 0.1l2 0.5l3.5 2l3.5 2.9l8 7.8l4 3.6l4.5 3.3l4 2.3l5 2.1l5 1.4l6 0.9l7.9 0.7l0 1.4z" fill="#0000ff"/><path d="M1196.9 1856.6l0-4.5l6-1.7l5-2.3l4-3l4-4.3l3.5-5.3l3.5-6.9l3-7l6-15.4l2-4.4l2.5-3.9l1.5-1.1l1-0.2l1 0.3l1 0.8l1 1.2l1.5 2.5l2.5 5.5l5.5 14.2l3 7l3.5 7l3.5 5.4l4 4.4l4 3.1l5 2.4l6.3 1.7l0 4.5z" fill="#0000ff"/><path d="M1729.4 1856.6l0-1.3l20.5-1.1l8-0.9l7-1.2l6.5-1.5l6-1.8l21-7.8l4.5-1l4.5-0.4l4 0.3l4.5 1.1l21 7.8l6 1.8l6.5 1.5l7 1.2l8 0.9l9 0.6l11.6 0.5l0 1.3z" fill="#0000ff"/><path d="M1346.7 1856.6l0-1.1l13.5-1l5.5-0.8l4.5-1.1l4.5-1.3l4-1.6l14-6.9l3-0.9l3-0.3l2.5 0.3l3 0.9l14 6.8l4 1.6l4.5 1.4l4.5 1l5.5 0.9l13.6 1l0 1.1z" fill="#ff00ff"/><path d="M1549.3 1856.6l0-1.1l10.5-0.9l4-0.7l4-1l3.5-1.3l3-1.4l11-6.4l2.5-0.9l2-0.3l2 0.2l2.5 0.8l11.5 6.6l3 1.4l3.5 1.3l4 1.1l4 0.6l10.4 0.9l0 1.1z" fill="#00ffff"/><path d="M1462.8 1856.6l0-1.7l8.5-0.6l7-0.8l6-1.2l5.5-1.5l5-2l4.5-2.3l16-10.1l3.5-1.3l3-0.5l3.5 0.5l3.5 1.3l16 10.1l4.5 2.3l5 2l5.5 1.5l6 1.2l7 0.8l8.4 0.6l0 1.7z" fill="#ff0000"/><path d="M1587.2 1856.6l0-3.6l5.5-1.3l4.5-1.8l4-2.6l3.5-3.3l3.5-4.7l3-5.1l3-6.1l5-11.1l2.5-4.8l2-2.6l1-0.7l1-0.3l1 0.2l1 0.6l1 1l1.5 2.2l2 3.8l5.5 12.2l3 6l3 5.1l3 4l3.5 3.4l4 2.6l4.5 1.9l5.7 1.4l0 3.6z" fill="#ff0000"/><path d="M1210.9 1938.8l0-2.3l4.5-0.9l3.5-1.2l3-1.7l2.5-2.2l2.5-2.8l2-2.9l7.5-13.2l2-2.3l1.5-0.5l1.5 0.6l2 2.2l7.5 13.3l2 2.8l2.5 2.9l2.5 2.1l3 1.7l3.5 1.2l4.5 0.9l0 2.3z" fill="#808080"/><path d="M1330.9 1938.8l0-5.1l3.5-1.9l3-2.8l2.5-3.8l2-4.4l2-6l2-7.7l6.5-31l1.5-4.2l1-1.1l0.5 0.1l1 1.4l1.5 4.6l6.5 31l2 7.6l2 5.8l2 4.2l2.5 3.7l3 2.7l3.3 1.8l0 5.1z" fill="#808080"/><path d="M1346.7 1938.8l0-0.9l13.5-0.9l10-1.5l8.5-2.5l14-5.7l3-0.7l3-0.3l2.5 0.2l3 0.8l14 5.7l8.5 2.5l10 1.5l13.6 0.9l0 0.9z" fill="#ff00ff"/><path d="M1460.5 1938.8l0-0.4l14-0.7l5-0.5l5-0.9l8.5-2.3l15.5-5.9l4-1l3.5-0.3l3.5 0.3l4 0.9l15.5 5.9l8.5 2.4l5 0.9l5 0.5l14 0.7l0 0.4z" fill="#00ffff"/><path d="M1564.8 1938.8l0-4.3l4.5-1.7l3.5-2.4l3-3.3l2.5-4l2.5-5.4l2-5.5l7.5-25.1l1-2.5l1-1.8l1-0.9l0.5-0.1l0.5 0.1l1 1l2 4.3l7.5 25.1l2 5.5l2.5 5.4l2.5 4l3 3.2l3.5 2.4l4.5 1.7l0 4.3z" fill="#00ffff"/><path d="M1268 1938.8l0-0.3l10-0.3l7-0.5l6-0.8l10-1.8l4-0.3l4 0.3l10 1.8l6 0.8l7 0.5l10 0.3l0 0.3z" fill="#ff0000"/><path d="M1431.4 1938.8l0-0.8l12.5-0.7l9.5-1.4l8-2.3l12.5-4.8l3-0.8l2.5-0.2l2.5 0.2l3 0.7l13 5l8 2.2l9 1.3l12.7 0.8l0 0.8z" fill="#ff0000"/><path d="M1583.8 1938.8l0-2.6l5.5-0.9l4.5-1.3l4-1.8l3.5-2.3l3.5-3.3l3-3.7l8-12.2l2.5-3.4l2-1.8l2-0.7l1 0.1l1 0.4l2.5 2.3l2 2.7l5.5 8.7l3 4.2l3 3.6l3 2.8l3.5 2.5l4 1.8l4.5 1.4l5.7 0.9l0 2.6z" fill="#ff0000"/><path d="M1263 2020.5l0-0.6l15.5-0.8l6-0.8l5.5-1.1l5-1.4l5-1.8l17.5-7.9l4.5-1.2l4-0.4l4 0.4l4.5 1.3l17.5 7.8l5 1.9l4.5 1.2l5.5 1.2l6 0.8l16 0.8l0 0.6z" fill="#808080"/><path d="M1121.1 2020.5l0-2.7l7.5-1l6-1.4l5.5-2l4.5-2.5l4.5-3.3l4-3.9l3.5-4l7.5-9.3l2.5-2.7l3-2.4l1.5-0.6l1.5-0.2l1.5 0.2l1.5 0.6l3 2.3l2.5 2.7l7.5 9.4l3.5 4l4 3.8l4.5 3.4l4.5 2.5l5.5 2l6 1.4l7.5 1l0 2.7z" fill="#0000ff"/><path d="M1163 2020.5l0-0.8l10-0.6l7-1.3l6-2l10-4.5l2-0.6l2-0.2l2 0.2l2 0.5l10 4.6l6 2l7 1.2l10 0.7l0 0.8z" fill="#0000ff"/><path d="M1208.1 2020.5l0-4.8l5.5-1.8l4.5-2.4l4-3.4l3.5-4.4l3.5-6.2l3-6.8l3-8.2l5-14.9l2.5-6.3l2-3.5l1-0.9l1-0.4l1 0.2l1 0.8l1 1.4l1.5 2.9l2 5.1l5.5 16.2l3 8.1l3 6.7l3 5.3l3.5 4.6l4 3.5l4.5 2.5l5.7 1.9l0 4.8z" fill="#0000ff"/><path d="M1736.8 2020.5l0-0.9l10-0.4l8-0.7l7-1l6-1.3l5.5-1.6l5.5-2.2l15-7.2l4.5-1.9l4.5-1.3l4.5-0.5l4.5 0.5l4.5 1.4l4 1.7l15.5 7.5l5.5 2.1l5.5 1.6l6 1.3l7 0.9l8 0.7l9.8 0.4l0 0.9z" fill="#0000ff"/><path d="M1311.3 2020.5l0-0.9l9.5-0.4l7.5-0.8l6.5-1.2l5.5-1.5l5-2l5-2.5l14.5-9l4.5-2.5l4.5-1.7l4-0.5l2 0.1l2.5 0.5l4.5 1.7l4.5 2.5l14.5 9.1l5 2.4l5 2l5.5 1.5l6.5 1.1l7.5 0.8l9.4 0.4l0 0.9z" fill="#ff00ff"/><path d="M1558.8 2020.5l0-0.6l10.5-0.5l8-1l6.5-1.5l11-3.7l4.5-0.7l2 0.1l2.5 0.5l11.5 3.8l6.5 1.5l8 1l10.4 0.5l0 0.6z" fill="#00ffff"/><path d="M1325.2 2102.6l0-2.7l4.5-0.9l4-1.5l3.5-2l3-2.7l2.5-3l2.5-3.8l8.5-15.9l2-2.3l1.5-0.7l1 0.2l1 0.6l2 2.4l8.5 15.9l2.5 3.8l2.5 2.9l3 2.7l3.5 2l4 1.4l4.4 0.9l0 2.7z" fill="#808080"/><path d="M1126.1 2102.6l0-3.3l6.5-1.2l5-1.4l4.5-2l4-2.5l3.5-2.9l3.5-3.8l3-3.9l5.5-8l2-2.4l2.5-2.1l2-0.5l2 0.7l2 1.6l2.5 3.1l8 11.2l3.5 3.9l3.5 3l4 2.5l4.5 2l5.5 1.6l6.3 1.1l0 3.3z" fill="#0000ff"/><path d="M1206.3 2102.6l0-6.5l5.5-2.2l4.5-2.9l4-3.8l3.5-4.7l3.5-6.6l3-7.3l9-27.5l2-4l1-1.1l1-0.4l1 0.3l1 1.1l2 3.9l9.5 28.9l3 7l3 5.6l3.5 4.8l4 3.8l4.5 2.9l5.5 2.2l0 6.5z" fill="#0000ff"/><path d="M1750.3 2102.6l0-1.4l8.5-0.6l7-0.7l6-1l5.5-1.3l5-1.8l4.5-1.9l16-8.7l3.5-1.2l3-0.4l3.5 0.4l3.5 1.2l16 8.7l4.5 1.9l5 1.8l5.5 1.3l6 1l7 0.7l8.4 0.6l0 1.4z" fill="#0000ff"/><path d="M1459.5 2102.6l0-0.5l14.5-0.5l11-0.9l9-1.4l15-3.2l6-0.5l6.5 0.6l14.5 3.1l9 1.4l11 0.9l14.5 0.5l0 0.5z" fill="#00ffff"/><path d="M1564.8 2102.6l0-2.5l4.5-1l3.5-1.4l3-1.9l2.5-2.3l2.5-3.1l2-3.2l7.5-14.6l2-2.4l1.5-0.6l1.5 0.6l2 2.5l7.5 14.6l2 3.1l2.5 3.2l2.5 2.3l3 1.9l3.5 1.3l4.5 1l0 2.5z" fill="#00ffff"/><path d="M1282.8 2102.6l0-0.4l10-0.3l7-0.6l6-1l10-2.3l4-0.4l4 0.4l10 2.3l6 0.9l7 0.7l10 0.3l0 0.4z" fill="#ff0000"/><path d="M1435.2 2102.6l0-0.6l13.5-0.5l10-1l8.5-1.6l14-3.6l3-0.5l3-0.2l5.5 0.6l14 3.7l8.5 1.6l10 1l13.6 0.5l0 0.6z" fill="#ff0000"/><path d="M1569.4 2102.6l0-1.4l7.5-0.6l6-0.7l5.5-1l4.5-1.3l4.5-1.8l4-1.9l14-8.7l3-1.2l3-0.4l2.5 0.3l3 1.2l3 1.7l11 7l4 2l4.5 1.7l4.5 1.3l5.5 1.1l6 0.7l7.6 0.6l0 1.4z" fill="#ff0000"/><path d="M1318.8 2185.2l0-2.5l5.5-0.9l4.5-1.3l4-1.8l3.5-2.3l3.5-3.2l3-3.6l8-12.1l2.5-3.3l2-1.8l2-0.7l2 0.5l2.5 2.3l2 2.6l5.5 8.5l3 4.3l3 3.5l3 2.8l3.5 2.4l4 1.8l4.5 1.3l5.7 1l0 2.5z" fill="#808080"/><path d="M1122.9 2185.2l0-3.1l7-1.2l5.5-1.4l4.5-1.7l4.5-2.5l4-3l3.5-3.4l3-3.4l6-7.7l2.5-2.8l2.5-1.8l2-0.5l2 0.4l2.5 1.8l2.5 2.7l6 7.7l3 3.5l3.5 3.4l4 3l4.5 2.5l4.5 1.7l5.5 1.5l7.2 1.2l0 3.1z" fill="#0000ff"/><path d="M1209.1 2185.2l0-6.3l5.5-2.3l4.5-3l3.5-3.5l3.5-5l3-5.8l3-7.5l7-22.3l2-5.5l1-2.1l1-1.4l1-0.7l0.5-0.1l0.5 0.1l1 0.9l2 3.7l2 5.6l4.5 14.8l2.5 7.5l3 7.3l3 5.8l3.5 4.9l3.5 3.4l4.5 2.9l5.3 2.3l0 6.3z" fill="#0000ff"/><path d="M1744.2 2185.2l0-1.5l9-0.5l7.5-0.8l6.5-1l6-1.5l5-1.6l5-2.1l13.5-7.3l3.5-1.7l3.5-1.1l3.5-0.4l3.5 0.4l3.5 1.2l17 8.9l5 2.1l5 1.7l5.5 1.3l6.5 1.1l7.5 0.8l9.5 0.5l0 1.5z" fill="#0000ff"/><path d="M1341.9 2185.2l0-1.1l14.5-1l6-0.9l5-1l4.5-1.3l4.5-1.7l15-6.8l3-0.9l3-0.3l3 0.3l3.5 1l14.5 6.7l4.5 1.6l4.5 1.3l5 1.1l6 0.9l14.5 1l0 1.1z" fill="#ff00ff"/><path d="M1485.4 2185.2l0-0.3l8-0.3l5.5-0.5l5-0.8l7.5-1.7l3.5-0.4l3.5 0.3l8 1.9l4.5 0.7l6 0.5l7.7 0.3l0 0.3z" fill="#00ffff"/><path d="M1560.5 2185.2l0-1.7l4.5-0.6l4-0.9l3.5-1.2l3-1.6l3-2.2l2.5-2.3l9-10.5l2-1.5l2-0.5l1.5 0.4l2 1.4l9 10.5l2.5 2.4l3 2.2l3 1.6l3.5 1.3l4 0.9l4.6 0.6l0 1.7z" fill="#00ffff"/><path d="M1462.1 2185.2l0-0.3l7-0.3l5-0.5l4-0.7l7-1.9l3-0.3l3 0.4l6.5 1.7l4.5 0.8l5 0.5l6.8 0.3l0 0.3z" fill="#ff0000"/><path d="M1579.3 2185.2l0-1.3l10.5-1.1l4-0.8l4-1.3l3.5-1.5l3-1.7l11-7.8l2.5-1.1l2-0.4l2 0.2l2.5 1l11.5 8.1l3 1.7l3.5 1.5l4 1.3l4 0.8l10.4 1.1l0 1.3z" fill="#ff0000"/><path d="M1330.9 2267.3l0-4.5l3.5-1.7l3-2.5l2.5-3.3l2-3.9l2-5.3l2-6.8l6.5-27.3l1.5-3.8l1-0.9l0.5 0.1l1 1.2l1.5 4.1l6.5 27.4l2 6.6l2 5.1l2 3.8l2.5 3.2l3 2.4l3.3 1.6l0 4.5z" fill="#808080"/><path d="M1089.3 2267.3l0-1.3l14.5-0.7l12.5-1l12.5-1.5l24.5-3.7l6-0.6l6-0.2l5.5 0.2l6 0.6l27 4l16.5 1.8l19.5 1.1l27 0.6l0 0.7z" fill="#0000ff"/><path d="M1208.2 2267.3l0-3.5l4.5-1.2l4-1.8l3.5-2.7l3-3.5l2.5-3.8l2.5-4.9l8.5-20.7l2-3l1.5-0.9l1 0.2l1 0.8l2 3.1l8.5 20.7l2.5 4.8l2.5 3.9l3 3.4l3.5 2.6l4 1.9l4.4 1.1l0 3.5z" fill="#0000ff"/><path d="M1684.4 2267.3l0-0.8l34.5-0.8l25-1.4l21-2.1l34.5-5l7.5-0.7l6.5-0.2l7 0.2l7.5 0.6l38 5.4l12.5 1.4l13.3 1l0 2.4z" fill="#0000ff"/><path d="M1351.8 2267.3l0-1.6l6.5-0.6l5.5-0.8l4.5-1.2l4-1.5l3.5-1.8l3.5-2.2l12-9.6l2.5-1.3l2.5-0.4l2.5 0.5l2.5 1.3l12 9.6l3.5 2.2l3.5 1.8l4 1.5l4.5 1.1l5.5 0.8l6.3 0.6l0 1.6z" fill="#ff00ff"/><path d="M1472.6 2267.3l0-1.4l6.5-0.6l5.5-0.8l4.5-1l4-1.3l3.5-1.7l3.5-2l12-8.7l2.5-1.1l2.5-0.4l2.5 0.4l2.5 1.2l12 8.7l3.5 2l3.5 1.6l4 1.3l4.5 1.1l5.5 0.7l6.3 0.6l0 1.4z" fill="#00ffff"/><path d="M1564.8 2267.3l0-5l4.5-2.1l3.5-2.8l3-3.8l2.5-4.7l2.5-6.4l2-6.4l7.5-29.6l1-2.9l1-2.1l1-1.1l0.5-0.1l0.5 0.2l1 1.1l1 2.1l1 2.9l7.5 29.6l2 6.4l2.5 6.4l2.5 4.6l3 3.9l3.5 2.7l4.5 2.1l0 5z" fill="#00ffff"/><path d="M1278.2 2267.3l0-0.3l7-0.2l5.5-0.5l4.5-0.8l7.5-1.8l3.5-0.4l3 0.3l7.5 1.9l4.5 0.8l5.5 0.4l7.1 0.3l0 0.3z" fill="#ff0000"/><path d="M1445.6 2267.3l0-1l12-0.9l4.5-0.7l4-0.9l7-2.5l12-6l2.5-0.7l2.5-0.3l2.5 0.3l2.5 0.8l12 5.9l7 2.5l4 0.9l4.5 0.7l11.8 0.9l0 1z" fill="#ff0000"/><path d="M1582.7 2267.3l0-2.9l6-1l5-1.5l4-1.9l4-2.7l3.5-3.4l3.5-4.3l3-4.5l6-9.7l2-2.8l2.5-2.5l1.5-0.7l1-0.1l2 0.7l2.5 2.3l2.5 3.5l8.5 13.5l3.5 4.4l3.5 3.4l4 2.8l4 1.9l5 1.5l6.3 1.1l0 2.9z" fill="#ff0000"/></g>
<line x1="1169.0" y1="1258.8" x2="1169.0" y2="2290.0" stroke="#000" stroke-width="3" stroke-dasharray="12.4 12.93"/>
<line x1="1237.1" y1="1258.8" x2="1237.1" y2="2290.0" stroke="#000" stroke-width="3" stroke-dasharray="12.4 12.93"/>
<line x1="1806.2" y1="1258.8" x2="1806.2" y2="2290.0" stroke="#000" stroke-width="3" stroke-dasharray="12.4 12.93"/>
<g fill="none" stroke="#000" stroke-width="4.5" stroke-linejoin="round" stroke-linecap="round"><path d="M1089.3 1363l4-0.4l6 1.3l9 0l3-0.6l5-1.8l6-0.2l2-0.4l2-0.6l3-1.5l10-7.4l3-0.7l7 1.9l7 3.2l9 3.1l8 1.9l5 0.2l3-0.7l3-1.5l6-5.1l5-5l2-1.3l1-0.2l1 0.1l2 1l5 4.4l4 2.6l6 2.1l3 0.1l2-0.8l4-2.8l2-1.7l2-2.6l3-6.1l6-15.9l1-1.8l1-1.1l1-0.3l1 0.7l1 1.5l6 14.3l4 7.7l2 2.7l1 0.9l2 1l2 0.2l2-0.4l2-0.9l2-1.5l3-3.9l6-10.5l2-3.1l2-1.6l1-0.1l1 0.5l2 2.3l6 10.6l1 1.1l2 1.5l2 0.6l5-0.4l2 0.3l2 1.4l5 4.6l2 1.3l2 0.6l2 0.2l6-0.3l3-0.7l6-2.8l4-2.6l2-1.7l3-4.4l2-4.7l3-10.4l2-9.6l2-12.2l4-28.7l2-9.7l1-1.6l1 0.9l1 3.2l1 5l5 33.1l3 15.7l2 7.3l2 4.6l1 1.4l1 0.8l1 0.2l2-1.1l3-3.5l3-4.6l5-9.5l8-21.5l2-4.6l2-2.8l1-0.5l1 0.2l2 2.3l2 4.2l10 29.2l5 12.3l3 5.8l3 3.9l4 3.1l3 1.1l10 2.2l14 0.4l3-0.6l3-2.3l13-12.7l2-1.2l1-0.3l2 0.2l2 0.9l6 5.2l3 1.8l3 0.7l4 0.1l2-0.3l2-0.9l7-5.8l3-2l2-0.9l2-0.2l2 0.5l2 1.3l9 8.5l8 6.1l2 1.1l7 2.6l2 0.4l5-0.6l5-0.2l8-1.7l4-1.3l3-2l3-3.5l3-5.1l2-4.7l4-13.7l6-26.8l2-7.7l2-4.7l1-0.9l1 0.1l1 1.2l1 1.9l6 18l2 4.4l2 2.9l2 1.4l2 0.2l3-1.3l3-2.5l2-1.2l2 0.1l1 0.6l3 3.8l7 12.8l2 3l10 10.8l8 10.8l3 2.8l2 1.3l11 4.2l15 1.8l6-0.5l9 0.4l6-0.6l6 1.5l2 0l6-1.6l5 0.7l2-0.1l5-1.1l5-0.6l7-2l7-0.1l6 0.6l5-0.6l12-0.7l4-0.5l6 0.5l7-1.3l9 0.1l9-2.7l6-3.1l3-1.3l7-1.3l3-0.3l3 0.2l8 1.7l5 1.5l4 0.8l6 2.2l7 1.8l7 2.6l19 3.6l3 0.3l2.4-0.5"/><path d="M1089.3 1442.2l5 1.9l3 0.5l15-0.6l4-1l6-3.2l5-0.9l6-2.6l3-1.9l7-6l2-2.5l6-9.9l6-8.7l3-3.1l3-1.1l2 0.3l1 0.5l2 1.7l2 2.7l5 8.7l3 4.4l3 3.2l4 2.8l5 1.8l5 2.5l2 0.3l3-0.3l10-2.8l2-0.9l2-1.5l3-3.7l5-9.3l7-16.3l4-8l2-3.3l2-2.6l1-0.9l2-0.8l1 0.2l2 1.2l3 4.1l11 25.7l5 9.4l3 4.5l3 2.8l5 3.7l2 1.1l3 0.9l10 2.3l8-0.1l9-1.2l8 0.4l2-0.4l5-1.7l2-0.3l7 0.9l6-1l5-0.3l3-0.7l5-2l7-0.8l6-2.6l5-1.1l5 0.8l5-0.5l2 0.3l7 3.7l5 1.7l7 3.1l8 2.4l3 0.5l5-0.2l5 2.4l2 0.6l7-0.6l3 0.4l4 0.9l5 1.9l2 0.3l8-0.9l8 0.7l6 1l10 0.1l6-1l5 1.1l2 0.1l7-0.9l7 0.8l6 0.3l6-0.3l5 1l8-0.9l7 1.2l6-0.8l7 0.2l8-1l7 1.5l4 0.4l2-0.5l4-2.2l2-0.4l3 0.5l5 2.4l2 0.6l2-0.4l3-1.4l2-0.4l6 2.1l2-0.2l5-1.5l6 1.1l2-0.1l7-2.1l2-0.2l2 0.2l5 2l2 0.3l6-1.8l2-0.2l2 0.1l4 1.3l2 0.4l7-1.9l11 0.6l5-0.3l7 1.7l9-1.4l6 0.7l5-0.1l7-1.5l2 0.1l6 1.4l2-0.1l4-1l2-0.1l6 1.3l10-1.2l2 0.2l5 1.1l2-0.5l3-1.4l2-0.4l2 0.2l4 1.5l2 0.2l2-0.6l6-3.8l2-0.1l4 0.9l2-0.3l3-1.6l7-5l2-0.9l3-0.6l2-0.8l2-1.7l4-4.6l2-1.4l2-0.6l10-1.7l2 0.7l1 0.8l6 7.3l3 2.8l2 0.7l4 0.4l2 0.5l8 5l7 1.1l7 2.8l2 0.2l5-1l2 0l7 1.6l10-1.1l7 1.6l2-0.5l4-1.9l2.4-0.6"/><path d="M1089.3 1529.2l1-0.8l4 0.1l2-0.3l5-2.6l2-0.7l2 0.1l5 1.6l2 0l2-1l5-4.1l3-1.8l7-1.7l6-2.9l2-0.4l3 0.8l8 4.5l5 1.1l2 0.7l6 4.4l3 1.3l2-0.1l5-1.2l5 0.7l5 0.3l2-0.3l3-1.3l2-0.4l2 0.3l5 2.7l2 0.2l2-0.7l4-2.6l2-0.5l2 0.3l5 1.9l2-0.2l1-0.5l2-1.8l5-6.3l4-2.5l2-1.7l3-4.7l5-10.7l2-2.5l1-0.3l1 0.5l2 2.9l5 11.2l2 3l1 0.9l2 0.3l4-1.4l2 0.1l2 1.5l5 6.9l2 1.4l2 0.2l3-0.5l2 0.2l5 2.8l3 1l3-0.4l5-2.5l2-0.2l1 0.3l3 1.9l2 0.6l2-0.9l4-3.7l2-1.1l2-0.1l4 1.6l2 0.4l2-0.2l8-2.4l6-0.1l2-1l2-2.2l3-5.1l2-4.5l4-12.7l7-28l1-2.6l1-1.6l1-0.2l1 1.1l2 5.5l6 25.2l3 9.8l3 6.8l3 3.8l2 1.2l3 0.6l3-0.5l2-0.9l3-3.1l7-11.4l2-1.8l1-0.1l2 1.3l5 6.4l2 0.9l4 0.5l2 1.6l2 2.6l4 6.6l3 3.5l2 1.1l6 1.1l5 2.5l2 0.5l3-0.2l7-1.8l3 0.6l4 1.8l2 0.1l2-0.9l4-3.1l2-0.8l2 0.1l4 1.7l2 0.1l3-1.4l5-4.4l2-0.9l2 0.4l4 3.2l2 0.7l2-0.7l4-3l1-0.3l2 0l2 1l4 3l2 0.5l2-1l4-4.9l2-1.6l1-0.3l5 0l2-1l5-3.9l2-0.8l1 0.2l2 1.5l6 8.1l3 2.3l2 0.2l4-0.8l2 0l2 0.8l4 2.3l2 0.4l2-0.2l5-1.5l2 0.2l4 1l2-0.1l2-1l2-1.8l9-10.4l3-4.6l6-11.8l2-2.6l1-0.6l1 0l1 0.3l7 5.8l2 1.1l2 0.2l3-1.1l8-6.2l4-1.7l3-0.7l2 0.4l1 0.7l2 2.2l2 3.2l7 12.8l3 4.3l5 4.7l9 6.4l3 1l5-0.9l2 0.2l4 2.1l2 0.7l2-0.1l5-1.2l3-0.1l3 1.1l5 3.1l2-0.1l4-3.1l2-0.7l2 0.6l5 4.3l2 0.6l2-0.7l5-4.4l2-0.6l2 0.8l4 3.5l2 0.8l2-0.5l4-2.4l2-0.6l1 0l2 0.7l4 2.8l2 0.1l2-1.1l4-3.3l2-0.6l2 0.7l5 3.5l2 0.4l2-0.6l4-2.4l2-0.7l2 0.2l6 3.1l2 0.4l2-0.7l3-2.1l2-0.7l2 0.3l5 2.2l2 0.2l9-1.6l9 0.7l7-0.6l7 1.2l6-0.8l7-0.4l3 0.4l6 1.7l2-0.2l3-1.1l2-0.3l6 0.8l9-1l8 0.7l6-0.9l7 0l2.4 0.5"/><path d="M1089.3 1608.9l3 0.6l3-0.1l7-1.8l6 1.7l8-2l3-0.1l6 0.6l6-1.3l9-0.9l5-1.8l5-0.9l2-0.7l4-3l3-3.8l4-7l8-16.5l2-3l1-0.8l1-0.4l1 0.3l2 2l7 13.3l6 9.4l3 3.3l5 3.8l3 1.5l4 0.7l3-0.3l5-1.5l8 1.3l3-0.3l2-0.7l3-1.9l4-3.5l2-2.4l2-3.6l4-11.1l8-28.8l2-5.3l1-1.5l1-0.8l1 0.1l1 0.9l2 3.9l2 6.1l7 25.1l4 11l3 5.3l3 3.7l4 4l2 1.2l1 0.3l7 0.4l8-0.4l3-1l5-2.4l6-1.2l5-2l3-0.6l9 0.6l17 1.9l2 0.1l2-0.3l4-2.3l8-6.6l2-2.4l7-10.6l3-2.9l2-1l1-0.2l2 0.5l3 2.8l3 4.5l5 8.7l3 4.3l4 3.8l5 3.4l2 1l2 0.5l6-0.3l2 0.2l5 1.7l5 0.9l4 1.5l5 0.5l6 2.3l4 0.7l10-0.2l7 1.1l9 0.5l3-0.2l6-1.3l3-0.3l7 1l20-0.6l11 0.8l10-0.9l8 0.6l6-0.8l10 1.5l5-1.1l2-0.1l14 1.4l9 1.5l3-0.5l5-2.1l4-0.4l7 0.4l5-0.3l8 1.2l6 0.2l12-1.6l10-0.5l9 1.1l9 1.8l2 0.2l6-1.5l4-0.3l5-0.9l5-0.3l7 0.8l7-0.4l8 1.3l7 0.4l10-0.1l9-1.6l8 0.8l8-0.9l6 0.5l10-0.8l5-1.5l3-0.6l7-0.2l2-0.5l5-2.2l6-1.3l3-1.4l3-1.9l6-5l3-2l6-2.2l3-0.4l2 0.5l6 3l2 1.4l6 5.5l3 2l10 3.6l6 1.2l9 2.7l2-0.1l6-1.6l7 1.3l9-1.3l2 0.3l5.4 1.7"/><path d="M1089.3 1691.1l5 0.3l5-1.6l2-0.4l8 0.7l6 0.1l4-1.2l6-0.9l6-0.3l7-3l3-2.1l2-2.3l6-9.1l10-13.5l2-1.9l2-0.7l2 0.7l4 3.7l5 5.7l8 10.5l4 3.5l3 1.3l14 2.1l3 0.1l3-0.8l7-4.3l2-2l2-2.9l4-8.2l8-21.1l2-4.4l2-3.3l1-1l1-0.6l1-0.2l1 0.4l1 0.9l2 3.2l12 30.2l2 4.3l2 3.3l3 3.1l5 3.4l6 3.2l4 0.9l11-0.7l7 1.2l6-1.4l5-2.1l2-0.4l3 0.4l8 2l7-0.1l5 1l2-0.1l4-1.3l4-0.2l2-0.5l4-2.4l5-2.2l5-2.9l3-0.9l3-0.2l4 0.9l8 4.3l5 1.7l20 2.1l6-0.1l9 1.3l6 2.3l3 0.5l6 0.2l6-0.9l9 1.3l5-0.9l2 0l5 2.6l2 0.4l7-0.9l7 0.4l5-1l6 0.7l2-0.1l23-5l3-0.3l4 0.3l6-0.8l12 0.8l12 1.7l5 0.1l7 1.8l10-0.5l5 1l2 0.1l10-2.7l5-0.6l5-1.2l5-0.3l5 0.2l2-0.3l3-1l6-3.1l3-0.7l5-0.3l4 0.9l7 3.2l3 1.1l3 0.7l4 0.2l2 0.5l7 3.3l6 0.6l5 1.3l8-0.8l11 1l10-1.2l4-0.2l4 0.3l6 1.7l2 0.1l6-1.8l2-0.3l5 0.5l14-1l9-0.3l9-1.3l7 1.1l8-1l4-1.3l6-1.1l3-1.6l5-3.6l4-2.4l9-4l2-0.7l2-0.2l5 0.7l5 1.8l14 9.6l5 2l9 1.6l8 0.2l9 2.3l6-0.3l5-0.9l6 0.5l8-1.2l3 0.5l3.4 1.1"/><path d="M1089.3 1774.8l4-1.9l2-0.1l5 0.5l3-0.1l8-2.2l7 0l5 1.2l2 0.2l2-0.4l6-2.9l4-0.3l2-0.6l3-2.1l6-5.4l9-10.7l6-8.9l2-1.9l2-0.6l3 0.7l2 1.2l2 2l5 6.7l5 6l4 3.6l4 2.6l3 0.9l5 0.1l10 1.8l3 0l2-0.6l3-1.8l5-4.2l2-2.2l3-4.4l4-8.1l8-22.4l3-4.9l2-1.5l1-0.2l1 0.3l1 0.8l2 3.2l9 23.5l3 6.2l3 4.8l6 6.8l4 3.6l4 2.2l6 1.9l4-0.3l7-1.7l5-0.3l2-0.4l6-3.3l5-1.9l7-4.3l4-1.4l3 0.1l8 2l9 0.9l12-1.7l6-1.6l10-1.8l3 0.4l8 2.2l4 2.2l8 5.4l2 0.7l4 0.4l3 0.9l7 3l6 3.2l5 0.6l5 1.1l7-0.7l7 0.2l11 3.1l2-0.1l4-0.9l8 0.1l6-0.9l7 0.6l6 0.2l5 0.8l5-0.4l6 0.5l10-1.2l9-0.4l6 0.8l6-0.1l9 1.4l2-0.1l4-0.9l3-0.4l4 0.1l6 0.8l5-0.1l5-0.9l2 0l3 0.3l6 1.7l2 0.2l6-1.4l3-0.3l5 0l5 0.9l8 0.6l8-1.4l4 0.2l5-0.4l6 0.9l8-1.5l7 0.8l6-0.4l18 0.7l9-0.5l8 1.1l7-1.4l11 0.6l4 0.5l2-0.1l4-0.8l5 0.7l5-0.3l4 0.2l5-0.6l5-0.2l5-1l7 1.4l7-0.6l8-1.9l7-0.4l3-0.6l3-1.1l6-3.6l6-2.2l6-3.6l2-0.7l9-1.6l2 0.3l3 1l10 5.9l8 3l6 1.4l5 2.4l2 0.7l6 0l5 0.8l7-0.4l6 1.4l4-0.4l7 0.6l7-1.1l2.4 0.5"/><path d="M1089.3 1854.4l5 1.7l4 0.3l6-1.3l5 0l6-1.9l6-0.9l3-1.6l5-4.8l2-1.4l2-0.4l4 0.7l2-0.3l2-1.5l9-10.1l3-2.7l4-2.2l7-1.6l3 0.2l4 1.5l2 1.8l4 5.3l2 1.9l2 1.2l9 3.8l6 1.5l9 0.7l3-0.1l2-0.7l3-1.7l2-1.6l3-3.7l2-3.4l5-11.6l8-22.2l2-3.6l1-1.1l1-0.4l1 0.1l2 1.5l3 4.5l3 6.5l5 12.6l3 6.7l5 9.7l3 4.2l4 3.6l8 5.8l3 0.9l5-0.8l2 0.1l2 0.9l5 4l2 0.6l2-0.7l4-4.1l2-1l1 0.1l1 0.6l5 5.4l2 0.7l2-1l5-5.1l2-0.9l2-0.1l1 0.3l2 1.4l3 2.8l2 0.8l1-0.3l1-0.8l5-6.6l2-1.1l2 0.5l4 2.6l2 0.3l2-1.4l1-1.5l4-8.4l2-3.5l2-1.8l1-0.3l2 0.9l3 3l2 1.2l1-0.1l1-0.5l4-3.3l2-0.3l1 0.5l2 2l5 7.1l1 0.8l1 0.3l1-0.1l1-0.7l5-6.5l2-1.3l1-0.1l2 1l4 4l2 1.2l2-0.1l4-1.7l2 0.4l2 1.7l5 6.6l2 1.5l2-0.1l3-1.2l2-0.2l2 0.7l9 4.2l3 0.3l4-0.9l2-0.1l2 0.6l4 1.9l2 0.4l2-0.1l6-1.3l9-0.3l7-1.4l6-1.8l6-0.1l3-0.4l2-0.9l6-4.3l9-4.3l2-1.5l5-4.9l2-1.3l2-0.5l1 0.2l5 3.1l2 0.2l2-0.9l3-2.4l2-0.7l1 0.2l2 1.6l2 2.6l4 6.4l2 2.3l1 0.5l1 0.1l4-1.7l2 0.2l2 1.5l5 6.1l1 0.5l1 0.1l2-1.1l5-6l2-1.5l2-0.1l4 1.5l2-0.5l1-0.7l2-2.3l5-8.1l2-1.5l1 0.1l2 1.6l3 4.5l2 2.2l1 0.4l1-0.2l1-0.7l2-2.6l3-5.2l2-2.8l2-1.5l3-1l2-1.9l3-5.8l5-13.1l1-1.6l1-0.7l1 0.1l1 1l1 1.6l7 17.9l3 4.9l3 3l6 4.7l5 6.4l2 2.1l11 6.7l3 1.2l9 0.3l13 2.5l2-0.5l4-2.2l2-0.3l6 1.7l6 0.6l6 1.3l2 0.1l5-0.4l6-2l4-0.7l2 0.3l5 2.3l2 0.3l3-0.7l6-3.3l2-0.6l3 0.1l4 1.4l2-0.3l5-3.8l3-1.3l3 0.4l4 2l1 0.1l1-0.3l2-1.9l4-5.5l2-1.5l1-0.2l2 0.7l4 3.4l1 0.6l1 0.1l1-0.3l2-1.8l5-6.5l1-0.8l1-0.2l1 0.2l1 0.6l5 6.1l2 1.5l2 0l5-3.5l1-0.1l1 0.3l2 1.8l4 5.6l2 1.3l1 0.1l2-0.6l5-3.8l1-0.2l1 0.2l2 1.8l4 5.7l2 1.8l1 0.2l1-0.2l5-4.6l2-0.9l2 0.8l5 5.6l2 1.3l1 0.3l2-0.5l5-4l2-0.6l2 0.7l4 3.3l2 0.9l2-0.2l3.4-1.9"/><path d="M1089.3 1940.1l4-2.1l2-0.5l11 0.6l7-0.6l9-1.5l2-0.8l6-3.5l5-2l2-0.2l3 1.1l4 3.1l2 1l5 0.7l5 1.5l9 1.8l13-0.2l10-2.1l7 0.7l7-0.9l5 0.9l3-0.1l8-2.6l2-1.1l3-2.4l2-2.2l3-4.1l8-13.9l2-2.2l1-0.5l1 0.2l1 0.6l2 2.4l7 13.1l3 3.7l4 2.7l10 3.9l3 0.5l6 0.3l4 0.5l7-0.1l12-1.9l7-2.1l6 0.6l6 1.4l12-0.7l3-1.5l3-2.9l3-4.2l2-4.3l2-5.7l2-7.4l7-32.6l1-3.3l1-2l1-0.5l1 1.1l2 6.2l5 23.8l3 12.1l3 8.3l1 1.8l2 2.5l2 1.3l2 0.6l11 0.3l2-0.3l5-2.2l2-0.4l2 0.2l3 0.8l7 2.8l8 2.3l7 3.6l7 0.5l5 1.3l7-1.2l5-0.3l8 0.2l8-1.9l4-1.6l7-4.6l4-1.4l6-0.1l7 1.8l6 0.8l3-0.4l4-1.1l9-1.8l3 0.1l3 0.6l6 2.8l10 2.8l5 1.7l14 1.8l5-0.8l6 0.4l2-0.5l4-2.5l3-3l3-4.4l2-3.9l4-10.4l7-24.7l2-4.8l1-1.4l1-0.5l1 0.4l2 3.1l6 16l2 4l2 2.6l2 1.3l1 0.2l2-0.2l2-1l5-3.8l2-0.6l2 0.5l2 1.7l1 1.3l7 12.6l10 12.1l2 1.8l4 2.7l6 2.1l9 0.6l7 2.1l2 0.2l2-0.3l4-1.5l3-0.6l3 0.3l4 1.5l2 0.3l7-1.1l8 0.2l6-1.3l2-0.1l2 0.3l5 2l2 0.1l4-1.6l2-0.4l2 0.5l4 2.3l2 0.5l2-0.5l3-1.7l2-0.7l3 0.2l5 2.4l2 0.4l2-0.6l3-1.7l2-0.4l2 0.5l5 3.3l2 0.6l2-0.4l3-1.7l2-0.7l2 0.2l4 1.6l2 0.2l6-1.5l3-0.1l6 2l2 0.2l6-1.7l10 0.6l6-1.4l2 0.3l3 1.5l2 0.5l2-0.6l3-1.4l2-0.3l3 0.5l9 2.5l2-0.2l5-1.8l2 0.3l5 1.5l2 0.3l2-0.2l5-1.6l7 0.8l11.4-1.2"/><path d="M1089.3 2015.8l3 2.7l2 0.7l5-0.5l6 0.6l9-1.2l6-0.3l3-0.5l6-1.9l1 0.7l9-4.1l7-2.3l2-1.7l1-1.4l4-7.1l3-4l9-9.2l4-4.8l2-1.5l1-0.2l2 0.4l4 2.4l6 2.5l2 0.5l3 0.2l2 0.7l2 1.6l4 4.6l2 1.8l2 1.2l3 1.1l2 1.2l7 7.4l2 0.9l1-0.3l2-1.8l3-4.1l2-2.3l5-2.3l2-2.5l3-7.4l5-17.7l2-6l2-4.2l1-1.4l1-0.8l1-0.4l1 0.2l2 1.9l5 7.4l2 3.8l3 8.5l5 17.7l2 5.1l1 1.6l2 1.7l4 0.5l2 1.3l2 2.6l4 7.1l2 2.2l1 0.3l1-0.3l1-0.8l4-4.6l2-1.2l2 0.1l5 2.7l2-0.1l2-1.6l4-5.4l2-1.6l2 0.1l4 1.8l2 0l1-0.4l2-1.8l4-4.6l2-1.2l2 0.2l4 2.7l2 0.8l2 0.1l4-0.8l2 0l2 1l3 2.4l2 0.5l2-0.6l8-3.9l10-3l5-2.1l2-0.3l9 1.8l3 1.1l3 1.9l6 6l3 2.4l9 4.2l6 3.5l2 0.7l3 0.6l10 0.4l5 2.3l2 0.3l2-0.4l4-2.4l2-0.5l2 0.6l4 3.2l2 0.8l2-0.4l6-3.9l2-0.1l2 1l3 2.8l2 1.2l1-0.1l1-0.5l5-4.3l2-0.5l2 0.6l2 1.9l3 3.7l1 0.7l1 0.2l1-0.3l1-0.8l4-4.7l2-1.1l1 0.2l1 0.7l5 5.7l1 0.4l1-0.2l2-2l3-4.2l2-1.3l1 0l1 0.5l6 6.2l1 0.5l1 0.1l2-1.3l4-4.7l1-0.5l1-0.1l2 1.4l4 5l2 1.2l1 0l2-1.2l4-4.4l2-1.4l2 0.1l4 2.8l2 0.8l2-0.3l5-3l2-0.7l2 0.3l4 1.3l4 0.2l6-2.3l2 0l3 0.5l2-0.2l2-1.2l6-4.6l3-1.1l1 0l2 0.7l5 3.2l2 0.9l2 0.2l3-0.4l2 0.2l8 2.9l2 0.4l6-0.3l2 0.2l2 0.7l4 2.2l2 0.5l2-0.5l3-1.7l2-0.7l2 0.3l4 2l2 0.4l2-0.4l4-2.1l2-0.7l2 0.1l6 2l2 0.3l2-0.4l4-2.3l2-0.2l2 0.9l5 4.2l2 0.5l2-1l5-4.5l2-0.6l2 0.7l5 4.6l1 0.5l1 0l2-1.2l4-4.6l1-0.5l1-0.1l2 1.3l4 4.5l1 0.6l1 0.1l2-1.1l4-4.5l2-1l2 0.5l5 4.4l1 0.4l1 0l2-1.2l4-4l2-1.2l1-0.1l2 0.8l4 4.9l1 0.9l1 0.3l1-0.3l1-0.7l4-4.4l2-1.2l2-0.1l5 2.1l2-0.5l2-1.7l6-7.4l2-0.9l5 1.7l2-0.5l2-1.7l4-4.7l2-1.3l1-0.1l2 0.7l3 1.8l2 0.6l2 0l5-0.8l3 0.4l6 3.7l5 1.8l7 3l6 3.4l3 0.8l5-0.7l2 0.3l2 1l4 2.9l2 0.6l2 0l5-1.2l3-0.2l2 0.2l5 2.3l2 0.3l2-0.5l5-2.7l5-0.3l0.4-0.2"/><path d="M1089.3 2100.3l10 0.7l5-0.2l7-0.9l8-0.2l6 0.8l2-0.7l5-3.6l2-1l2-0.3l4 0.1l2-0.7l4-2.7l4-3.6l3-3.7l5-8l3-4.1l5-5.4l2-0.8l2 0.7l2 1.9l7 10l3 3.2l4 3.4l8 5.3l2 0.8l2 0.3l4-0.4l5 0.4l3-0.7l5-2.7l4-3l3-3.3l3-4.5l3-5.9l3-7.4l6-19.5l2-5.6l2-3.6l1-1l1-0.2l1 0.6l1 1.2l2 4.2l9 27.4l2 5.3l3 5.7l4 5.8l4 4.6l4 2.6l12 3.6l5 0.9l7 0.3l4-0.4l2-0.7l4-2.5l2-0.7l2 0l4 0.7l8-0.5l6 0.2l11-2.8l2-1.4l2-2.7l7-14.1l3-5.1l2-2l2-0.4l1 0.4l2 1.6l5 6.4l2 2.1l5 3.1l2 1.7l6 8.4l3 3.5l3 2.3l2 0.6l2 0l5-0.8l6-0.2l11 2.3l9 3.1l3 0.8l8 0.9l7-0.5l6 0.9l5-0.6l5-0.2l6-2.1l6-0.6l9-3.3l6-0.9l7-2.2l3-0.1l6 0.6l8-1.4l8-0.4l3 0.4l3 1l6 3.1l10 4.1l3 0.2l4-0.7l7 0.9l11-0.6l5-1.1l4-1.9l4-2.6l4-3.6l2-2.6l2-3.5l7-15.4l2-2.8l1-0.7l1-0.3l1 0.2l2 1.7l6 9.8l1 1.1l2 1.5l3 1.1l3 0.4l2-0.7l4-1.8l2-0.2l1 0.3l2 1.2l6 5.6l5 3.9l8 4.8l5 3.4l5 2.1l6 1.2l8 0.3l9 1.7l8 0.2l7-0.3l2 0.3l5 1.7l2 0.4l2-0.1l4-1.3l2-0.3l7 0.8l16-1.7l2 0.3l4 1.2l2 0.1l7-1.6l8 0.2l8-1.2l6-0.1l5-1.3l6-0.7l2-0.6l8-3.4l6-4l11-5.6l2-0.9l2-0.3l2 0.3l2 0.8l7 3.9l7 2.7l8 4l5 1.1l6 2l4 0.7l5 1.8l5 0.4l5 1.2l8-1.4l4-0.1l9 1.2l5.4 1.6"/><path d="M1089.3 2183.9l1 0.3l6-0.3l7-1.5l7 0.9l4-0.7l6-0.3l2-0.3l5-2l2-0.4l8 0l4-1l3-2.1l6-6.9l6-4.8l2-2.5l5-8.7l2-2.2l1-0.4l2 0.2l3 1.9l6 6.2l6 4.2l6 7.7l2 1.6l1 0.4l2 0l4-1.8l2-0.3l2 0.2l4 1.2l2 0.2l2-0.5l4-1.8l6-1.1l2-1.3l2-2l3-4.8l4-10.1l8-24.8l3-6.1l1-1.1l1-0.6l1 0.1l1 0.8l2 3.6l2 5.4l5 16.6l2 5.6l4 8.6l3 5.3l6 7.2l3 2.9l3 1.5l6 1.4l4 2l2 0.5l2-0.1l2-0.7l2-1.2l6-4.9l3-0.8l3 0.6l7 3.5l8 2l5 0.5l2-0.1l2-0.6l2-1.3l5-4.7l4-2.7l2-1.7l3-4.4l5-9.8l2-3.3l2-2l2-0.4l2 0.8l2 1.7l8 8.4l7 8.8l2 1.8l1 0.2l2-0.7l4-3.6l3-1.6l3-0.4l10-0.2l2 0.6l2 1.4l5 6.1l3 2.5l2 0.8l7 1l2 1.2l4 4l2 1.1l2-0.1l4-1l2 0.1l2 0.7l4 2.8l2 0.8l2-0.4l5-2l2-0.3l2 0.2l5 1.8l2 0.2l3-0.7l8-2.8l6 0.4l7-1.3l3 0.2l7 1.4l2-0.3l5-1.4l7 0.2l6 0.5l6-1.3l2 0.3l10 3.1l6 0.4l6 0.9l2-0.2l6-2.4l7 0.2l7-2.5l5-3.1l6-3l3-3.3l6-9.7l2-1.8l2-0.4l1 0.2l2 1.2l6 4.8l3 1.3l8 1.2l2-0.3l5-1.9l2 0.2l2 1.5l5 6.9l2 1.8l3 1l6 0.3l2 0.7l2 1.9l4 4.9l2 1l2-0.6l4-3.3l2-0.6l2 0.6l4 2.4l3 1.1l2 0l7-2l2 0.4l4 2.2l1 0.3l2-0.4l5-3.7l2-0.7l2 0.5l4 2l6 1.4l6-1l5 1l3 0.2l8-1.2l3 0.3l5 0.9l6-1.2l5-0.6l2 0.1l5 1l3 0l8-2.4l6-0.6l6-2.9l8-2.3l7-4.4l7-3.2l8-2.3l3-0.4l3 0.9l5 3.8l4 2.2l2 0.7l4 0.6l2 0.8l5 3.9l2 1.2l3 1l8 1.3l5 2.3l1 0.2l2-0.5l5-3.2l2-0.4l2 0.7l6 3.8l2 0.6l2-0.1l5-3.1l2-0.6l2 0.4l5 2l2-0.2l1.4-0.9"/><path d="M1089.3 2265.7l2 0.7l2 0.2l6-1.9l9-1.4l8-0.1l5 0.7l2-0.1l5-1.1l5-0.6l6-1.7l7-0.5l6 0.2l13-3.6l2 0.2l6 1.3l6-0.5l6 0.9l6 0.2l8 2l9-0.3l10-4.4l3-2.2l2-2.2l2-3l2-3.8l10-22.3l2-2.5l1-0.4l1 0.2l1 0.8l3 4.7l7 18.1l3 5.8l2 2.6l5 5.4l2 1.7l2 1.2l5 1.7l7 1.6l6-0.6l7 0.9l8-2.1l6-0.7l5-0.9l5 0.9l4 0.2l4 0.7l8-0.2l3-1.5l2-1.9l2-3l3-6l2-5l2-6.3l7-27.5l1-2.7l1-1.8l1-0.4l1 0.8l2 5.2l5 21.2l3 10.1l1 2.5l2 3.4l1 1.1l2 1.2l3 0.3l4-0.2l2-0.4l2-1l4-3.2l3-1.9l2-0.8l2-0.1l3 0.9l6 3.1l3 2.1l7 6l10 6l4 0.9l12 0.8l7 0.9l4 0.1l3-0.4l16-4.3l5-2.5l6-1.9l6-4.7l2-0.9l3-0.6l11-0.6l7-3l10-1.3l3 1.1l4 2.4l3 2.3l5 4.8l5 2.8l4 1.2l6 0l5 0.8l3 0.1l13-4.8l3-2.6l3-4.2l3-5.9l3-8.3l2-7.3l5-21.3l2-6.9l1-2.4l1-1.3l1-0.4l1 0.7l2 3.9l5 15.5l3 8.1l2 3.9l2 2.4l2 0.8l2-0.8l2-1.9l6-7l2-1.3l1 0l1 0.4l1 0.9l2 3.1l10 19.9l3 4.9l3 4l2 2.2l3 2.5l1 2.1l2 0.6l5-0.5l2 0.5l2 1.5l3 3l1 0.5l2 0.1l4-1.6l3-0.5l3 0.4l8 2.2l6 0.1l7 1.6l5-0.6l13-2.6l5 0.8l5 0.1l6 1.4l3 0.2l10-3.3l2 0l6 1.5l9-1.9l7 0l2-0.7l5-2.6l4-1l2-0.1l5 0.6l5-1.2l9 0.2l2-0.5l5-2.5l3-0.3l4 0.7l5 1.8l8 0.7l9 2.6l7-1.3l3 0.5l4 1.8l2 0.4l5-1l3 0.2l4 1.8l2 1.4l5 6l1 0.1l1-0.9l3-4.9l1-0.9l1-0.3l1 0.1l5 2l6 1.5l0.4 0.5"/></g>
</svg></body></html>
